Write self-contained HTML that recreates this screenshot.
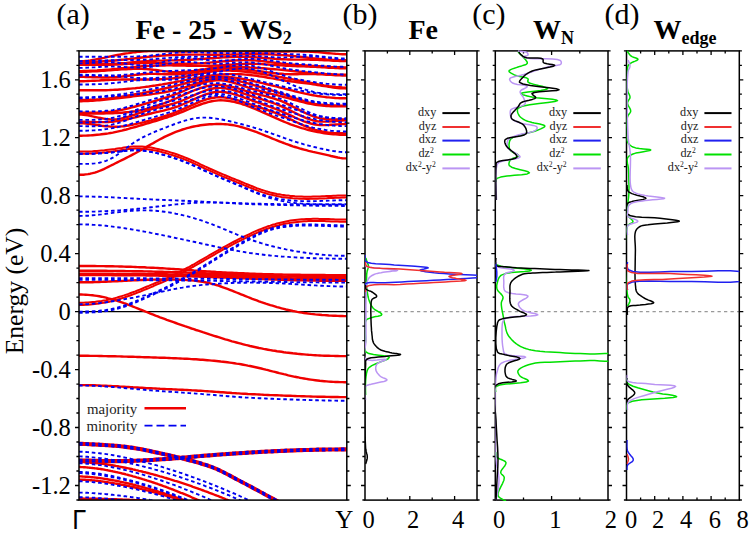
<!DOCTYPE html>
<html><head><meta charset="utf-8"><style>
html,body{margin:0;padding:0;background:#fff;width:753px;height:533px;overflow:hidden}
svg{display:block}
text{font-family:"Liberation Serif",serif;fill:#000}
.r{fill:none;stroke:#f00000;stroke-width:2.4;stroke-linejoin:round}
.thin{stroke-width:2.0}
.b{fill:none;stroke:#0000f0;stroke-width:1.9;stroke-dasharray:3.6 2.8}
.ax{fill:none;stroke:#000;stroke-width:1.5}
.tk{fill:none;stroke:#000;stroke-width:1.3}
.d{fill:none;stroke-width:1.5;stroke-linejoin:round}
.k{stroke:#000}.rd{stroke:#f03030}.bl{stroke:#2020f0}.gr{stroke:#00e000}.pu{stroke:#bb95f3}
.zl{stroke:#999;stroke-width:1.3;stroke-dasharray:3.3 3.2;fill:none}
</style></head><body>
<svg width="753" height="533" viewBox="0 0 753 533">
<defs><clipPath id="ca"><rect x="79" y="50.9" width="267.8" height="449.2"/></clipPath>
<clipPath id="cb"><rect x="365" y="50" width="112" height="451"/></clipPath>
<clipPath id="cc"><rect x="495.3" y="50" width="113" height="451"/></clipPath>
<clipPath id="cd"><rect x="626.5" y="50" width="112.8" height="451"/></clipPath>
</defs>
<g clip-path="url(#ca)">
<path d="M79 311.6H346.8" stroke="#000" stroke-width="1.2" fill="none"/>
<polyline class="r " points="79,355.8 81.3,355.8 83.5,355.8 85.8,355.8 88,355.8 90.3,355.9 92.5,355.9 94.8,355.9 97,355.9 99.3,356 101.5,356 103.8,356.1 106,356.1 108.3,356.2 110.5,356.2 112.8,356.3 115,356.3 117.3,356.4 119.5,356.4 121.8,356.5 124,356.6 126.3,356.6 128.5,356.7 130.8,356.8 133,356.8 135.3,356.9 137.5,357 139.8,357 142,357.1 144.3,357.2 146.5,357.3 148.8,357.3 151,357.4 153.3,357.5 155.5,357.5 157.8,357.6 160,357.7 162.3,357.8 164.5,357.8 166.8,357.9 169,358 171.3,358.1 173.5,358.2 175.8,358.3 178,358.4 180.3,358.5 182.5,358.6 184.8,358.7 187,358.8 189.3,358.9 191.5,359.1 193.8,359.2 196,359.3 198.3,359.5 200.5,359.7 202.8,359.8 205,360 207.3,360.2 209.5,360.4 211.8,360.6 214,360.8 216.3,361 218.5,361.2 220.8,361.5 223,361.7 225.3,362 227.5,362.3 229.8,362.6 232,362.9 234.3,363.2 236.5,363.6 238.8,363.9 241,364.3 243.3,364.7 245.5,365.1 247.8,365.6 250,366 252.3,366.5 254.5,367 256.8,367.5 259,368 261.3,368.5 263.5,369.1 265.8,369.7 268,370.2 270.3,370.8 272.5,371.4 274.8,371.9 277,372.5 279.3,373.1 281.5,373.6 283.8,374.2 286,374.7 288.3,375.3 290.5,375.8 292.8,376.3 295,376.8 297.3,377.2 299.5,377.7 301.8,378.1 304,378.5 306.3,378.9 308.5,379.3 310.8,379.6 313,379.9 315.3,380.2 317.5,380.5 319.8,380.8 322,381 324.3,381.2 326.5,381.4 328.8,381.6 331,381.7 333.3,381.9 335.5,382 337.8,382 340,382.1 342.3,382.1 344.5,382.2 346.8,382.2"/>
<polyline class="r " points="79,294.5 81.3,294.5 83.5,294.6 85.8,294.7 88,294.9 90.3,295.1 92.5,295.3 94.8,295.6 97,295.9 99.3,296.3 101.5,296.7 103.8,297.2 106,297.7 108.3,298.3 110.5,298.8 112.8,299.5 115,300.1 117.3,300.8 119.5,301.6 121.8,302.3 124,303.2 126.3,304 128.5,304.8 130.8,305.7 133,306.6 135.3,307.5 137.5,308.4 139.8,309.3 142,310.2 144.3,311.1 146.5,312 148.8,312.9 151,313.8 153.3,314.7 155.5,315.6 157.8,316.4 160,317.3 162.3,318.1 164.5,318.9 166.8,319.8 169,320.6 171.3,321.4 173.5,322.2 175.8,323 178,323.8 180.3,324.6 182.5,325.4 184.8,326.2 187,326.9 189.3,327.7 191.5,328.5 193.8,329.2 196,330 198.3,330.7 200.5,331.4 202.8,332.2 205,332.9 207.3,333.6 209.5,334.4 211.8,335.1 214,335.8 216.3,336.5 218.5,337.2 220.8,337.9 223,338.6 225.3,339.3 227.5,339.9 229.8,340.6 232,341.3 234.3,341.9 236.5,342.5 238.8,343.1 241,343.7 243.3,344.3 245.5,344.9 247.8,345.4 250,346 252.3,346.5 254.5,347 256.8,347.5 259,348 261.3,348.4 263.5,348.9 265.8,349.3 268,349.7 270.3,350.1 272.5,350.5 274.8,350.8 277,351.2 279.3,351.5 281.5,351.8 283.8,352.2 286,352.5 288.3,352.7 290.5,353 292.8,353.3 295,353.5 297.3,353.8 299.5,354 301.8,354.2 304,354.4 306.3,354.6 308.5,354.8 310.8,354.9 313,355.1 315.3,355.2 317.5,355.4 319.8,355.5 322,355.6 324.3,355.7 326.5,355.8 328.8,355.8 331,355.9 333.3,355.9 335.5,356 337.8,356 340,356.1 342.3,356.1 344.5,356.1 346.8,356.1"/>
<polyline class="r " points="79,282.3 81.3,282.3 83.5,282.3 85.8,282.3 88,282.2 90.3,282.2 92.5,282.2 94.8,282.1 97,282 99.3,282 101.5,281.9 103.8,281.8 106,281.7 108.3,281.6 110.5,281.5 112.8,281.4 115,281.3 117.3,281.2 119.5,281.1 121.8,281 124,280.9 126.3,280.8 128.5,280.6 130.8,280.5 133,280.4 135.3,280.3 137.5,280.2 139.8,280.1 142,280 144.3,279.9 146.5,279.8 148.8,279.8 151,279.7 153.3,279.6 155.5,279.6 157.8,279.5 160,279.5 162.3,279.5 164.5,279.4 166.8,279.4 169,279.4 171.3,279.5 173.5,279.5 175.8,279.6 178,279.6 180.3,279.7 182.5,279.8 184.8,279.9 187,280.1 189.3,280.2 191.5,280.4 193.8,280.6 196,280.9 198.3,281.2 200.5,281.5 202.8,281.9 205,282.3 207.3,282.7 209.5,283.2 211.8,283.8 214,284.4 216.3,285 218.5,285.7 220.8,286.5 223,287.3 225.3,288.1 227.5,288.9 229.8,289.8 232,290.7 234.3,291.6 236.5,292.5 238.8,293.4 241,294.3 243.3,295.2 245.5,296.1 247.8,297 250,297.9 252.3,298.8 254.5,299.6 256.8,300.4 259,301.3 261.3,302.1 263.5,302.8 265.8,303.6 268,304.3 270.3,305.1 272.5,305.7 274.8,306.4 277,307.1 279.3,307.7 281.5,308.3 283.8,308.9 286,309.5 288.3,310 290.5,310.5 292.8,311 295,311.4 297.3,311.9 299.5,312.3 301.8,312.6 304,313 306.3,313.3 308.5,313.6 310.8,313.9 313,314.1 315.3,314.4 317.5,314.6 319.8,314.8 322,315 324.3,315.1 326.5,315.3 328.8,315.5 331,315.6 333.3,315.7 335.5,315.8 337.8,315.9 340,316 342.3,316 344.5,316.1 346.8,316.1"/>
<polyline class="r thin" points="79,304.9 81.3,304.9 83.5,304.9 85.8,304.8 88,304.7 90.3,304.5 92.5,304.3 94.8,304.1 97,303.8 99.3,303.5 101.5,303.1 103.8,302.8 106,302.3 108.3,301.9 110.5,301.4 112.8,300.8 115,300.3 117.3,299.6 119.5,299 121.8,298.3 124,297.6 126.3,296.8 128.5,296 130.8,295.2 133,294.4 135.3,293.5 137.5,292.6 139.8,291.8 142,290.8 144.3,289.9 146.5,289 148.8,288.1 151,287.1 153.3,286.2 155.5,285.2 157.8,284.2 160,283.3 162.3,282.3 164.5,281.3 166.8,280.3 169,279.2 171.3,278.2 173.5,277.1 175.8,276 178,274.9 180.3,273.8 182.5,272.6 184.8,271.4 187,270.2 189.3,269 191.5,267.7 193.8,266.5 196,265.2 198.3,263.9 200.5,262.6 202.8,261.3 205,260 207.3,258.7 209.5,257.4 211.8,256.1 214,254.8 216.3,253.5 218.5,252.2 220.8,251 223,249.7 225.3,248.5 227.5,247.3 229.8,246 232,244.9 234.3,243.7 236.5,242.5 238.8,241.4 241,240.3 243.3,239.1 245.5,238.1 247.8,237 250,235.9 252.3,234.9 254.5,233.9 256.8,232.9 259,232 261.3,231 263.5,230.2 265.8,229.3 268,228.5 270.3,227.7 272.5,227 274.8,226.3 277,225.7 279.3,225.1 281.5,224.6 283.8,224.1 286,223.6 288.3,223.2 290.5,222.8 292.8,222.5 295,222.2 297.3,221.9 299.5,221.7 301.8,221.5 304,221.3 306.3,221.2 308.5,221.1 310.8,221.1 313,221 315.3,221 317.5,221 319.8,221 322,221.1 324.3,221.1 326.5,221.2 328.8,221.3 331,221.4 333.3,221.5 335.5,221.5 337.8,221.6 340,221.7 342.3,221.7 344.5,221.8 346.8,221.8"/>
<polyline class="r thin" points="79,302.8 81.3,302.7 83.5,302.7 85.8,302.6 88,302.5 90.3,302.3 92.5,302.1 94.8,301.9 97,301.6 99.3,301.3 101.5,301 103.8,300.6 106,300.2 108.3,299.7 110.5,299.2 112.8,298.7 115,298.1 117.3,297.5 119.5,296.8 121.8,296.1 124,295.4 126.3,294.6 128.5,293.9 130.8,293 133,292.2 135.3,291.4 137.5,290.5 139.8,289.6 142,288.7 144.3,287.7 146.5,286.8 148.8,285.9 151,284.9 153.3,284 155.5,283 157.8,282.1 160,281.1 162.3,280.1 164.5,279.1 166.8,278.1 169,277.1 171.3,276 173.5,274.9 175.8,273.9 178,272.7 180.3,271.6 182.5,270.4 184.8,269.2 187,268 189.3,266.8 191.5,265.5 193.8,264.3 196,263 198.3,261.7 200.5,260.4 202.8,259.1 205,257.8 207.3,256.5 209.5,255.2 211.8,253.9 214,252.6 216.3,251.3 218.5,250 220.8,248.8 223,247.5 225.3,246.3 227.5,245.1 229.8,243.9 232,242.7 234.3,241.5 236.5,240.4 238.8,239.2 241,238.1 243.3,237 245.5,235.9 247.8,234.8 250,233.8 252.3,232.7 254.5,231.7 256.8,230.7 259,229.8 261.3,228.9 263.5,228 265.8,227.1 268,226.3 270.3,225.6 272.5,224.8 274.8,224.2 277,223.5 279.3,222.9 281.5,222.4 283.8,221.9 286,221.4 288.3,221 290.5,220.6 292.8,220.3 295,220 297.3,219.7 299.5,219.5 301.8,219.3 304,219.2 306.3,219 308.5,219 310.8,218.9 313,218.8 315.3,218.8 317.5,218.8 319.8,218.9 322,218.9 324.3,219 326.5,219 328.8,219.1 331,219.2 333.3,219.3 335.5,219.4 337.8,219.4 340,219.5 342.3,219.5 344.5,219.6 346.8,219.6"/>
<polyline class="r " points="79,266 81.3,266 83.5,266 85.8,266 88,266 90.3,266 92.5,266 94.8,266 97,266.1 99.3,266.1 101.5,266.1 103.8,266.1 106,266.2 108.3,266.2 110.5,266.3 112.8,266.3 115,266.4 117.3,266.4 119.5,266.5 121.8,266.5 124,266.6 126.3,266.7 128.5,266.7 130.8,266.8 133,266.9 135.3,267 137.5,267.1 139.8,267.2 142,267.2 144.3,267.3 146.5,267.5 148.8,267.6 151,267.7 153.3,267.8 155.5,267.9 157.8,268 160,268.2 162.3,268.3 164.5,268.4 166.8,268.6 169,268.7 171.3,268.9 173.5,269 175.8,269.2 178,269.3 180.3,269.5 182.5,269.7 184.8,269.8 187,270 189.3,270.1 191.5,270.3 193.8,270.5 196,270.6 198.3,270.8 200.5,270.9 202.8,271.1 205,271.2 207.3,271.4 209.5,271.5 211.8,271.7 214,271.8 216.3,272 218.5,272.1 220.8,272.2 223,272.4 225.3,272.5 227.5,272.6 229.8,272.7 232,272.8 234.3,272.9 236.5,273 238.8,273.1 241,273.2 243.3,273.3 245.5,273.4 247.8,273.5 250,273.6 252.3,273.7 254.5,273.8 256.8,273.9 259,273.9 261.3,274 263.5,274.1 265.8,274.1 268,274.2 270.3,274.3 272.5,274.3 274.8,274.4 277,274.4 279.3,274.5 281.5,274.5 283.8,274.6 286,274.6 288.3,274.7 290.5,274.7 292.8,274.7 295,274.8 297.3,274.8 299.5,274.8 301.8,274.9 304,274.9 306.3,274.9 308.5,274.9 310.8,275 313,275 315.3,275 317.5,275 319.8,275 322,275 324.3,275 326.5,275.1 328.8,275.1 331,275.1 333.3,275.1 335.5,275.1 337.8,275.1 340,275.1 342.3,275.1 344.5,275.1 346.8,275.1"/>
<polyline class="r " points="79,270.7 81.3,270.7 83.5,270.7 85.8,270.7 88,270.7 90.3,270.8 92.5,270.8 94.8,270.8 97,270.8 99.3,270.8 101.5,270.8 103.8,270.8 106,270.8 108.3,270.9 110.5,270.9 112.8,270.9 115,270.9 117.3,271 119.5,271 121.8,271 124,271 126.3,271.1 128.5,271.1 130.8,271.1 133,271.2 135.3,271.2 137.5,271.3 139.8,271.3 142,271.3 144.3,271.4 146.5,271.4 148.8,271.5 151,271.5 153.3,271.6 155.5,271.7 157.8,271.7 160,271.8 162.3,271.8 164.5,271.9 166.8,272 169,272 171.3,272.1 173.5,272.2 175.8,272.2 178,272.3 180.3,272.4 182.5,272.5 184.8,272.5 187,272.6 189.3,272.7 191.5,272.8 193.8,272.9 196,273 198.3,273 200.5,273.1 202.8,273.2 205,273.3 207.3,273.4 209.5,273.5 211.8,273.6 214,273.7 216.3,273.8 218.5,273.9 220.8,274 223,274.1 225.3,274.2 227.5,274.3 229.8,274.4 232,274.4 234.3,274.5 236.5,274.6 238.8,274.7 241,274.8 243.3,274.9 245.5,275 247.8,275.1 250,275.2 252.3,275.3 254.5,275.4 256.8,275.5 259,275.5 261.3,275.6 263.5,275.7 265.8,275.8 268,275.9 270.3,275.9 272.5,276 274.8,276.1 277,276.2 279.3,276.2 281.5,276.3 283.8,276.4 286,276.4 288.3,276.5 290.5,276.5 292.8,276.6 295,276.6 297.3,276.7 299.5,276.7 301.8,276.7 304,276.8 306.3,276.8 308.5,276.9 310.8,276.9 313,276.9 315.3,276.9 317.5,277 319.8,277 322,277 324.3,277 326.5,277 328.8,277.1 331,277.1 333.3,277.1 335.5,277.1 337.8,277.1 340,277.1 342.3,277.1 344.5,277.1 346.8,277.1"/>
<polyline class="r " points="79,273.8 81.3,273.8 83.5,273.8 85.8,273.8 88,273.8 90.3,273.8 92.5,273.8 94.8,273.8 97,273.8 99.3,273.8 101.5,273.8 103.8,273.8 106,273.8 108.3,273.8 110.5,273.8 112.8,273.8 115,273.9 117.3,273.9 119.5,273.9 121.8,273.9 124,273.9 126.3,273.9 128.5,273.9 130.8,273.9 133,274 135.3,274 137.5,274 139.8,274 142,274 144.3,274 146.5,274.1 148.8,274.1 151,274.1 153.3,274.1 155.5,274.2 157.8,274.2 160,274.2 162.3,274.3 164.5,274.3 166.8,274.3 169,274.4 171.3,274.4 173.5,274.4 175.8,274.5 178,274.5 180.3,274.5 182.5,274.6 184.8,274.6 187,274.7 189.3,274.7 191.5,274.8 193.8,274.8 196,274.9 198.3,274.9 200.5,275 202.8,275.1 205,275.1 207.3,275.2 209.5,275.3 211.8,275.3 214,275.4 216.3,275.5 218.5,275.6 220.8,275.7 223,275.7 225.3,275.8 227.5,275.9 229.8,276 232,276.1 234.3,276.2 236.5,276.3 238.8,276.4 241,276.5 243.3,276.6 245.5,276.7 247.8,276.7 250,276.8 252.3,276.9 254.5,277 256.8,277.1 259,277.2 261.3,277.3 263.5,277.4 265.8,277.5 268,277.6 270.3,277.7 272.5,277.7 274.8,277.8 277,277.9 279.3,278 281.5,278 283.8,278.1 286,278.2 288.3,278.2 290.5,278.3 292.8,278.4 295,278.4 297.3,278.5 299.5,278.5 301.8,278.6 304,278.6 306.3,278.6 308.5,278.7 310.8,278.7 313,278.8 315.3,278.8 317.5,278.8 319.8,278.8 322,278.9 324.3,278.9 326.5,278.9 328.8,278.9 331,278.9 333.3,279 335.5,279 337.8,279 340,279 342.3,279 344.5,279 346.8,279"/>
<polyline class="r " points="79,275.1 81.3,275.1 83.5,275.1 85.8,275.1 88,275.1 90.3,275.1 92.5,275.1 94.8,275.1 97,275.1 99.3,275.1 101.5,275.1 103.8,275.1 106,275.1 108.3,275.1 110.5,275.1 112.8,275.2 115,275.2 117.3,275.2 119.5,275.2 121.8,275.2 124,275.2 126.3,275.2 128.5,275.3 130.8,275.3 133,275.3 135.3,275.3 137.5,275.4 139.8,275.4 142,275.4 144.3,275.4 146.5,275.5 148.8,275.5 151,275.5 153.3,275.6 155.5,275.6 157.8,275.6 160,275.7 162.3,275.7 164.5,275.8 166.8,275.8 169,275.9 171.3,275.9 173.5,276 175.8,276 178,276.1 180.3,276.1 182.5,276.2 184.8,276.2 187,276.3 189.3,276.4 191.5,276.4 193.8,276.5 196,276.6 198.3,276.6 200.5,276.7 202.8,276.8 205,276.8 207.3,276.9 209.5,277 211.8,277.1 214,277.2 216.3,277.2 218.5,277.3 220.8,277.4 223,277.5 225.3,277.6 227.5,277.7 229.8,277.8 232,277.9 234.3,277.9 236.5,278 238.8,278.1 241,278.2 243.3,278.3 245.5,278.4 247.8,278.5 250,278.6 252.3,278.7 254.5,278.8 256.8,278.9 259,279 261.3,279 263.5,279.1 265.8,279.2 268,279.3 270.3,279.4 272.5,279.5 274.8,279.5 277,279.6 279.3,279.7 281.5,279.8 283.8,279.8 286,279.9 288.3,280 290.5,280.1 292.8,280.1 295,280.2 297.3,280.2 299.5,280.3 301.8,280.3 304,280.4 306.3,280.4 308.5,280.5 310.8,280.5 313,280.6 315.3,280.6 317.5,280.6 319.8,280.7 322,280.7 324.3,280.7 326.5,280.8 328.8,280.8 331,280.8 333.3,280.8 335.5,280.8 337.8,280.9 340,280.9 342.3,280.9 344.5,280.9 346.8,280.9"/>
<polyline class="r " points="79,385.1 81.3,385.1 83.5,385.1 85.8,385.1 88,385.2 90.3,385.2 92.5,385.3 94.8,385.3 97,385.4 99.3,385.5 101.5,385.6 103.8,385.7 106,385.8 108.3,385.9 110.5,386 112.8,386.1 115,386.2 117.3,386.3 119.5,386.5 121.8,386.6 124,386.7 126.3,386.9 128.5,387 130.8,387.1 133,387.3 135.3,387.4 137.5,387.5 139.8,387.7 142,387.8 144.3,387.9 146.5,388.1 148.8,388.2 151,388.3 153.3,388.4 155.5,388.5 157.8,388.6 160,388.8 162.3,388.9 164.5,389 166.8,389.1 169,389.2 171.3,389.3 173.5,389.4 175.8,389.5 178,389.6 180.3,389.7 182.5,389.8 184.8,389.9 187,390 189.3,390.1 191.5,390.3 193.8,390.4 196,390.5 198.3,390.7 200.5,390.8 202.8,390.9 205,391.1 207.3,391.2 209.5,391.4 211.8,391.5 214,391.7 216.3,391.9 218.5,392 220.8,392.2 223,392.3 225.3,392.5 227.5,392.7 229.8,392.8 232,393 234.3,393.1 236.5,393.3 238.8,393.4 241,393.6 243.3,393.7 245.5,393.8 247.8,394 250,394.1 252.3,394.2 254.5,394.3 256.8,394.4 259,394.5 261.3,394.6 263.5,394.8 265.8,394.9 268,395 270.3,395.1 272.5,395.1 274.8,395.2 277,395.3 279.3,395.4 281.5,395.5 283.8,395.6 286,395.7 288.3,395.8 290.5,395.8 292.8,395.9 295,396 297.3,396.1 299.5,396.1 301.8,396.2 304,396.3 306.3,396.4 308.5,396.4 310.8,396.5 313,396.6 315.3,396.6 317.5,396.7 319.8,396.7 322,396.8 324.3,396.8 326.5,396.9 328.8,396.9 331,397 333.3,397 335.5,397 337.8,397 340,397.1 342.3,397.1 344.5,397.1 346.8,397.1"/>
<polyline class="r " points="79,174.8 81.3,174.8 83.5,174.7 85.8,174.4 88,174.1 90.3,173.7 92.5,173.2 94.8,172.6 97,171.9 99.3,171 101.5,170.1 103.8,169.1 106,168 108.3,166.9 110.5,165.8 112.8,164.7 115,163.5 117.3,162.4 119.5,161.3 121.8,160.2 124,159.1 126.3,157.9 128.5,156.8 130.8,155.6 133,154.4 135.3,153.2 137.5,152 139.8,150.8 142,149.5 144.3,148.2 146.5,146.9 148.8,145.6 151,144.3 153.3,143.1 155.5,141.8 157.8,140.5 160,139.3 162.3,138.1 164.5,136.9 166.8,135.8 169,134.8 171.3,133.8 173.5,132.8 175.8,131.9 178,131.1 180.3,130.3 182.5,129.5 184.8,128.8 187,128.2 189.3,127.6 191.5,127 193.8,126.5 196,126.1 198.3,125.7 200.5,125.3 202.8,125 205,124.7 207.3,124.5 209.5,124.3 211.8,124.2 214,124.1 216.3,124 218.5,124 220.8,124 223,124.1 225.3,124.2 227.5,124.4 229.8,124.7 232,125 234.3,125.4 236.5,125.9 238.8,126.4 241,127 243.3,127.6 245.5,128.3 247.8,129 250,129.8 252.3,130.6 254.5,131.4 256.8,132.2 259,133.1 261.3,134 263.5,134.9 265.8,135.8 268,136.7 270.3,137.6 272.5,138.6 274.8,139.5 277,140.4 279.3,141.3 281.5,142.2 283.8,143 286,143.9 288.3,144.7 290.5,145.5 292.8,146.3 295,147 297.3,147.7 299.5,148.4 301.8,149 304,149.6 306.3,150.2 308.5,150.8 310.8,151.3 313,151.9 315.3,152.4 317.5,152.9 319.8,153.4 322,153.9 324.3,154.4 326.5,154.9 328.8,155.4 331,156 333.3,156.5 335.5,157 337.8,157.5 340,157.9 342.3,158.2 344.5,158.4 346.8,158.4"/>
<polyline class="r thin" points="79,153.8 81.3,153.8 83.5,153.8 85.8,153.7 88,153.6 90.3,153.5 92.5,153.4 94.8,153.3 97,153.1 99.3,153 101.5,152.8 103.8,152.5 106,152.3 108.3,152 110.5,151.7 112.8,151.4 115,151.1 117.3,150.7 119.5,150.4 121.8,150 124,149.7 126.3,149.4 128.5,149.1 130.8,148.9 133,148.7 135.3,148.6 137.5,148.6 139.8,148.6 142,148.7 144.3,148.9 146.5,149.1 148.8,149.4 151,149.8 153.3,150.2 155.5,150.6 157.8,151.1 160,151.6 162.3,152.2 164.5,152.8 166.8,153.4 169,154.1 171.3,154.7 173.5,155.5 175.8,156.2 178,157 180.3,157.8 182.5,158.6 184.8,159.5 187,160.4 189.3,161.4 191.5,162.3 193.8,163.3 196,164.4 198.3,165.4 200.5,166.5 202.8,167.5 205,168.6 207.3,169.6 209.5,170.7 211.8,171.7 214,172.7 216.3,173.7 218.5,174.7 220.8,175.6 223,176.6 225.3,177.5 227.5,178.4 229.8,179.3 232,180.2 234.3,181.2 236.5,182.1 238.8,183 241,183.9 243.3,184.8 245.5,185.8 247.8,186.7 250,187.6 252.3,188.5 254.5,189.4 256.8,190.2 259,191.1 261.3,191.9 263.5,192.6 265.8,193.3 268,194 270.3,194.6 272.5,195.1 274.8,195.6 277,196.1 279.3,196.5 281.5,196.9 283.8,197.2 286,197.5 288.3,197.8 290.5,198 292.8,198.3 295,198.4 297.3,198.6 299.5,198.7 301.8,198.8 304,198.8 306.3,198.9 308.5,198.9 310.8,198.8 313,198.8 315.3,198.7 317.5,198.7 319.8,198.6 322,198.5 324.3,198.4 326.5,198.3 328.8,198.1 331,198 333.3,197.9 335.5,197.8 337.8,197.7 340,197.7 342.3,197.6 344.5,197.6 346.8,197.6"/>
<polyline class="r thin" points="79,151.6 81.3,151.6 83.5,151.6 85.8,151.5 88,151.5 90.3,151.4 92.5,151.3 94.8,151.1 97,151 99.3,150.8 101.5,150.6 103.8,150.4 106,150.1 108.3,149.8 110.5,149.5 112.8,149.2 115,148.9 117.3,148.5 119.5,148.2 121.8,147.9 124,147.5 126.3,147.2 128.5,147 130.8,146.7 133,146.6 135.3,146.5 137.5,146.4 139.8,146.4 142,146.5 144.3,146.7 146.5,147 148.8,147.3 151,147.6 153.3,148 155.5,148.5 157.8,148.9 160,149.5 162.3,150 164.5,150.6 166.8,151.2 169,151.9 171.3,152.6 173.5,153.3 175.8,154 178,154.8 180.3,155.6 182.5,156.5 184.8,157.4 187,158.3 189.3,159.2 191.5,160.2 193.8,161.2 196,162.2 198.3,163.2 200.5,164.3 202.8,165.3 205,166.4 207.3,167.4 209.5,168.5 211.8,169.5 214,170.5 216.3,171.5 218.5,172.5 220.8,173.5 223,174.4 225.3,175.3 227.5,176.2 229.8,177.2 232,178.1 234.3,179 236.5,179.9 238.8,180.8 241,181.7 243.3,182.7 245.5,183.6 247.8,184.5 250,185.4 252.3,186.3 254.5,187.2 256.8,188.1 259,188.9 261.3,189.7 263.5,190.4 265.8,191.1 268,191.8 270.3,192.4 272.5,192.9 274.8,193.4 277,193.9 279.3,194.3 281.5,194.7 283.8,195 286,195.4 288.3,195.6 290.5,195.9 292.8,196.1 295,196.3 297.3,196.4 299.5,196.5 301.8,196.6 304,196.7 306.3,196.7 308.5,196.7 310.8,196.7 313,196.6 315.3,196.6 317.5,196.5 319.8,196.4 322,196.3 324.3,196.2 326.5,196.1 328.8,196 331,195.9 333.3,195.7 335.5,195.7 337.8,195.6 340,195.5 342.3,195.4 344.5,195.4 346.8,195.4"/>
<polyline class="r " points="79,442.9 80.8,442.9 82.6,443 84.4,443.1 86.2,443.2 88,443.3 89.8,443.4 91.6,443.4 93.4,443.5 95.2,443.6 97,443.7 98.8,443.8 100.6,443.9 102.4,444 104.2,444.1 106,444.3 107.8,444.4 109.6,444.5 111.4,444.6 113.2,444.7 115,444.9 116.8,445 118.6,445.2 120.4,445.4 122.2,445.6 124,445.8 125.8,446 127.6,446.2 129.4,446.5 131.2,446.7 133,447 134.8,447.3 136.6,447.6 138.4,447.9 140.2,448.2 142,448.5 143.8,448.9 145.6,449.3 147.4,449.6 149.2,450 151,450.4 152.8,450.8 154.6,451.2 156.4,451.6 158.2,452 160,452.4 161.8,452.8 163.6,453.2 165.4,453.6 167.2,454 169,454.4 170.8,454.8 172.6,455.2 174.4,455.6 176.2,456.1 178,456.5 179.8,457 181.6,457.4 183.4,457.9 185.2,458.3 187,458.8 188.8,459.2 190.6,459.7 192.4,460.2 194.2,460.7 196,461.2 197.8,461.7 199.6,462.2 201.4,462.7 203.2,463.3 205,463.8 206.8,464.4 208.6,465 210.4,465.7 212.2,466.3 214,467 215.8,467.8 217.6,468.6 219.4,469.4 221.2,470.3 223,471.2 224.8,472.1 226.6,473 228.4,474 230.2,474.9 232,475.9 233.8,476.9 235.6,477.8 237.4,478.8 239.2,479.7 241,480.7 242.8,481.6 244.6,482.6 246.4,483.5 248.2,484.5 250,485.4 251.8,486.4 253.6,487.4 255.4,488.3 257.2,489.3 259,490.3 260.8,491.3 262.6,492.2 264.4,493.2 266.2,494.2 268,495.2 269.8,496.2 271.6,497.1 273.4,498.1 275.2,499.1 277,500 278.8,501 280.6,502 282.4,502.9 284.2,503.9 286,504.8 287.8,505.8 289.6,506.8 291.4,507.7 293.2,508.7"/>
<polyline class="r " points="79,459.7 81.3,459.7 83.5,459.7 85.8,459.7 88,459.8 90.3,459.8 92.5,459.9 94.8,459.9 97,460 99.3,460 101.5,460.1 103.8,460.1 106,460.2 108.3,460.2 110.5,460.2 112.8,460.2 115,460.3 117.3,460.3 119.5,460.3 121.8,460.2 124,460.2 126.3,460.2 128.5,460.1 130.8,460 133,460 135.3,459.9 137.5,459.8 139.8,459.7 142,459.6 144.3,459.5 146.5,459.4 148.8,459.2 151,459.1 153.3,459 155.5,458.8 157.8,458.7 160,458.5 162.3,458.4 164.5,458.2 166.8,458.1 169,457.9 171.3,457.8 173.5,457.6 175.8,457.4 178,457.2 180.3,457 182.5,456.8 184.8,456.6 187,456.4 189.3,456.2 191.5,456 193.8,455.8 196,455.6 198.3,455.4 200.5,455.2 202.8,455 205,454.8 207.3,454.6 209.5,454.4 211.8,454.3 214,454.1 216.3,453.9 218.5,453.7 220.8,453.6 223,453.4 225.3,453.3 227.5,453.1 229.8,452.9 232,452.8 234.3,452.6 236.5,452.5 238.8,452.4 241,452.2 243.3,452.1 245.5,451.9 247.8,451.8 250,451.7 252.3,451.5 254.5,451.4 256.8,451.3 259,451.1 261.3,451 263.5,450.9 265.8,450.8 268,450.7 270.3,450.6 272.5,450.4 274.8,450.3 277,450.2 279.3,450.1 281.5,450 283.8,449.9 286,449.8 288.3,449.7 290.5,449.6 292.8,449.6 295,449.5 297.3,449.4 299.5,449.3 301.8,449.3 304,449.2 306.3,449.1 308.5,449.1 310.8,449 313,448.9 315.3,448.9 317.5,448.8 319.8,448.8 322,448.8 324.3,448.7 326.5,448.7 328.8,448.6 331,448.6 333.3,448.6 335.5,448.6 337.8,448.6 340,448.5 342.3,448.5 344.5,448.5 346.8,448.5"/>
<polyline class="r " points="79,444.6 80.8,444.7 82.6,444.8 84.4,444.8 86.2,444.9 88,445 89.8,445.1 91.6,445.2 93.4,445.3 95.2,445.4 97,445.5 98.8,445.6 100.6,445.7 102.4,445.8 104.2,445.9 106,446 107.8,446.1 109.6,446.2 111.4,446.4 113.2,446.5 115,446.6 116.8,446.8 118.6,446.9 120.4,447.1 122.2,447.3 124,447.5 125.8,447.7 127.6,448 129.4,448.2 131.2,448.5 133,448.8 134.8,449 136.6,449.3 138.4,449.6 140.2,449.9 142,450.3 143.8,450.6 145.6,451 147.4,451.4 149.2,451.8 151,452.2 152.8,452.6 154.6,453 156.4,453.3 158.2,453.7 160,454.1 161.8,454.5 163.6,454.9 165.4,455.3 167.2,455.7 169,456.1 170.8,456.5 172.6,457 174.4,457.4 176.2,457.8 178,458.3 179.8,458.7 181.6,459.2 183.4,459.6 185.2,460.1 187,460.5 188.8,461 190.6,461.5 192.4,461.9 194.2,462.4 196,462.9 197.8,463.4 199.6,463.9 201.4,464.5 203.2,465 205,465.6 206.8,466.2 208.6,466.8 210.4,467.4 212.2,468 214,468.8 215.8,469.5 217.6,470.3 219.4,471.1 221.2,472 223,472.9 224.8,473.8 226.6,474.8 228.4,475.7 230.2,476.7 232,477.6 233.8,478.6 235.6,479.6 237.4,480.5 239.2,481.5 241,482.4 242.8,483.4 244.6,484.3 246.4,485.2 248.2,486.2 250,487.2 251.8,488.1 253.6,489.1 255.4,490.1 257.2,491 259,492 260.8,493 262.6,494 264.4,495 266.2,495.9 268,496.9 269.8,497.9 271.6,498.9 273.4,499.8 275.2,500.8 277,501.8 278.8,502.7 280.6,503.7 282.4,504.7 284.2,505.6 286,506.6 287.8,507.5 289.6,508.5 291.4,509.4 293.2,510.4"/>
<polyline class="r " points="79,461.4 81.3,461.4 83.5,461.4 85.8,461.5 88,461.5 90.3,461.5 92.5,461.6 94.8,461.6 97,461.7 99.3,461.7 101.5,461.8 103.8,461.8 106,461.9 108.3,461.9 110.5,462 112.8,462 115,462 117.3,462 119.5,462 121.8,462 124,462 126.3,461.9 128.5,461.9 130.8,461.8 133,461.7 135.3,461.6 137.5,461.5 139.8,461.4 142,461.3 144.3,461.2 146.5,461.1 148.8,461 151,460.8 153.3,460.7 155.5,460.6 157.8,460.4 160,460.3 162.3,460.1 164.5,460 166.8,459.8 169,459.7 171.3,459.5 173.5,459.3 175.8,459.1 178,459 180.3,458.8 182.5,458.6 184.8,458.4 187,458.2 189.3,458 191.5,457.8 193.8,457.6 196,457.3 198.3,457.1 200.5,456.9 202.8,456.7 205,456.5 207.3,456.4 209.5,456.2 211.8,456 214,455.8 216.3,455.6 218.5,455.5 220.8,455.3 223,455.1 225.3,455 227.5,454.8 229.8,454.7 232,454.5 234.3,454.4 236.5,454.2 238.8,454.1 241,454 243.3,453.8 245.5,453.7 247.8,453.5 250,453.4 252.3,453.3 254.5,453.1 256.8,453 259,452.9 261.3,452.8 263.5,452.6 265.8,452.5 268,452.4 270.3,452.3 272.5,452.2 274.8,452.1 277,452 279.3,451.9 281.5,451.8 283.8,451.7 286,451.6 288.3,451.5 290.5,451.4 292.8,451.3 295,451.2 297.3,451.1 299.5,451.1 301.8,451 304,450.9 306.3,450.9 308.5,450.8 310.8,450.7 313,450.7 315.3,450.6 317.5,450.6 319.8,450.5 322,450.5 324.3,450.5 326.5,450.4 328.8,450.4 331,450.4 333.3,450.3 335.5,450.3 337.8,450.3 340,450.3 342.3,450.3 344.5,450.3 346.8,450.3"/>
<polyline class="r " points="79,461.9 80.5,461.9 82,462 83.5,462.1 85,462.2 86.5,462.3 88,462.4 89.5,462.5 91,462.7 92.5,462.8 94,462.9 95.5,463.1 97,463.2 98.5,463.4 100,463.5 101.5,463.7 103,463.9 104.5,464.1 106,464.3 107.5,464.5 109,464.7 110.5,465 112,465.2 113.5,465.5 115,465.8 116.5,466.1 118,466.3 119.5,466.6 121,466.9 122.5,467.2 124,467.5 125.5,467.8 127,468.1 128.5,468.4 130,468.7 131.5,469 133,469.4 134.5,469.7 136,470.1 137.5,470.4 139,470.8 140.4,471.1 141.9,471.5 143.4,471.9 144.9,472.2 146.4,472.6 147.9,473 149.4,473.4 150.9,473.8 152.4,474.2 153.9,474.6 155.4,475 156.9,475.4 158.4,475.8 159.9,476.3 161.4,476.7 162.9,477.1 164.4,477.6 165.9,478 167.4,478.5 168.9,478.9 170.4,479.4 171.9,479.8 173.4,480.3 174.9,480.8 176.4,481.2 177.9,481.7 179.4,482.2 180.9,482.7 182.4,483.2 183.9,483.7 185.4,484.2 186.9,484.7 188.4,485.2 189.9,485.7 191.4,486.2 192.9,486.8 194.4,487.3 195.9,487.8 197.4,488.3 198.9,488.9 200.4,489.4 201.9,490 203.4,490.5 204.9,491.1 206.4,491.6 207.9,492.2 209.4,492.8 210.9,493.3 212.4,493.9 213.9,494.5 215.4,495.1 216.9,495.7 218.4,496.2 219.9,496.8 221.4,497.4 222.9,498 224.4,498.6 225.9,499.3 227.4,499.9 228.9,500.5 230.4,501.1 231.9,501.7 233.4,502.4 234.9,503 236.4,503.6 237.9,504.3 239.4,504.9 240.9,505.5 242.4,506.2 243.9,506.8 245.4,507.5 246.9,508.2 248.4,508.8 249.9,509.5 251.4,510.2 252.9,510.8 254.4,511.5 255.9,512.2 257.4,512.9"/>
<polyline class="r " points="79,466.9 80.2,467 81.4,467.1 82.6,467.1 83.8,467.2 85,467.3 86.2,467.4 87.4,467.5 88.6,467.6 89.8,467.7 91,467.9 92.2,468 93.4,468.1 94.6,468.3 95.8,468.4 97,468.5 98.2,468.7 99.4,468.9 100.6,469 101.8,469.2 103,469.4 104.2,469.6 105.4,469.9 106.6,470.1 107.8,470.3 109,470.6 110.2,470.8 111.4,471.1 112.6,471.3 113.8,471.6 115,471.8 116.2,472.1 117.4,472.3 118.6,472.6 119.8,472.9 121,473.2 122.2,473.5 123.4,473.7 124.6,474 125.8,474.4 127,474.7 128.2,475 129.4,475.3 130.6,475.6 131.8,475.9 133,476.3 134.2,476.6 135.4,476.9 136.6,477.3 137.8,477.6 139,478 140.2,478.3 141.3,478.7 142.5,479.1 143.7,479.4 144.9,479.8 146.1,480.2 147.3,480.6 148.5,480.9 149.7,481.3 150.9,481.7 152.1,482.1 153.3,482.5 154.5,482.9 155.7,483.3 156.9,483.7 158.1,484.2 159.3,484.6 160.5,485 161.7,485.4 162.9,485.9 164.1,486.3 165.3,486.7 166.5,487.2 167.7,487.6 168.9,488.1 170.1,488.5 171.3,489 172.5,489.4 173.7,489.9 174.9,490.4 176.1,490.8 177.3,491.3 178.5,491.8 179.7,492.3 180.9,492.8 182.1,493.2 183.3,493.7 184.5,494.2 185.7,494.7 186.9,495.2 188.1,495.7 189.3,496.2 190.5,496.7 191.7,497.3 192.9,497.8 194.1,498.3 195.3,498.8 196.5,499.4 197.7,499.9 198.9,500.4 200.1,501 201.3,501.5 202.5,502 203.7,502.6 204.9,503.1 206.1,503.7 207.3,504.2 208.5,504.8 209.7,505.4 210.9,505.9 212.1,506.5 213.3,507.1 214.5,507.6 215.7,508.2 216.9,508.8 218.1,509.4 219.3,510 220.5,510.6 221.7,511.2"/>
<polyline class="r " points="79,476.4 80.1,476.4 81.1,476.4 82.2,476.5 83.2,476.6 84.3,476.6 85.3,476.7 86.4,476.8 87.4,476.8 88.5,476.9 89.5,477 90.6,477.1 91.6,477.2 92.7,477.3 93.7,477.4 94.8,477.5 95.9,477.6 96.9,477.7 98,477.9 99,478 100.1,478.1 101.1,478.3 102.2,478.4 103.2,478.6 104.3,478.8 105.3,478.9 106.4,479.1 107.4,479.3 108.5,479.5 109.5,479.7 110.6,479.8 111.6,480 112.7,480.2 113.8,480.4 114.8,480.6 115.9,480.8 116.9,481 118,481.2 119,481.4 120.1,481.7 121.1,481.9 122.2,482.1 123.2,482.3 124.3,482.6 125.3,482.8 126.4,483 127.4,483.3 128.5,483.5 129.6,483.7 130.6,484 131.7,484.2 132.7,484.5 133.8,484.8 134.8,485 135.9,485.3 136.9,485.6 138,485.8 139,486.1 140.1,486.4 141.1,486.6 142.2,486.9 143.2,487.2 144.3,487.5 145.4,487.8 146.4,488.1 147.5,488.4 148.5,488.7 149.6,489 150.6,489.3 151.7,489.6 152.7,489.9 153.8,490.2 154.8,490.5 155.9,490.8 156.9,491.1 158,491.5 159,491.8 160.1,492.1 161.1,492.4 162.2,492.8 163.3,493.1 164.3,493.4 165.4,493.8 166.4,494.1 167.5,494.5 168.5,494.8 169.6,495.2 170.6,495.5 171.7,495.9 172.7,496.2 173.8,496.6 174.8,496.9 175.9,497.3 176.9,497.7 178,498 179.1,498.4 180.1,498.8 181.2,499.1 182.2,499.5 183.3,499.9 184.3,500.3 185.4,500.7 186.4,501.1 187.5,501.4 188.5,501.8 189.6,502.2 190.6,502.6 191.7,503 192.7,503.4 193.8,503.8 194.9,504.2 195.9,504.6 197,505 198,505.5 199.1,505.9 200.1,506.3 201.2,506.7 202.2,507.1 203.3,507.5 204.3,508"/>
<polyline class="r " points="79,479.5 80,479.6 81,479.6 82.1,479.7 83.1,479.7 84.1,479.8 85.1,479.8 86.1,479.9 87.1,480 88.2,480 89.2,480.1 90.2,480.2 91.2,480.3 92.2,480.4 93.3,480.4 94.3,480.5 95.3,480.6 96.3,480.7 97.3,480.8 98.3,481 99.4,481.1 100.4,481.2 101.4,481.4 102.4,481.5 103.4,481.6 104.5,481.8 105.5,481.9 106.5,482.1 107.5,482.2 108.5,482.4 109.5,482.6 110.6,482.7 111.6,482.9 112.6,483 113.6,483.2 114.6,483.4 115.7,483.6 116.7,483.8 117.7,483.9 118.7,484.1 119.7,484.3 120.7,484.5 121.8,484.7 122.8,484.9 123.8,485.1 124.8,485.3 125.8,485.5 126.9,485.7 127.9,485.9 128.9,486.1 129.9,486.4 130.9,486.6 131.9,486.8 133,487 134,487.3 135,487.5 136,487.7 137,488 138,488.2 139.1,488.4 140.1,488.7 141.1,488.9 142.1,489.2 143.1,489.4 144.2,489.7 145.2,489.9 146.2,490.2 147.2,490.4 148.2,490.7 149.2,491 150.3,491.2 151.3,491.5 152.3,491.8 153.3,492.1 154.3,492.3 155.4,492.6 156.4,492.9 157.4,493.2 158.4,493.5 159.4,493.7 160.4,494 161.5,494.3 162.5,494.6 163.5,494.9 164.5,495.2 165.5,495.5 166.6,495.8 167.6,496.1 168.6,496.4 169.6,496.7 170.6,497 171.6,497.3 172.7,497.7 173.7,498 174.7,498.3 175.7,498.6 176.7,498.9 177.8,499.3 178.8,499.6 179.8,499.9 180.8,500.2 181.8,500.6 182.8,500.9 183.9,501.2 184.9,501.6 185.9,501.9 186.9,502.3 187.9,502.6 189,503 190,503.3 191,503.7 192,504 193,504.4 194,504.7 195.1,505.1 196.1,505.4 197.1,505.8 198.1,506.2 199.1,506.5 200.2,506.9"/>
<polyline class="r " points="79,499.7 79.3,499.7 79.6,499.7 80,499.7 80.3,499.7 80.6,499.7 80.9,499.7 81.3,499.7 81.6,499.7 81.9,499.7 82.2,499.7 82.6,499.7 82.9,499.7 83.2,499.7 83.5,499.7 83.9,499.7 84.2,499.7 84.5,499.7 84.8,499.7 85.2,499.7 85.5,499.7 85.8,499.7 86.1,499.7 86.5,499.7 86.8,499.7 87.1,499.7 87.4,499.7 87.7,499.7 88.1,499.7 88.4,499.7 88.7,499.7 89,499.7 89.4,499.7 89.7,499.7 90,499.7 90.3,499.7 90.7,499.7 91,499.7 91.3,499.7 91.6,499.7 92,499.7 92.3,499.8 92.6,499.8 92.9,499.8 93.3,499.8 93.6,499.8 93.9,499.8 94.2,499.8 94.6,499.8 94.9,499.8 95.2,499.8 95.5,499.8 95.9,499.8 96.2,499.8 96.5,499.8 96.8,499.8 97.1,499.8 97.5,499.8 97.8,499.8 98.1,499.8 98.4,499.8 98.8,499.8 99.1,499.8 99.4,499.8 99.7,499.8 100.1,499.8 100.4,499.8 100.7,499.8 101,499.8 101.4,499.8 101.7,499.8 102,499.9 102.3,499.9 102.7,499.9 103,499.9 103.3,499.9 103.6,499.9 104,499.9 104.3,499.9 104.6,499.9 104.9,499.9 105.2,499.9 105.6,499.9 105.9,499.9 106.2,499.9 106.5,499.9 106.9,499.9 107.2,499.9 107.5,499.9 107.8,499.9 108.2,499.9 108.5,499.9 108.8,499.9 109.1,499.9 109.5,499.9 109.8,500 110.1,500 110.4,500 110.8,500 111.1,500 111.4,500 111.7,500 112.1,500 112.4,500 112.7,500 113,500 113.4,500 113.7,500 114,500 114.3,500 114.6,500 115,500 115.3,500 115.6,500 115.9,500 116.3,500 116.6,500.1 116.9,500.1 117.2,500.1 117.6,500.1"/>
<polyline class="r " points="79,498.5 79.5,498.5 80.1,498.5 80.6,498.5 81.2,498.5 81.7,498.5 82.2,498.5 82.8,498.5 83.3,498.6 83.9,498.6 84.4,498.6 84.9,498.6 85.5,498.6 86,498.6 86.6,498.6 87.1,498.6 87.6,498.6 88.2,498.6 88.7,498.6 89.3,498.6 89.8,498.6 90.3,498.6 90.9,498.6 91.4,498.7 92,498.7 92.5,498.7 93,498.7 93.6,498.7 94.1,498.7 94.7,498.7 95.2,498.7 95.7,498.7 96.3,498.8 96.8,498.8 97.4,498.8 97.9,498.8 98.4,498.8 99,498.8 99.5,498.8 100.1,498.8 100.6,498.9 101.1,498.9 101.7,498.9 102.2,498.9 102.8,498.9 103.3,498.9 103.8,498.9 104.4,499 104.9,499 105.5,499 106,499 106.5,499 107.1,499 107.6,499.1 108.2,499.1 108.7,499.1 109.2,499.1 109.8,499.1 110.3,499.1 110.9,499.2 111.4,499.2 111.9,499.2 112.5,499.2 113,499.2 113.6,499.2 114.1,499.3 114.6,499.3 115.2,499.3 115.7,499.3 116.3,499.3 116.8,499.4 117.3,499.4 117.9,499.4 118.4,499.4 119,499.4 119.5,499.4 120,499.5 120.6,499.5 121.1,499.5 121.7,499.5 122.2,499.5 122.7,499.6 123.3,499.6 123.8,499.6 124.4,499.6 124.9,499.7 125.4,499.7 126,499.7 126.5,499.7 127.1,499.7 127.6,499.8 128.1,499.8 128.7,499.8 129.2,499.8 129.8,499.9 130.3,499.9 130.8,499.9 131.4,499.9 131.9,499.9 132.5,500 133,500 133.6,500 134.1,500 134.6,500.1 135.2,500.1 135.7,500.1 136.3,500.1 136.8,500.2 137.3,500.2 137.9,500.2 138.4,500.2 139,500.3 139.5,500.3 140,500.3 140.6,500.3 141.1,500.4 141.7,500.4 142.2,500.4 142.7,500.4 143.3,500.5"/>
<polyline class="r " points="79,135.7 81.3,135.7 83.5,135.6 85.8,135.6 88,135.5 90.3,135.4 92.5,135.2 94.8,135 97,134.8 99.3,134.6 101.5,134.3 103.8,134 106,133.7 108.3,133.4 110.5,133 112.8,132.6 115,132.1 117.3,131.6 119.5,131.1 121.8,130.6 124,130 126.3,129.5 128.5,128.9 130.8,128.2 133,127.6 135.3,127 137.5,126.3 139.8,125.7 142,125 144.3,124.3 146.5,123.7 148.8,123 151,122.3 153.3,121.7 155.5,121 157.8,120.3 160,119.6 162.3,118.9 164.5,118.2 166.8,117.5 169,116.7 171.3,116 173.5,115.2 175.8,114.4 178,113.5 180.3,112.7 182.5,111.8 184.8,110.8 187,109.9 189.3,109 191.5,108 193.8,107.1 196,106.2 198.3,105.3 200.5,104.5 202.8,103.7 205,103 207.3,102.3 209.5,101.7 211.8,101.3 214,100.9 216.3,100.6 218.5,100.4 220.8,100.3 223,100.4 225.3,100.5 227.5,100.7 229.8,101.1 232,101.5 234.3,101.9 236.5,102.5 238.8,103.1 241,103.7 243.3,104.5 245.5,105.2 247.8,106.1 250,106.9 252.3,107.8 254.5,108.7 256.8,109.7 259,110.7 261.3,111.6 263.5,112.7 265.8,113.7 268,114.7 270.3,115.7 272.5,116.7 274.8,117.7 277,118.7 279.3,119.7 281.5,120.7 283.8,121.6 286,122.5 288.3,123.4 290.5,124.3 292.8,125.1 295,125.9 297.3,126.6 299.5,127.4 301.8,128.1 304,128.7 306.3,129.4 308.5,130 310.8,130.5 313,131.1 315.3,131.6 317.5,132 319.8,132.4 322,132.8 324.3,133.2 326.5,133.5 328.8,133.8 331,134 333.3,134.2 335.5,134.4 337.8,134.6 340,134.7 342.3,134.8 344.5,134.8 346.8,134.8"/>
<polyline class="r " points="79,123.2 81.3,123.3 83.5,123.4 85.8,123.6 88,123.8 90.3,124.1 92.5,124.4 94.8,124.7 97,125 99.3,125.3 101.5,125.7 103.8,126 106,126.2 108.3,126.4 110.5,126.6 112.8,126.7 115,126.7 117.3,126.7 119.5,126.6 121.8,126.4 124,126.2 126.3,125.9 128.5,125.5 130.8,125.1 133,124.7 135.3,124.2 137.5,123.7 139.8,123.2 142,122.6 144.3,122.1 146.5,121.5 148.8,120.9 151,120.3 153.3,119.6 155.5,119 157.8,118.3 160,117.7 162.3,117 164.5,116.2 166.8,115.5 169,114.7 171.3,113.9 173.5,113.1 175.8,112.2 178,111.3 180.3,110.4 182.5,109.4 184.8,108.4 187,107.4 189.3,106.3 191.5,105.3 193.8,104.3 196,103.3 198.3,102.3 200.5,101.4 202.8,100.6 205,99.8 207.3,99.1 209.5,98.5 211.8,98 214,97.7 216.3,97.4 218.5,97.3 220.8,97.3 223,97.4 225.3,97.6 227.5,98 229.8,98.4 232,98.8 234.3,99.4 236.5,100 238.8,100.7 241,101.4 243.3,102.1 245.5,102.8 247.8,103.6 250,104.3 252.3,105 254.5,105.8 256.8,106.5 259,107.2 261.3,108 263.5,108.7 265.8,109.5 268,110.2 270.3,111 272.5,111.8 274.8,112.6 277,113.5 279.3,114.4 281.5,115.3 283.8,116.2 286,117.2 288.3,118.3 290.5,119.3 292.8,120.4 295,121.5 297.3,122.5 299.5,123.6 301.8,124.6 304,125.6 306.3,126.6 308.5,127.5 310.8,128.4 313,129.1 315.3,129.9 317.5,130.5 319.8,131 322,131.5 324.3,131.9 326.5,132.3 328.8,132.6 331,132.8 333.3,133 335.5,133.1 337.8,133.2 340,133.3 342.3,133.3 344.5,133.4 346.8,133.4"/>
<polyline class="r " points="79,121.6 81.3,121.6 83.5,121.7 85.8,121.7 88,121.8 90.3,121.9 92.5,122 94.8,122 97,122.1 99.3,122.1 101.5,122.1 103.8,122.1 106,122.1 108.3,122 110.5,121.9 112.8,121.7 115,121.4 117.3,121.1 119.5,120.8 121.8,120.4 124,119.9 126.3,119.5 128.5,119 130.8,118.4 133,117.9 135.3,117.3 137.5,116.8 139.8,116.2 142,115.6 144.3,115.1 146.5,114.5 148.8,114 151,113.5 153.3,112.9 155.5,112.4 157.8,111.9 160,111.4 162.3,110.9 164.5,110.3 166.8,109.7 169,109.1 171.3,108.5 173.5,107.8 175.8,107 178,106.3 180.3,105.4 182.5,104.5 184.8,103.5 187,102.5 189.3,101.5 191.5,100.5 193.8,99.4 196,98.4 198.3,97.4 200.5,96.4 202.8,95.5 205,94.7 207.3,93.9 209.5,93.3 211.8,92.7 214,92.3 216.3,92 218.5,91.9 220.8,91.9 223,92 225.3,92.3 227.5,92.7 229.8,93.1 232,93.6 234.3,94.3 236.5,94.9 238.8,95.7 241,96.4 243.3,97.2 245.5,98 247.8,98.9 250,99.7 252.3,100.5 254.5,101.3 256.8,102.1 259,102.9 261.3,103.7 263.5,104.5 265.8,105.3 268,106.1 270.3,106.9 272.5,107.8 274.8,108.6 277,109.5 279.3,110.4 281.5,111.4 283.8,112.3 286,113.3 288.3,114.4 290.5,115.4 292.8,116.4 295,117.5 297.3,118.5 299.5,119.5 301.8,120.4 304,121.3 306.3,122.1 308.5,122.8 310.8,123.5 313,124 315.3,124.5 317.5,124.8 319.8,125 322,125.1 324.3,125.1 326.5,125.1 328.8,125 331,124.8 333.3,124.7 335.5,124.5 337.8,124.4 340,124.2 342.3,124.1 344.5,124 346.8,124"/>
<polyline class="r " points="79,114.5 81.3,114.6 83.5,114.8 85.8,115.1 88,115.4 90.3,115.8 92.5,116.3 94.8,116.8 97,117.3 99.3,117.8 101.5,118.2 103.8,118.6 106,119 108.3,119.2 110.5,119.4 112.8,119.5 115,119.4 117.3,119.2 119.5,118.9 121.8,118.4 124,117.9 126.3,117.3 128.5,116.7 130.8,116 133,115.2 135.3,114.5 137.5,113.7 139.8,112.9 142,112.1 144.3,111.4 146.5,110.6 148.8,110 151,109.3 153.3,108.7 155.5,108.2 157.8,107.6 160,107.1 162.3,106.5 164.5,106 166.8,105.4 169,104.9 171.3,104.2 173.5,103.6 175.8,102.9 178,102.2 180.3,101.4 182.5,100.5 184.8,99.5 187,98.5 189.3,97.5 191.5,96.5 193.8,95.4 196,94.4 198.3,93.4 200.5,92.4 202.8,91.5 205,90.6 207.3,89.9 209.5,89.2 211.8,88.7 214,88.3 216.3,88 218.5,87.9 220.8,87.9 223,88 225.3,88.3 227.5,88.7 229.8,89.2 232,89.7 234.3,90.3 236.5,91 238.8,91.7 241,92.5 243.3,93.3 245.5,94.1 247.8,94.8 250,95.6 252.3,96.4 254.5,97.1 256.8,97.8 259,98.5 261.3,99.2 263.5,99.9 265.8,100.6 268,101.3 270.3,102 272.5,102.8 274.8,103.6 277,104.5 279.3,105.3 281.5,106.3 283.8,107.3 286,108.3 288.3,109.4 290.5,110.5 292.8,111.7 295,112.8 297.3,114 299.5,115.1 301.8,116.1 304,117.1 306.3,118.1 308.5,118.9 310.8,119.7 313,120.3 315.3,120.8 317.5,121.2 319.8,121.5 322,121.6 324.3,121.6 326.5,121.6 328.8,121.5 331,121.4 333.3,121.2 335.5,121 337.8,120.8 340,120.6 342.3,120.5 344.5,120.4 346.8,120.3"/>
<polyline class="r " points="79,113.5 81.3,113.5 83.5,113.5 85.8,113.5 88,113.5 90.3,113.6 92.5,113.6 94.8,113.6 97,113.6 99.3,113.5 101.5,113.5 103.8,113.5 106,113.4 108.3,113.4 110.5,113.3 112.8,113.2 115,113.1 117.3,113 119.5,112.9 121.8,112.7 124,112.5 126.3,112.3 128.5,112.1 130.8,111.8 133,111.5 135.3,111.2 137.5,110.8 139.8,110.4 142,109.9 144.3,109.4 146.5,108.9 148.8,108.3 151,107.7 153.3,107 155.5,106.3 157.8,105.5 160,104.7 162.3,103.9 164.5,103.1 166.8,102.2 169,101.3 171.3,100.4 173.5,99.4 175.8,98.5 178,97.5 180.3,96.5 182.5,95.5 184.8,94.5 187,93.4 189.3,92.4 191.5,91.5 193.8,90.5 196,89.6 198.3,88.8 200.5,88 202.8,87.3 205,86.6 207.3,86 209.5,85.6 211.8,85.2 214,84.9 216.3,84.8 218.5,84.8 220.8,84.9 223,85.1 225.3,85.5 227.5,85.9 229.8,86.3 232,86.9 234.3,87.4 236.5,88.1 238.8,88.7 241,89.4 243.3,90.1 245.5,90.8 247.8,91.5 250,92.1 252.3,92.8 254.5,93.3 256.8,93.9 259,94.5 261.3,95.1 263.5,95.6 265.8,96.2 268,96.8 270.3,97.5 272.5,98.1 274.8,98.8 277,99.6 279.3,100.4 281.5,101.2 283.8,102.2 286,103.2 288.3,104.3 290.5,105.4 292.8,106.6 295,107.7 297.3,108.9 299.5,110.1 301.8,111.3 304,112.4 306.3,113.5 308.5,114.5 310.8,115.4 313,116.2 315.3,117 317.5,117.6 319.8,118.1 322,118.5 324.3,118.8 326.5,119.1 328.8,119.3 331,119.4 333.3,119.5 335.5,119.5 337.8,119.5 340,119.5 342.3,119.5 344.5,119.5 346.8,119.5"/>
<polyline class="r " points="79,112.8 81.3,112.8 83.5,112.8 85.8,112.8 88,112.8 90.3,112.8 92.5,112.7 94.8,112.7 97,112.6 99.3,112.5 101.5,112.4 103.8,112.3 106,112.1 108.3,111.9 110.5,111.7 112.8,111.4 115,111.1 117.3,110.7 119.5,110.3 121.8,109.8 124,109.3 126.3,108.8 128.5,108.3 130.8,107.7 133,107.1 135.3,106.5 137.5,105.9 139.8,105.3 142,104.7 144.3,104 146.5,103.4 148.8,102.7 151,102.1 153.3,101.4 155.5,100.8 157.8,100.1 160,99.4 162.3,98.7 164.5,98 166.8,97.3 169,96.6 171.3,95.8 173.5,95 175.8,94.1 178,93.3 180.3,92.4 182.5,91.5 184.8,90.5 187,89.5 189.3,88.5 191.5,87.5 193.8,86.6 196,85.6 198.3,84.7 200.5,83.9 202.8,83.1 205,82.4 207.3,81.7 209.5,81.2 211.8,80.8 214,80.5 216.3,80.3 218.5,80.3 220.8,80.4 223,80.6 225.3,80.9 227.5,81.3 229.8,81.8 232,82.4 234.3,83 236.5,83.7 238.8,84.4 241,85.1 243.3,85.9 245.5,86.6 247.8,87.4 250,88.1 252.3,88.8 254.5,89.4 256.8,90.1 259,90.7 261.3,91.3 263.5,91.9 265.8,92.5 268,93 270.3,93.6 272.5,94.1 274.8,94.7 277,95.2 279.3,95.8 281.5,96.4 283.8,97 286,97.6 288.3,98.2 290.5,98.8 292.8,99.5 295,100.1 297.3,100.7 299.5,101.3 301.8,101.9 304,102.4 306.3,103 308.5,103.5 310.8,103.9 313,104.4 315.3,104.7 317.5,105.1 319.8,105.4 322,105.6 324.3,105.8 326.5,106 328.8,106.1 331,106.2 333.3,106.3 335.5,106.3 337.8,106.4 340,106.4 342.3,106.4 344.5,106.4 346.8,106.4"/>
<polyline class="r " points="79,101.2 81.3,101.2 83.5,101.1 85.8,101.1 88,101 90.3,100.9 92.5,100.7 94.8,100.5 97,100.4 99.3,100.2 101.5,100 103.8,99.7 106,99.5 108.3,99.3 110.5,99 112.8,98.8 115,98.5 117.3,98.3 119.5,98 121.8,97.7 124,97.5 126.3,97.2 128.5,97 130.8,96.7 133,96.4 135.3,96.1 137.5,95.9 139.8,95.6 142,95.3 144.3,95 146.5,94.7 148.8,94.5 151,94.2 153.3,93.9 155.5,93.6 157.8,93.3 160,92.9 162.3,92.6 164.5,92.2 166.8,91.8 169,91.4 171.3,90.9 173.5,90.4 175.8,89.9 178,89.3 180.3,88.7 182.5,88 184.8,87.3 187,86.6 189.3,85.8 191.5,85 193.8,84.3 196,83.5 198.3,82.8 200.5,82.1 202.8,81.4 205,80.8 207.3,80.2 209.5,79.7 211.8,79.3 214,78.9 216.3,78.7 218.5,78.6 220.8,78.5 223,78.6 225.3,78.8 227.5,79 229.8,79.3 232,79.6 234.3,80 236.5,80.5 238.8,81 241,81.6 243.3,82.2 245.5,82.8 247.8,83.4 250,84 252.3,84.6 254.5,85.3 256.8,85.9 259,86.6 261.3,87.3 263.5,87.9 265.8,88.6 268,89.3 270.3,90 272.5,90.7 274.8,91.4 277,92.1 279.3,92.9 281.5,93.6 283.8,94.4 286,95.1 288.3,95.9 290.5,96.7 292.8,97.5 295,98.3 297.3,99 299.5,99.8 301.8,100.5 304,101.2 306.3,101.8 308.5,102.4 310.8,102.9 313,103.4 315.3,103.9 317.5,104.3 319.8,104.6 322,104.8 324.3,105 326.5,105.2 328.8,105.3 331,105.4 333.3,105.5 335.5,105.5 337.8,105.6 340,105.6 342.3,105.6 344.5,105.6 346.8,105.6"/>
<polyline class="r " points="79,100 81.3,100 83.5,100 85.8,100 88,99.9 90.3,99.8 92.5,99.7 94.8,99.6 97,99.4 99.3,99.3 101.5,99.1 103.8,98.9 106,98.7 108.3,98.4 110.5,98.2 112.8,97.9 115,97.6 117.3,97.3 119.5,97 121.8,96.6 124,96.3 126.3,95.9 128.5,95.5 130.8,95.1 133,94.7 135.3,94.3 137.5,93.9 139.8,93.5 142,93.1 144.3,92.6 146.5,92.2 148.8,91.7 151,91.3 153.3,90.8 155.5,90.4 157.8,89.9 160,89.5 162.3,89 164.5,88.5 166.8,88 169,87.5 171.3,87 173.5,86.4 175.8,85.9 178,85.3 180.3,84.7 182.5,84.1 184.8,83.5 187,82.9 189.3,82.3 191.5,81.7 193.8,81.1 196,80.5 198.3,79.9 200.5,79.4 202.8,78.9 205,78.4 207.3,78 209.5,77.6 211.8,77.3 214,77 216.3,76.8 218.5,76.7 220.8,76.7 223,76.7 225.3,76.8 227.5,76.9 229.8,77.1 232,77.3 234.3,77.6 236.5,77.9 238.8,78.2 241,78.6 243.3,79 245.5,79.5 247.8,79.9 250,80.4 252.3,80.9 254.5,81.3 256.8,81.9 259,82.4 261.3,82.9 263.5,83.4 265.8,84 268,84.5 270.3,85 272.5,85.6 274.8,86.2 277,86.7 279.3,87.3 281.5,87.9 283.8,88.4 286,89 288.3,89.6 290.5,90.1 292.8,90.7 295,91.3 297.3,91.8 299.5,92.4 301.8,92.9 304,93.4 306.3,93.9 308.5,94.3 310.8,94.8 313,95.2 315.3,95.6 317.5,96 319.8,96.3 322,96.6 324.3,96.9 326.5,97.2 328.8,97.4 331,97.6 333.3,97.8 335.5,98 337.8,98.1 340,98.2 342.3,98.3 344.5,98.3 346.8,98.3"/>
<polyline class="r " points="79,90.3 81.3,90.3 83.5,90.3 85.8,90.3 88,90.3 90.3,90.3 92.5,90.3 94.8,90.3 97,90.3 99.3,90.3 101.5,90.2 103.8,90.2 106,90.2 108.3,90.1 110.5,90 112.8,89.9 115,89.8 117.3,89.7 119.5,89.5 121.8,89.4 124,89.2 126.3,89 128.5,88.8 130.8,88.6 133,88.4 135.3,88.2 137.5,87.9 139.8,87.7 142,87.4 144.3,87.1 146.5,86.8 148.8,86.5 151,86.1 153.3,85.8 155.5,85.5 157.8,85.1 160,84.7 162.3,84.4 164.5,84 166.8,83.6 169,83.2 171.3,82.8 173.5,82.4 175.8,81.9 178,81.5 180.3,81.1 182.5,80.6 184.8,80.2 187,79.7 189.3,79.3 191.5,78.9 193.8,78.4 196,78 198.3,77.6 200.5,77.2 202.8,76.8 205,76.4 207.3,76.1 209.5,75.8 211.8,75.5 214,75.2 216.3,74.9 218.5,74.7 220.8,74.5 223,74.4 225.3,74.3 227.5,74.2 229.8,74.1 232,74.1 234.3,74.1 236.5,74.1 238.8,74.2 241,74.3 243.3,74.4 245.5,74.6 247.8,74.8 250,75 252.3,75.3 254.5,75.5 256.8,75.8 259,76.2 261.3,76.5 263.5,76.9 265.8,77.3 268,77.7 270.3,78.1 272.5,78.4 274.8,78.8 277,79.2 279.3,79.6 281.5,80 283.8,80.3 286,80.7 288.3,81 290.5,81.3 292.8,81.6 295,81.9 297.3,82.2 299.5,82.5 301.8,82.7 304,83 306.3,83.3 308.5,83.6 310.8,83.9 313,84.3 315.3,84.6 317.5,85 319.8,85.3 322,85.7 324.3,86.1 326.5,86.4 328.8,86.8 331,87.1 333.3,87.5 335.5,87.7 337.8,88 340,88.2 342.3,88.3 344.5,88.4 346.8,88.5"/>
<polyline class="r " points="79,81.2 81.3,81.2 83.5,81.2 85.8,81.1 88,81 90.3,80.9 92.5,80.8 94.8,80.7 97,80.6 99.3,80.5 101.5,80.3 103.8,80.2 106,80.1 108.3,80 110.5,79.9 112.8,79.8 115,79.7 117.3,79.6 119.5,79.6 121.8,79.5 124,79.5 126.3,79.5 128.5,79.5 130.8,79.5 133,79.5 135.3,79.5 137.5,79.5 139.8,79.5 142,79.5 144.3,79.5 146.5,79.5 148.8,79.5 151,79.4 153.3,79.4 155.5,79.3 157.8,79.3 160,79.2 162.3,79.1 164.5,79 166.8,78.8 169,78.7 171.3,78.5 173.5,78.3 175.8,78 178,77.7 180.3,77.4 182.5,77.1 184.8,76.7 187,76.3 189.3,75.8 191.5,75.4 193.8,74.9 196,74.4 198.3,74 200.5,73.5 202.8,73.1 205,72.7 207.3,72.3 209.5,71.9 211.8,71.6 214,71.3 216.3,71 218.5,70.8 220.8,70.7 223,70.6 225.3,70.6 227.5,70.5 229.8,70.6 232,70.7 234.3,70.8 236.5,70.9 238.8,71.1 241,71.3 243.3,71.5 245.5,71.7 247.8,72 250,72.2 252.3,72.5 254.5,72.8 256.8,73.2 259,73.5 261.3,73.8 263.5,74.2 265.8,74.5 268,74.9 270.3,75.3 272.5,75.7 274.8,76.1 277,76.5 279.3,76.9 281.5,77.3 283.8,77.7 286,78.1 288.3,78.6 290.5,79 292.8,79.4 295,79.9 297.3,80.3 299.5,80.7 301.8,81.2 304,81.6 306.3,82 308.5,82.5 310.8,82.9 313,83.3 315.3,83.7 317.5,84.2 319.8,84.6 322,85 324.3,85.4 326.5,85.7 328.8,86.1 331,86.4 333.3,86.7 335.5,87 337.8,87.2 340,87.3 342.3,87.5 344.5,87.6 346.8,87.6"/>
<polyline class="r " points="79,76.9 81.3,76.9 83.5,76.9 85.8,77 88,77 90.3,77.1 92.5,77.2 94.8,77.3 97,77.3 99.3,77.4 101.5,77.5 103.8,77.5 106,77.5 108.3,77.5 110.5,77.4 112.8,77.3 115,77.2 117.3,77 119.5,76.8 121.8,76.6 124,76.3 126.3,76 128.5,75.8 130.8,75.5 133,75.2 135.3,74.9 137.5,74.7 139.8,74.5 142,74.3 144.3,74.1 146.5,74 148.8,73.9 151,73.9 153.3,73.9 155.5,73.9 157.8,74 160,74 162.3,74.1 164.5,74.2 166.8,74.2 169,74.3 171.3,74.3 173.5,74.3 175.8,74.3 178,74.3 180.3,74.2 182.5,74 184.8,73.8 187,73.5 189.3,73.2 191.5,72.9 193.8,72.6 196,72.2 198.3,71.8 200.5,71.4 202.8,71 205,70.7 207.3,70.3 209.5,70 211.8,69.7 214,69.4 216.3,69.1 218.5,69 220.8,68.8 223,68.7 225.3,68.6 227.5,68.6 229.8,68.6 232,68.7 234.3,68.8 236.5,68.9 238.8,69 241,69.2 243.3,69.4 245.5,69.6 247.8,69.8 250,70.1 252.3,70.3 254.5,70.6 256.8,70.9 259,71.2 261.3,71.5 263.5,71.8 265.8,72.1 268,72.4 270.3,72.7 272.5,73 274.8,73.2 277,73.5 279.3,73.7 281.5,73.8 283.8,74 286,74.1 288.3,74.1 290.5,74.2 292.8,74.2 295,74.2 297.3,74.2 299.5,74.1 301.8,74.1 304,74.1 306.3,74.1 308.5,74 310.8,74.1 313,74.1 315.3,74.1 317.5,74.2 319.8,74.3 322,74.4 324.3,74.5 326.5,74.7 328.8,74.8 331,74.9 333.3,75.1 335.5,75.2 337.8,75.3 340,75.4 342.3,75.5 344.5,75.5 346.8,75.6"/>
<polyline class="r " points="79,71.8 81.3,71.8 83.5,71.7 85.8,71.7 88,71.6 90.3,71.5 92.5,71.4 94.8,71.3 97,71.2 99.3,71 101.5,70.9 103.8,70.7 106,70.6 108.3,70.4 110.5,70.2 112.8,70.1 115,69.9 117.3,69.7 119.5,69.6 121.8,69.4 124,69.3 126.3,69.2 128.5,69 130.8,69 133,68.9 135.3,68.9 137.5,68.8 139.8,68.9 142,68.9 144.3,69 146.5,69.1 148.8,69.3 151,69.5 153.3,69.8 155.5,70 157.8,70.3 160,70.6 162.3,70.9 164.5,71.2 166.8,71.4 169,71.7 171.3,71.9 173.5,72.1 175.8,72.2 178,72.2 180.3,72.2 182.5,72.2 184.8,72 187,71.8 189.3,71.6 191.5,71.3 193.8,71 196,70.6 198.3,70.2 200.5,69.8 202.8,69.4 205,69.1 207.3,68.7 209.5,68.3 211.8,68 214,67.7 216.3,67.4 218.5,67.2 220.8,67 223,66.9 225.3,66.8 227.5,66.7 229.8,66.7 232,66.7 234.3,66.7 236.5,66.8 238.8,66.9 241,67 243.3,67.1 245.5,67.2 247.8,67.3 250,67.5 252.3,67.6 254.5,67.7 256.8,67.9 259,68 261.3,68.2 263.5,68.3 265.8,68.5 268,68.7 270.3,68.9 272.5,69 274.8,69.2 277,69.4 279.3,69.6 281.5,69.8 283.8,70 286,70.3 288.3,70.5 290.5,70.7 292.8,71 295,71.2 297.3,71.5 299.5,71.7 301.8,71.9 304,72.2 306.3,72.4 308.5,72.6 310.8,72.9 313,73.1 315.3,73.3 317.5,73.5 319.8,73.6 322,73.8 324.3,73.9 326.5,74.1 328.8,74.2 331,74.3 333.3,74.4 335.5,74.5 337.8,74.6 340,74.6 342.3,74.7 344.5,74.7 346.8,74.7"/>
<polyline class="r " points="79,71.1 81.3,71.1 83.5,71 85.8,71 88,70.9 90.3,70.8 92.5,70.7 94.8,70.6 97,70.5 99.3,70.3 101.5,70.2 103.8,70 106,69.8 108.3,69.6 110.5,69.4 112.8,69.2 115,69 117.3,68.8 119.5,68.5 121.8,68.3 124,68.1 126.3,67.8 128.5,67.6 130.8,67.4 133,67.1 135.3,66.9 137.5,66.7 139.8,66.5 142,66.3 144.3,66.2 146.5,66 148.8,65.9 151,65.8 153.3,65.7 155.5,65.6 157.8,65.6 160,65.5 162.3,65.5 164.5,65.5 166.8,65.4 169,65.4 171.3,65.4 173.5,65.5 175.8,65.5 178,65.5 180.3,65.5 182.5,65.6 184.8,65.6 187,65.7 189.3,65.7 191.5,65.7 193.8,65.8 196,65.8 198.3,65.8 200.5,65.8 202.8,65.8 205,65.8 207.3,65.8 209.5,65.8 211.8,65.7 214,65.6 216.3,65.5 218.5,65.4 220.8,65.3 223,65.2 225.3,65 227.5,64.9 229.8,64.7 232,64.6 234.3,64.4 236.5,64.3 238.8,64.2 241,64.1 243.3,64 245.5,63.9 247.8,63.8 250,63.8 252.3,63.8 254.5,63.9 256.8,63.9 259,64 261.3,64.1 263.5,64.2 265.8,64.4 268,64.5 270.3,64.7 272.5,64.8 274.8,65 277,65.1 279.3,65.3 281.5,65.4 283.8,65.6 286,65.7 288.3,65.8 290.5,65.9 292.8,66 295,66.1 297.3,66.2 299.5,66.2 301.8,66.3 304,66.4 306.3,66.5 308.5,66.6 310.8,66.7 313,66.8 315.3,66.9 317.5,67 319.8,67.1 322,67.3 324.3,67.4 326.5,67.5 328.8,67.7 331,67.8 333.3,67.9 335.5,68 337.8,68.1 340,68.2 342.3,68.3 344.5,68.3 346.8,68.3"/>
<polyline class="r " points="79,64.7 81.3,64.7 83.5,64.7 85.8,64.7 88,64.8 90.3,64.8 92.5,64.8 94.8,64.8 97,64.8 99.3,64.9 101.5,64.9 103.8,64.9 106,64.8 108.3,64.8 110.5,64.8 112.8,64.7 115,64.6 117.3,64.5 119.5,64.4 121.8,64.3 124,64.1 126.3,64 128.5,63.8 130.8,63.7 133,63.5 135.3,63.4 137.5,63.3 139.8,63.2 142,63.1 144.3,63 146.5,63 148.8,62.9 151,62.9 153.3,63 155.5,63 157.8,63.1 160,63.2 162.3,63.2 164.5,63.3 166.8,63.4 169,63.5 171.3,63.6 173.5,63.7 175.8,63.7 178,63.8 180.3,63.8 182.5,63.8 184.8,63.8 187,63.8 189.3,63.7 191.5,63.7 193.8,63.6 196,63.5 198.3,63.4 200.5,63.3 202.8,63.1 205,63 207.3,62.8 209.5,62.6 211.8,62.4 214,62.2 216.3,62 218.5,61.8 220.8,61.6 223,61.4 225.3,61.2 227.5,61 229.8,60.8 232,60.7 234.3,60.5 236.5,60.4 238.8,60.3 241,60.2 243.3,60.1 245.5,60.1 247.8,60.1 250,60.2 252.3,60.3 254.5,60.4 256.8,60.6 259,60.8 261.3,61 263.5,61.3 265.8,61.6 268,61.8 270.3,62.1 272.5,62.4 274.8,62.7 277,63 279.3,63.3 281.5,63.6 283.8,63.8 286,64 288.3,64.3 290.5,64.5 292.8,64.6 295,64.8 297.3,65 299.5,65.1 301.8,65.2 304,65.4 306.3,65.5 308.5,65.6 310.8,65.8 313,65.9 315.3,66 317.5,66.2 319.8,66.3 322,66.4 324.3,66.6 326.5,66.7 328.8,66.8 331,67 333.3,67.1 335.5,67.2 337.8,67.3 340,67.3 342.3,67.4 344.5,67.4 346.8,67.4"/>
<polyline class="r " points="79,63.8 81.3,63.8 83.5,63.8 85.8,63.9 88,63.9 90.3,63.9 92.5,64 94.8,64 97,64 99.3,64 101.5,64.1 103.8,64 106,64 108.3,64 110.5,63.9 112.8,63.8 115,63.7 117.3,63.6 119.5,63.4 121.8,63.2 124,63.1 126.3,62.9 128.5,62.6 130.8,62.4 133,62.2 135.3,62 137.5,61.8 139.8,61.6 142,61.4 144.3,61.2 146.5,61.1 148.8,61 151,60.9 153.3,60.8 155.5,60.7 157.8,60.6 160,60.6 162.3,60.6 164.5,60.5 166.8,60.5 169,60.5 171.3,60.4 173.5,60.4 175.8,60.4 178,60.3 180.3,60.2 182.5,60.1 184.8,60 187,59.9 189.3,59.8 191.5,59.7 193.8,59.5 196,59.4 198.3,59.2 200.5,59 202.8,58.9 205,58.7 207.3,58.5 209.5,58.3 211.8,58.2 214,58 216.3,57.9 218.5,57.7 220.8,57.6 223,57.4 225.3,57.3 227.5,57.2 229.8,57.1 232,57 234.3,56.9 236.5,56.9 238.8,56.9 241,56.9 243.3,56.9 245.5,56.9 247.8,56.9 250,57 252.3,57.1 254.5,57.2 256.8,57.4 259,57.5 261.3,57.7 263.5,57.9 265.8,58.1 268,58.2 270.3,58.4 272.5,58.6 274.8,58.8 277,58.9 279.3,59.1 281.5,59.2 283.8,59.3 286,59.4 288.3,59.5 290.5,59.5 292.8,59.6 295,59.6 297.3,59.6 299.5,59.6 301.8,59.6 304,59.6 306.3,59.6 308.5,59.6 310.8,59.7 313,59.7 315.3,59.8 317.5,59.9 319.8,60 322,60.1 324.3,60.2 326.5,60.3 328.8,60.4 331,60.5 333.3,60.7 335.5,60.8 337.8,60.9 340,61 342.3,61 344.5,61.1 346.8,61.1"/>
<polyline class="r " points="79,62.1 81.3,62.1 83.5,62.1 85.8,62 88,62 90.3,61.9 92.5,61.9 94.8,61.8 97,61.7 99.3,61.6 101.5,61.5 103.8,61.3 106,61.2 108.3,61 110.5,60.8 112.8,60.7 115,60.5 117.3,60.2 119.5,60 121.8,59.8 124,59.6 126.3,59.3 128.5,59.1 130.8,58.8 133,58.6 135.3,58.3 137.5,58 139.8,57.8 142,57.5 144.3,57.3 146.5,57.1 148.8,56.8 151,56.6 153.3,56.4 155.5,56.2 157.8,56 160,55.8 162.3,55.6 164.5,55.5 166.8,55.3 169,55.2 171.3,55.1 173.5,55 175.8,54.9 178,54.8 180.3,54.7 182.5,54.7 184.8,54.6 187,54.6 189.3,54.6 191.5,54.6 193.8,54.6 196,54.6 198.3,54.6 200.5,54.6 202.8,54.6 205,54.6 207.3,54.7 209.5,54.7 211.8,54.7 214,54.7 216.3,54.7 218.5,54.7 220.8,54.7 223,54.6 225.3,54.6 227.5,54.6 229.8,54.6 232,54.5 234.3,54.5 236.5,54.5 238.8,54.4 241,54.4 243.3,54.3 245.5,54.3 247.8,54.3 250,54.3 252.3,54.2 254.5,54.2 256.8,54.2 259,54.2 261.3,54.2 263.5,54.3 265.8,54.3 268,54.3 270.3,54.4 272.5,54.5 274.8,54.6 277,54.7 279.3,54.8 281.5,55 283.8,55.1 286,55.3 288.3,55.5 290.5,55.7 292.8,56 295,56.2 297.3,56.5 299.5,56.7 301.8,57 304,57.2 306.3,57.5 308.5,57.8 310.8,58 313,58.3 315.3,58.5 317.5,58.7 319.8,58.9 322,59.1 324.3,59.3 326.5,59.5 328.8,59.6 331,59.7 333.3,59.9 335.5,60 337.8,60 340,60.1 342.3,60.2 344.5,60.2 346.8,60.2"/>
<polyline class="r " points="79,61.2 81.3,61.2 83.5,61.1 85.8,60.9 88,60.7 90.3,60.4 92.5,60 94.8,59.6 97,59.2 99.3,58.8 101.5,58.3 103.8,57.9 106,57.4 108.3,56.9 110.5,56.4 112.8,55.9 115,55.4 117.3,55 119.5,54.6 121.8,54.2 124,53.8 126.3,53.4 128.5,53.1 130.8,52.7 133,52.4 135.3,52.2 137.5,51.9 139.8,51.7 142,51.5 144.3,51.4 146.5,51.2 148.8,51.1 151,51.1 153.3,51 155.5,51 157.8,51 160,51 162.3,51.1 164.5,51.1 166.8,51.2 169,51.2 171.3,51.3 173.5,51.3 175.8,51.4 178,51.5 180.3,51.5 182.5,51.5 184.8,51.5 187,51.5 189.3,51.5 191.5,51.5 193.8,51.5 196,51.5 198.3,51.4 200.5,51.4 202.8,51.4 205,51.3 207.3,51.3 209.5,51.3 211.8,51.2 214,51.2 216.3,51.2 218.5,51.2 220.8,51.2 223,51.2 225.3,51.2 227.5,51.2 229.8,51.3 232,51.3 234.3,51.3 236.5,51.3 238.8,51.4 241,51.4 243.3,51.4 245.5,51.5 247.8,51.5 250,51.5 252.3,51.5 254.5,51.5 256.8,51.6 259,51.6 261.3,51.6 263.5,51.6 265.8,51.6 268,51.6 270.3,51.6 272.5,51.6 274.8,51.6 277,51.6 279.3,51.5 281.5,51.5 283.8,51.5 286,51.5 288.3,51.5 290.5,51.4 292.8,51.4 295,51.4 297.3,51.4 299.5,51.4 301.8,51.5 304,51.5 306.3,51.5 308.5,51.6 310.8,51.7 313,51.8 315.3,52 317.5,52.1 319.8,52.3 322,52.5 324.3,52.7 326.5,53 328.8,53.2 331,53.4 333.3,53.6 335.5,53.8 337.8,53.9 340,54.1 342.3,54.2 344.5,54.2 346.8,54.3"/>
<polyline class="b " points="79,385.5 81.3,385.5 83.5,385.5 85.8,385.6 88,385.6 90.3,385.7 92.5,385.8 94.8,385.9 97,386 99.3,386.1 101.5,386.2 103.8,386.4 106,386.5 108.3,386.7 110.5,386.9 112.8,387 115,387.2 117.3,387.4 119.5,387.6 121.8,387.8 124,388 126.3,388.2 128.5,388.4 130.8,388.6 133,388.8 135.3,389 137.5,389.2 139.8,389.4 142,389.6 144.3,389.8 146.5,390 148.8,390.2 151,390.4 153.3,390.5 155.5,390.7 157.8,390.9 160,391 162.3,391.2 164.5,391.4 166.8,391.5 169,391.7 171.3,391.8 173.5,392 175.8,392.1 178,392.3 180.3,392.4 182.5,392.6 184.8,392.7 187,392.9 189.3,393.1 191.5,393.2 193.8,393.4 196,393.6 198.3,393.7 200.5,393.9 202.8,394.1 205,394.3 207.3,394.5 209.5,394.6 211.8,394.8 214,395 216.3,395.2 218.5,395.4 220.8,395.6 223,395.8 225.3,396 227.5,396.2 229.8,396.3 232,396.5 234.3,396.7 236.5,396.9 238.8,397 241,397.2 243.3,397.3 245.5,397.5 247.8,397.6 250,397.7 252.3,397.9 254.5,398 256.8,398.1 259,398.2 261.3,398.3 263.5,398.4 265.8,398.5 268,398.6 270.3,398.7 272.5,398.8 274.8,398.9 277,399 279.3,399.1 281.5,399.2 283.8,399.2 286,399.3 288.3,399.4 290.5,399.5 292.8,399.5 295,399.6 297.3,399.7 299.5,399.8 301.8,399.8 304,399.9 306.3,400 308.5,400 310.8,400.1 313,400.2 315.3,400.2 317.5,400.3 319.8,400.4 322,400.4 324.3,400.5 326.5,400.5 328.8,400.5 331,400.6 333.3,400.6 335.5,400.6 337.8,400.7 340,400.7 342.3,400.7 344.5,400.7 346.8,400.7"/>
<polyline class="b " points="79,278.1 81.3,278.1 83.5,278.1 85.8,278.1 88,278.1 90.3,278.1 92.5,278.1 94.8,278.1 97,278.1 99.3,278.1 101.5,278.2 103.8,278.2 106,278.2 108.3,278.2 110.5,278.2 112.8,278.2 115,278.2 117.3,278.2 119.5,278.2 121.8,278.2 124,278.2 126.3,278.2 128.5,278.2 130.8,278.3 133,278.3 135.3,278.3 137.5,278.3 139.8,278.3 142,278.3 144.3,278.3 146.5,278.3 148.8,278.3 151,278.4 153.3,278.4 155.5,278.4 157.8,278.4 160,278.4 162.3,278.4 164.5,278.5 166.8,278.5 169,278.5 171.3,278.5 173.5,278.5 175.8,278.5 178,278.6 180.3,278.6 182.5,278.6 184.8,278.6 187,278.6 189.3,278.7 191.5,278.7 193.8,278.7 196,278.7 198.3,278.7 200.5,278.7 202.8,278.8 205,278.8 207.3,278.8 209.5,278.8 211.8,278.8 214,278.9 216.3,278.9 218.5,278.9 220.8,278.9 223,278.9 225.3,279 227.5,279 229.8,279 232,279 234.3,279 236.5,279.1 238.8,279.1 241,279.1 243.3,279.1 245.5,279.1 247.8,279.1 250,279.2 252.3,279.2 254.5,279.2 256.8,279.2 259,279.2 261.3,279.3 263.5,279.3 265.8,279.3 268,279.3 270.3,279.3 272.5,279.4 274.8,279.4 277,279.4 279.3,279.4 281.5,279.4 283.8,279.5 286,279.5 288.3,279.5 290.5,279.5 292.8,279.6 295,279.6 297.3,279.6 299.5,279.6 301.8,279.6 304,279.7 306.3,279.7 308.5,279.7 310.8,279.7 313,279.7 315.3,279.7 317.5,279.8 319.8,279.8 322,279.8 324.3,279.8 326.5,279.8 328.8,279.8 331,279.8 333.3,279.8 335.5,279.8 337.8,279.9 340,279.9 342.3,279.9 344.5,279.9 346.8,279.9"/>
<polyline class="b " points="79,279.9 81.3,279.9 83.5,279.9 85.8,279.9 88,279.9 90.3,279.9 92.5,279.9 94.8,279.9 97,279.9 99.3,279.9 101.5,279.9 103.8,279.9 106,279.9 108.3,279.9 110.5,279.9 112.8,280 115,280 117.3,280 119.5,280 121.8,280 124,280 126.3,280 128.5,280.1 130.8,280.1 133,280.1 135.3,280.1 137.5,280.1 139.8,280.1 142,280.2 144.3,280.2 146.5,280.2 148.8,280.2 151,280.2 153.3,280.2 155.5,280.3 157.8,280.3 160,280.3 162.3,280.3 164.5,280.3 166.8,280.4 169,280.4 171.3,280.4 173.5,280.4 175.8,280.5 178,280.5 180.3,280.5 182.5,280.5 184.8,280.6 187,280.6 189.3,280.6 191.5,280.6 193.8,280.6 196,280.7 198.3,280.7 200.5,280.7 202.8,280.8 205,280.8 207.3,280.8 209.5,280.8 211.8,280.9 214,280.9 216.3,280.9 218.5,281 220.8,281 223,281 225.3,281 227.5,281.1 229.8,281.1 232,281.1 234.3,281.2 236.5,281.2 238.8,281.2 241,281.3 243.3,281.3 245.5,281.3 247.8,281.4 250,281.4 252.3,281.5 254.5,281.5 256.8,281.5 259,281.6 261.3,281.6 263.5,281.6 265.8,281.7 268,281.7 270.3,281.7 272.5,281.8 274.8,281.8 277,281.8 279.3,281.9 281.5,281.9 283.8,282 286,282 288.3,282 290.5,282.1 292.8,282.1 295,282.1 297.3,282.2 299.5,282.2 301.8,282.2 304,282.3 306.3,282.3 308.5,282.3 310.8,282.4 313,282.4 315.3,282.4 317.5,282.4 319.8,282.5 322,282.5 324.3,282.5 326.5,282.5 328.8,282.5 331,282.6 333.3,282.6 335.5,282.6 337.8,282.6 340,282.6 342.3,282.6 344.5,282.6 346.8,282.6"/>
<polyline class="b " points="79,311.6 81.3,311.6 83.5,311.6 85.8,311.5 88,311.5 90.3,311.4 92.5,311.3 94.8,311.1 97,311 99.3,310.8 101.5,310.5 103.8,310.3 106,310 108.3,309.6 110.5,309.2 112.8,308.7 115,308.2 117.3,307.6 119.5,307 121.8,306.3 124,305.6 126.3,304.9 128.5,304.1 130.8,303.2 133,302.3 135.3,301.4 137.5,300.5 139.8,299.5 142,298.5 144.3,297.5 146.5,296.5 148.8,295.5 151,294.5 153.3,293.4 155.5,292.4 157.8,291.3 160,290.2 162.3,289.1 164.5,288 166.8,286.9 169,285.8 171.3,284.6 173.5,283.5 175.8,282.3 178,281.1 180.3,279.8 182.5,278.6 184.8,277.3 187,276 189.3,274.7 191.5,273.3 193.8,272 196,270.6 198.3,269.2 200.5,267.8 202.8,266.4 205,265 207.3,263.6 209.5,262.2 211.8,260.8 214,259.3 216.3,257.9 218.5,256.5 220.8,255.1 223,253.7 225.3,252.3 227.5,250.9 229.8,249.5 232,248.2 234.3,246.8 236.5,245.5 238.8,244.2 241,242.9 243.3,241.6 245.5,240.3 247.8,239.1 250,237.9 252.3,236.7 254.5,235.6 256.8,234.4 259,233.4 261.3,232.4 263.5,231.4 265.8,230.5 268,229.7 270.3,228.9 272.5,228.2 274.8,227.6 277,227.1 279.3,226.6 281.5,226.2 283.8,225.8 286,225.5 288.3,225.2 290.5,225 292.8,224.8 295,224.7 297.3,224.6 299.5,224.5 301.8,224.4 304,224.4 306.3,224.4 308.5,224.4 310.8,224.4 313,224.5 315.3,224.5 317.5,224.6 319.8,224.7 322,224.7 324.3,224.8 326.5,224.9 328.8,225 331,225.1 333.3,225.1 335.5,225.2 337.8,225.3 340,225.3 342.3,225.4 344.5,225.4 346.8,225.4"/>
<polyline class="b " points="79,312.8 81.3,312.8 83.5,312.7 85.8,312.7 88,312.6 90.3,312.6 92.5,312.4 94.8,312.3 97,312.1 99.3,311.9 101.5,311.7 103.8,311.4 106,311.1 108.3,310.7 110.5,310.3 112.8,309.9 115,309.4 117.3,308.8 119.5,308.2 121.8,307.5 124,306.8 126.3,306 128.5,305.2 130.8,304.4 133,303.5 135.3,302.6 137.5,301.6 139.8,300.7 142,299.7 144.3,298.7 146.5,297.7 148.8,296.6 151,295.6 153.3,294.6 155.5,293.5 157.8,292.5 160,291.4 162.3,290.3 164.5,289.2 166.8,288.1 169,287 171.3,285.8 173.5,284.6 175.8,283.4 178,282.2 180.3,281 182.5,279.7 184.8,278.5 187,277.2 189.3,275.8 191.5,274.5 193.8,273.1 196,271.8 198.3,270.4 200.5,269 202.8,267.6 205,266.2 207.3,264.8 209.5,263.3 211.8,261.9 214,260.5 216.3,259.1 218.5,257.7 220.8,256.3 223,254.9 225.3,253.5 227.5,252.1 229.8,250.7 232,249.3 234.3,248 236.5,246.7 238.8,245.3 241,244 243.3,242.8 245.5,241.5 247.8,240.3 250,239.1 252.3,237.9 254.5,236.7 256.8,235.6 259,234.5 261.3,233.5 263.5,232.6 265.8,231.6 268,230.8 270.3,230.1 272.5,229.4 274.8,228.8 277,228.2 279.3,227.7 281.5,227.3 283.8,227 286,226.7 288.3,226.4 290.5,226.2 292.8,226 295,225.8 297.3,225.7 299.5,225.6 301.8,225.6 304,225.6 306.3,225.5 308.5,225.6 310.8,225.6 313,225.6 315.3,225.7 317.5,225.7 319.8,225.8 322,225.9 324.3,226 326.5,226.1 328.8,226.1 331,226.2 333.3,226.3 335.5,226.4 337.8,226.4 340,226.5 342.3,226.5 344.5,226.5 346.8,226.5"/>
<polyline class="b " points="79,304.4 81.3,304.3 83.5,304.3 85.8,304.2 88,304.1 90.3,303.9 92.5,303.8 94.8,303.6 97,303.4 99.3,303.1 101.5,302.8 103.8,302.6 106,302.3 108.3,301.9 110.5,301.6 112.8,301.2 115,300.9 117.3,300.5 119.5,300.1 121.8,299.7 124,299.3 126.3,298.9 128.5,298.5 130.8,298.1 133,297.7 135.3,297.2 137.5,296.8 139.8,296.3 142,295.9 144.3,295.4 146.5,294.9 148.8,294.5 151,294 153.3,293.5 155.5,293 157.8,292.5 160,292 162.3,291.5 164.5,291.1 166.8,290.6 169,290.1 171.3,289.7 173.5,289.2 175.8,288.8 178,288.3 180.3,287.9 182.5,287.6 184.8,287.2 187,286.8 189.3,286.5 191.5,286.2 193.8,285.9 196,285.6 198.3,285.4 200.5,285.1 202.8,284.9 205,284.7 207.3,284.5 209.5,284.3 211.8,284.2 214,284 216.3,283.8 218.5,283.7 220.8,283.5 223,283.4 225.3,283.3 227.5,283.2 229.8,283.1 232,283 234.3,282.9 236.5,282.8 238.8,282.8 241,282.7 243.3,282.7 245.5,282.7 247.8,282.6 250,282.6 252.3,282.6 254.5,282.6 256.8,282.7 259,282.7 261.3,282.7 263.5,282.8 265.8,282.8 268,282.9 270.3,283 272.5,283 274.8,283.1 277,283.2 279.3,283.3 281.5,283.4 283.8,283.5 286,283.7 288.3,283.8 290.5,283.9 292.8,284 295,284.2 297.3,284.3 299.5,284.5 301.8,284.6 304,284.7 306.3,284.9 308.5,285 310.8,285.2 313,285.3 315.3,285.4 317.5,285.6 319.8,285.7 322,285.8 324.3,285.9 326.5,286 328.8,286.1 331,286.2 333.3,286.3 335.5,286.4 337.8,286.4 340,286.5 342.3,286.5 344.5,286.5 346.8,286.5"/>
<polyline class="b " points="79,196.4 81.3,196.4 83.5,196.4 85.8,196.5 88,196.5 90.3,196.5 92.5,196.6 94.8,196.7 97,196.7 99.3,196.8 101.5,196.9 103.8,197 106,197.1 108.3,197.2 110.5,197.3 112.8,197.4 115,197.5 117.3,197.6 119.5,197.8 121.8,197.9 124,198 126.3,198.1 128.5,198.3 130.8,198.4 133,198.5 135.3,198.6 137.5,198.7 139.8,198.9 142,199 144.3,199.1 146.5,199.2 148.8,199.3 151,199.4 153.3,199.5 155.5,199.6 157.8,199.7 160,199.8 162.3,199.9 164.5,200 166.8,200 169,200.1 171.3,200.2 173.5,200.3 175.8,200.4 178,200.5 180.3,200.6 182.5,200.7 184.8,200.8 187,200.9 189.3,201 191.5,201.1 193.8,201.2 196,201.3 198.3,201.4 200.5,201.5 202.8,201.6 205,201.8 207.3,201.9 209.5,202 211.8,202.1 214,202.3 216.3,202.4 218.5,202.5 220.8,202.6 223,202.8 225.3,202.9 227.5,203 229.8,203.1 232,203.3 234.3,203.4 236.5,203.5 238.8,203.6 241,203.7 243.3,203.8 245.5,203.9 247.8,204 250,204.1 252.3,204.2 254.5,204.3 256.8,204.3 259,204.4 261.3,204.5 263.5,204.6 265.8,204.6 268,204.7 270.3,204.7 272.5,204.8 274.8,204.9 277,204.9 279.3,205 281.5,205 283.8,205.1 286,205.1 288.3,205.2 290.5,205.2 292.8,205.2 295,205.3 297.3,205.3 299.5,205.4 301.8,205.4 304,205.5 306.3,205.5 308.5,205.5 310.8,205.6 313,205.6 315.3,205.7 317.5,205.7 319.8,205.7 322,205.8 324.3,205.8 326.5,205.8 328.8,205.9 331,205.9 333.3,205.9 335.5,205.9 337.8,205.9 340,206 342.3,206 344.5,206 346.8,206"/>
<polyline class="b " points="79,211.8 81.3,211.8 83.5,211.7 85.8,211.7 88,211.7 90.3,211.7 92.5,211.6 94.8,211.6 97,211.5 99.3,211.4 101.5,211.3 103.8,211.2 106,211.1 108.3,211 110.5,210.9 112.8,210.8 115,210.7 117.3,210.5 119.5,210.4 121.8,210.2 124,210 126.3,209.9 128.5,209.7 130.8,209.5 133,209.3 135.3,209.1 137.5,208.8 139.8,208.6 142,208.4 144.3,208.1 146.5,207.9 148.8,207.6 151,207.3 153.3,207.1 155.5,206.8 157.8,206.5 160,206.2 162.3,206 164.5,205.7 166.8,205.4 169,205.2 171.3,204.9 173.5,204.7 175.8,204.4 178,204.2 180.3,204 182.5,203.8 184.8,203.6 187,203.4 189.3,203.2 191.5,203 193.8,202.9 196,202.8 198.3,202.7 200.5,202.6 202.8,202.5 205,202.5 207.3,202.5 209.5,202.5 211.8,202.5 214,202.5 216.3,202.5 218.5,202.6 220.8,202.6 223,202.7 225.3,202.7 227.5,202.8 229.8,202.9 232,203 234.3,203 236.5,203.1 238.8,203.2 241,203.3 243.3,203.3 245.5,203.4 247.8,203.5 250,203.5 252.3,203.6 254.5,203.6 256.8,203.7 259,203.7 261.3,203.8 263.5,203.8 265.8,203.9 268,203.9 270.3,204 272.5,204 274.8,204.1 277,204.1 279.3,204.1 281.5,204.2 283.8,204.2 286,204.2 288.3,204.2 290.5,204.3 292.8,204.3 295,204.3 297.3,204.3 299.5,204.4 301.8,204.4 304,204.4 306.3,204.4 308.5,204.5 310.8,204.5 313,204.5 315.3,204.5 317.5,204.5 319.8,204.6 322,204.6 324.3,204.6 326.5,204.6 328.8,204.6 331,204.6 333.3,204.6 335.5,204.6 337.8,204.7 340,204.7 342.3,204.7 344.5,204.7 346.8,204.7"/>
<polyline class="b " points="79,216 81.3,215.9 83.5,215.9 85.8,215.8 88,215.7 90.3,215.5 92.5,215.3 94.8,215.1 97,214.9 99.3,214.6 101.5,214.4 103.8,214.1 106,213.8 108.3,213.5 110.5,213.2 112.8,212.9 115,212.6 117.3,212.4 119.5,212.1 121.8,211.8 124,211.5 126.3,211.3 128.5,211.1 130.8,210.9 133,210.7 135.3,210.6 137.5,210.5 139.8,210.4 142,210.4 144.3,210.4 146.5,210.4 148.8,210.4 151,210.5 153.3,210.7 155.5,210.8 157.8,211 160,211.2 162.3,211.5 164.5,211.8 166.8,212.1 169,212.4 171.3,212.8 173.5,213.2 175.8,213.7 178,214.1 180.3,214.6 182.5,215.1 184.8,215.7 187,216.2 189.3,216.8 191.5,217.5 193.8,218.1 196,218.8 198.3,219.5 200.5,220.2 202.8,221 205,221.8 207.3,222.6 209.5,223.4 211.8,224.2 214,225.1 216.3,226 218.5,226.9 220.8,227.8 223,228.7 225.3,229.7 227.5,230.6 229.8,231.6 232,232.5 234.3,233.4 236.5,234.4 238.8,235.3 241,236.2 243.3,237 245.5,237.9 247.8,238.7 250,239.5 252.3,240.3 254.5,241 256.8,241.8 259,242.5 261.3,243.2 263.5,243.8 265.8,244.5 268,245.1 270.3,245.7 272.5,246.3 274.8,246.8 277,247.4 279.3,247.9 281.5,248.4 283.8,248.9 286,249.4 288.3,249.8 290.5,250.2 292.8,250.7 295,251.1 297.3,251.5 299.5,251.8 301.8,252.2 304,252.5 306.3,252.9 308.5,253.2 310.8,253.5 313,253.7 315.3,254 317.5,254.2 319.8,254.5 322,254.7 324.3,254.9 326.5,255.1 328.8,255.2 331,255.4 333.3,255.5 335.5,255.6 337.8,255.7 340,255.7 342.3,255.8 344.5,255.8 346.8,255.8"/>
<polyline class="b " points="79,224.4 81.3,224.4 83.5,224.4 85.8,224.5 88,224.5 90.3,224.6 92.5,224.8 94.8,224.9 97,225 99.3,225.2 101.5,225.4 103.8,225.6 106,225.8 108.3,226.1 110.5,226.3 112.8,226.6 115,226.9 117.3,227.2 119.5,227.5 121.8,227.8 124,228.1 126.3,228.5 128.5,228.8 130.8,229.2 133,229.6 135.3,230 137.5,230.4 139.8,230.8 142,231.2 144.3,231.6 146.5,232 148.8,232.4 151,232.9 153.3,233.3 155.5,233.8 157.8,234.2 160,234.7 162.3,235.1 164.5,235.6 166.8,236.1 169,236.5 171.3,237 173.5,237.5 175.8,238 178,238.4 180.3,238.9 182.5,239.4 184.8,239.9 187,240.4 189.3,240.9 191.5,241.4 193.8,241.8 196,242.3 198.3,242.8 200.5,243.3 202.8,243.8 205,244.3 207.3,244.8 209.5,245.3 211.8,245.7 214,246.2 216.3,246.7 218.5,247.2 220.8,247.6 223,248.1 225.3,248.5 227.5,249 229.8,249.4 232,249.9 234.3,250.3 236.5,250.7 238.8,251.1 241,251.5 243.3,251.9 245.5,252.3 247.8,252.6 250,253 252.3,253.3 254.5,253.6 256.8,253.9 259,254.2 261.3,254.5 263.5,254.7 265.8,255 268,255.2 270.3,255.5 272.5,255.7 274.8,255.9 277,256.1 279.3,256.3 281.5,256.5 283.8,256.6 286,256.8 288.3,256.9 290.5,257.1 292.8,257.2 295,257.4 297.3,257.5 299.5,257.6 301.8,257.7 304,257.8 306.3,257.9 308.5,258 310.8,258.1 313,258.2 315.3,258.3 317.5,258.3 319.8,258.4 322,258.4 324.3,258.5 326.5,258.5 328.8,258.6 331,258.6 333.3,258.6 335.5,258.7 337.8,258.7 340,258.7 342.3,258.7 344.5,258.7 346.8,258.7"/>
<polyline class="b " points="79,163.9 81.3,163.9 83.5,163.9 85.8,163.9 88,163.9 90.3,163.8 92.5,163.6 94.8,163.4 97,163.1 99.3,162.7 101.5,162.2 103.8,161.6 106,160.8 108.3,159.9 110.5,158.9 112.8,157.7 115,156.4 117.3,154.8 119.5,153.2 121.8,151.5 124,149.8 126.3,148.1 128.5,146.4 130.8,144.7 133,143.2 135.3,141.7 137.5,140.3 139.8,139 142,137.8 144.3,136.6 146.5,135.5 148.8,134.5 151,133.5 153.3,132.5 155.5,131.5 157.8,130.6 160,129.7 162.3,128.8 164.5,127.9 166.8,127.1 169,126.2 171.3,125.4 173.5,124.5 175.8,123.7 178,122.9 180.3,122.1 182.5,121.4 184.8,120.7 187,120.1 189.3,119.5 191.5,119 193.8,118.5 196,118.2 198.3,117.9 200.5,117.7 202.8,117.6 205,117.6 207.3,117.6 209.5,117.8 211.8,118 214,118.3 216.3,118.6 218.5,119 220.8,119.4 223,119.8 225.3,120.3 227.5,120.8 229.8,121.3 232,121.8 234.3,122.3 236.5,122.9 238.8,123.4 241,124 243.3,124.6 245.5,125.2 247.8,125.8 250,126.4 252.3,127.1 254.5,127.8 256.8,128.5 259,129.2 261.3,129.9 263.5,130.7 265.8,131.5 268,132.2 270.3,133 272.5,133.8 274.8,134.6 277,135.4 279.3,136.2 281.5,137.1 283.8,137.8 286,138.6 288.3,139.4 290.5,140.2 292.8,140.9 295,141.7 297.3,142.4 299.5,143.1 301.8,143.7 304,144.4 306.3,145 308.5,145.6 310.8,146.2 313,146.8 315.3,147.3 317.5,147.8 319.8,148.4 322,148.8 324.3,149.3 326.5,149.7 328.8,150.2 331,150.6 333.3,151 335.5,151.3 337.8,151.6 340,151.9 342.3,152 344.5,152.2 346.8,152.2"/>
<polyline class="b " points="79,153.8 81.3,153.8 83.5,153.8 85.8,153.8 88,153.8 90.3,153.7 92.5,153.7 94.8,153.6 97,153.5 99.3,153.4 101.5,153.3 103.8,153.2 106,153 108.3,152.8 110.5,152.6 112.8,152.4 115,152.1 117.3,151.8 119.5,151.6 121.8,151.3 124,151 126.3,150.8 128.5,150.6 130.8,150.4 133,150.3 135.3,150.3 137.5,150.3 139.8,150.4 142,150.6 144.3,150.8 146.5,151.1 148.8,151.5 151,151.9 153.3,152.4 155.5,152.9 157.8,153.4 160,154 162.3,154.6 164.5,155.2 166.8,155.8 169,156.5 171.3,157.2 173.5,157.9 175.8,158.6 178,159.4 180.3,160.2 182.5,161 184.8,161.9 187,162.8 189.3,163.7 191.5,164.7 193.8,165.6 196,166.7 198.3,167.7 200.5,168.8 202.8,169.8 205,170.9 207.3,171.9 209.5,173 211.8,174 214,175 216.3,176 218.5,177 220.8,177.9 223,178.9 225.3,179.8 227.5,180.7 229.8,181.7 232,182.6 234.3,183.5 236.5,184.4 238.8,185.3 241,186.2 243.3,187.2 245.5,188.1 247.8,189 250,189.9 252.3,190.8 254.5,191.7 256.8,192.6 259,193.4 261.3,194.2 263.5,194.9 265.8,195.6 268,196.3 270.3,196.9 272.5,197.4 274.8,197.9 277,198.4 279.3,198.8 281.5,199.2 283.8,199.5 286,199.8 288.3,200.1 290.5,200.4 292.8,200.6 295,200.7 297.3,200.9 299.5,201 301.8,201.1 304,201.1 306.3,201.2 308.5,201.2 310.8,201.2 313,201.2 315.3,201.1 317.5,201.1 319.8,201 322,200.9 324.3,200.8 326.5,200.7 328.8,200.6 331,200.6 333.3,200.5 335.5,200.4 337.8,200.3 340,200.3 342.3,200.2 344.5,200.2 346.8,200.2"/>
<polyline class="b " points="79,153.8 81.3,153.8 83.5,153.8 85.8,153.8 88,153.8 90.3,153.7 92.5,153.7 94.8,153.6 97,153.5 99.3,153.4 101.5,153.3 103.8,153.2 106,153 108.3,152.8 110.5,152.6 112.8,152.4 115,152.1 117.3,151.8 119.5,151.6 121.8,151.3 124,151 126.3,150.8 128.5,150.6 130.8,150.4 133,150.3 135.3,150.3 137.5,150.3 139.8,150.4 142,150.6 144.3,150.8 146.5,151.1 148.8,151.5 151,151.9 153.3,152.4 155.5,152.9 157.8,153.4 160,154 162.3,154.6 164.5,155.2 166.8,155.8 169,156.5 171.3,157.1 173.5,157.9 175.8,158.6 178,159.4 180.3,160.2 182.5,161 184.8,161.9 187,162.8 189.3,163.7 191.5,164.7 193.8,165.7 196,166.7 198.3,167.7 200.5,168.8 202.8,169.8 205,170.9 207.3,172 209.5,173 211.8,174 214,175 216.3,176 218.5,177 220.8,177.9 223,178.8 225.3,179.7 227.5,180.7 229.8,181.6 232,182.5 234.3,183.4 236.5,184.3 238.8,185.3 241,186.3 243.3,187.3 245.5,188.3 247.8,189.3 250,190.3 252.3,191.3 254.5,192.2 256.8,193.2 259,194.1 261.3,195 263.5,195.9 265.8,196.7 268,197.4 270.3,198.1 272.5,198.8 274.8,199.4 277,199.9 279.3,200.4 281.5,200.9 283.8,201.3 286,201.7 288.3,202.1 290.5,202.4 292.8,202.7 295,203 297.3,203.2 299.5,203.4 301.8,203.6 304,203.7 306.3,203.9 308.5,204 310.8,204.1 313,204.2 315.3,204.2 317.5,204.3 319.8,204.3 322,204.3 324.3,204.3 326.5,204.3 328.8,204.3 331,204.3 333.3,204.3 335.5,204.3 337.8,204.3 340,204.3 342.3,204.2 344.5,204.2 346.8,204.2"/>
<polyline class="b " points="79,442.9 80.8,442.9 82.6,443 84.4,443.1 86.2,443.2 88,443.3 89.8,443.4 91.6,443.4 93.4,443.5 95.2,443.6 97,443.7 98.8,443.8 100.6,443.9 102.4,444 104.2,444.1 106,444.3 107.8,444.4 109.6,444.5 111.4,444.6 113.2,444.7 115,444.9 116.8,445 118.6,445.2 120.4,445.4 122.2,445.6 124,445.8 125.8,446 127.6,446.2 129.4,446.5 131.2,446.7 133,447 134.8,447.3 136.6,447.6 138.4,447.9 140.2,448.2 142,448.5 143.8,448.9 145.6,449.3 147.4,449.6 149.2,450 151,450.4 152.8,450.8 154.6,451.2 156.4,451.6 158.2,452 160,452.4 161.8,452.8 163.6,453.2 165.4,453.6 167.2,454 169,454.4 170.8,454.8 172.6,455.2 174.4,455.6 176.2,456.1 178,456.5 179.8,457 181.6,457.4 183.4,457.9 185.2,458.3 187,458.8 188.8,459.2 190.6,459.7 192.4,460.2 194.2,460.7 196,461.2 197.8,461.7 199.6,462.2 201.4,462.7 203.2,463.3 205,463.8 206.8,464.4 208.6,465 210.4,465.7 212.2,466.3 214,467 215.8,467.8 217.6,468.6 219.4,469.4 221.2,470.3 223,471.2 224.8,472.1 226.6,473 228.4,474 230.2,474.9 232,475.9 233.8,476.9 235.6,477.8 237.4,478.8 239.2,479.7 241,480.7 242.8,481.6 244.6,482.6 246.4,483.5 248.2,484.5 250,485.4 251.8,486.4 253.6,487.4 255.4,488.3 257.2,489.3 259,490.3 260.8,491.3 262.6,492.2 264.4,493.2 266.2,494.2 268,495.2 269.8,496.2 271.6,497.1 273.4,498.1 275.2,499.1 277,500 278.8,501 280.6,502 282.4,502.9 284.2,503.9 286,504.8 287.8,505.8 289.6,506.8 291.4,507.7 293.2,508.7"/>
<polyline class="b " points="79,459.7 81.3,459.7 83.5,459.7 85.8,459.7 88,459.8 90.3,459.8 92.5,459.9 94.8,459.9 97,460 99.3,460 101.5,460.1 103.8,460.1 106,460.2 108.3,460.2 110.5,460.2 112.8,460.2 115,460.3 117.3,460.3 119.5,460.3 121.8,460.2 124,460.2 126.3,460.2 128.5,460.1 130.8,460 133,460 135.3,459.9 137.5,459.8 139.8,459.7 142,459.6 144.3,459.5 146.5,459.4 148.8,459.2 151,459.1 153.3,459 155.5,458.8 157.8,458.7 160,458.5 162.3,458.4 164.5,458.2 166.8,458.1 169,457.9 171.3,457.8 173.5,457.6 175.8,457.4 178,457.2 180.3,457 182.5,456.8 184.8,456.6 187,456.4 189.3,456.2 191.5,456 193.8,455.8 196,455.6 198.3,455.4 200.5,455.2 202.8,455 205,454.8 207.3,454.6 209.5,454.4 211.8,454.3 214,454.1 216.3,453.9 218.5,453.7 220.8,453.6 223,453.4 225.3,453.3 227.5,453.1 229.8,452.9 232,452.8 234.3,452.6 236.5,452.5 238.8,452.4 241,452.2 243.3,452.1 245.5,451.9 247.8,451.8 250,451.7 252.3,451.5 254.5,451.4 256.8,451.3 259,451.1 261.3,451 263.5,450.9 265.8,450.8 268,450.7 270.3,450.6 272.5,450.4 274.8,450.3 277,450.2 279.3,450.1 281.5,450 283.8,449.9 286,449.8 288.3,449.7 290.5,449.6 292.8,449.6 295,449.5 297.3,449.4 299.5,449.3 301.8,449.3 304,449.2 306.3,449.1 308.5,449.1 310.8,449 313,448.9 315.3,448.9 317.5,448.8 319.8,448.8 322,448.8 324.3,448.7 326.5,448.7 328.8,448.6 331,448.6 333.3,448.6 335.5,448.6 337.8,448.6 340,448.5 342.3,448.5 344.5,448.5 346.8,448.5"/>
<polyline class="b " points="79,444.6 80.8,444.7 82.6,444.8 84.4,444.8 86.2,444.9 88,445 89.8,445.1 91.6,445.2 93.4,445.3 95.2,445.4 97,445.5 98.8,445.6 100.6,445.7 102.4,445.8 104.2,445.9 106,446 107.8,446.1 109.6,446.2 111.4,446.4 113.2,446.5 115,446.6 116.8,446.8 118.6,446.9 120.4,447.1 122.2,447.3 124,447.5 125.8,447.7 127.6,448 129.4,448.2 131.2,448.5 133,448.8 134.8,449 136.6,449.3 138.4,449.6 140.2,449.9 142,450.3 143.8,450.6 145.6,451 147.4,451.4 149.2,451.8 151,452.2 152.8,452.6 154.6,453 156.4,453.3 158.2,453.7 160,454.1 161.8,454.5 163.6,454.9 165.4,455.3 167.2,455.7 169,456.1 170.8,456.5 172.6,457 174.4,457.4 176.2,457.8 178,458.3 179.8,458.7 181.6,459.2 183.4,459.6 185.2,460.1 187,460.5 188.8,461 190.6,461.5 192.4,461.9 194.2,462.4 196,462.9 197.8,463.4 199.6,463.9 201.4,464.5 203.2,465 205,465.6 206.8,466.2 208.6,466.8 210.4,467.4 212.2,468 214,468.8 215.8,469.5 217.6,470.3 219.4,471.1 221.2,472 223,472.9 224.8,473.8 226.6,474.8 228.4,475.7 230.2,476.7 232,477.6 233.8,478.6 235.6,479.6 237.4,480.5 239.2,481.5 241,482.4 242.8,483.4 244.6,484.3 246.4,485.2 248.2,486.2 250,487.2 251.8,488.1 253.6,489.1 255.4,490.1 257.2,491 259,492 260.8,493 262.6,494 264.4,495 266.2,495.9 268,496.9 269.8,497.9 271.6,498.9 273.4,499.8 275.2,500.8 277,501.8 278.8,502.7 280.6,503.7 282.4,504.7 284.2,505.6 286,506.6 287.8,507.5 289.6,508.5 291.4,509.4 293.2,510.4"/>
<polyline class="b " points="79,461.4 81.3,461.4 83.5,461.4 85.8,461.5 88,461.5 90.3,461.5 92.5,461.6 94.8,461.6 97,461.7 99.3,461.7 101.5,461.8 103.8,461.8 106,461.9 108.3,461.9 110.5,462 112.8,462 115,462 117.3,462 119.5,462 121.8,462 124,462 126.3,461.9 128.5,461.9 130.8,461.8 133,461.7 135.3,461.6 137.5,461.5 139.8,461.4 142,461.3 144.3,461.2 146.5,461.1 148.8,461 151,460.8 153.3,460.7 155.5,460.6 157.8,460.4 160,460.3 162.3,460.1 164.5,460 166.8,459.8 169,459.7 171.3,459.5 173.5,459.3 175.8,459.1 178,459 180.3,458.8 182.5,458.6 184.8,458.4 187,458.2 189.3,458 191.5,457.8 193.8,457.6 196,457.3 198.3,457.1 200.5,456.9 202.8,456.7 205,456.5 207.3,456.4 209.5,456.2 211.8,456 214,455.8 216.3,455.6 218.5,455.5 220.8,455.3 223,455.1 225.3,455 227.5,454.8 229.8,454.7 232,454.5 234.3,454.4 236.5,454.2 238.8,454.1 241,454 243.3,453.8 245.5,453.7 247.8,453.5 250,453.4 252.3,453.3 254.5,453.1 256.8,453 259,452.9 261.3,452.8 263.5,452.6 265.8,452.5 268,452.4 270.3,452.3 272.5,452.2 274.8,452.1 277,452 279.3,451.9 281.5,451.8 283.8,451.7 286,451.6 288.3,451.5 290.5,451.4 292.8,451.3 295,451.2 297.3,451.1 299.5,451.1 301.8,451 304,450.9 306.3,450.9 308.5,450.8 310.8,450.7 313,450.7 315.3,450.6 317.5,450.6 319.8,450.5 322,450.5 324.3,450.5 326.5,450.4 328.8,450.4 331,450.4 333.3,450.3 335.5,450.3 337.8,450.3 340,450.3 342.3,450.3 344.5,450.3 346.8,450.3"/>
<polyline class="b " points="79,451.6 80.7,451.7 82.4,451.8 84.1,451.9 85.8,452 87.5,452.1 89.3,452.3 91,452.4 92.7,452.6 94.4,452.8 96.1,452.9 97.8,453.1 99.5,453.3 101.2,453.5 102.9,453.7 104.6,453.9 106.4,454.1 108.1,454.4 109.8,454.7 111.5,454.9 113.2,455.2 114.9,455.5 116.6,455.9 118.3,456.2 120,456.5 121.7,456.9 123.4,457.3 125.2,457.6 126.9,458 128.6,458.3 130.3,458.7 132,459.1 133.7,459.5 135.4,459.9 137.1,460.3 138.8,460.7 140.5,461.1 142.2,461.6 144,462 145.7,462.4 147.4,462.9 149.1,463.4 150.8,463.8 152.5,464.3 154.2,464.8 155.9,465.2 157.6,465.7 159.3,466.2 161.1,466.7 162.8,467.2 164.5,467.7 166.2,468.3 167.9,468.8 169.6,469.3 171.3,469.9 173,470.4 174.7,471 176.4,471.5 178.1,472.1 179.9,472.7 181.6,473.2 183.3,473.8 185,474.4 186.7,475 188.4,475.6 190.1,476.2 191.8,476.8 193.5,477.4 195.2,478 196.9,478.7 198.7,479.3 200.4,479.9 202.1,480.6 203.8,481.2 205.5,481.9 207.2,482.5 208.9,483.2 210.6,483.9 212.3,484.5 214,485.2 215.8,485.9 217.5,486.6 219.2,487.3 220.9,488 222.6,488.7 224.3,489.4 226,490.1 227.7,490.8 229.4,491.6 231.1,492.3 232.8,493 234.6,493.7 236.3,494.5 238,495.2 239.7,496 241.4,496.8 243.1,497.5 244.8,498.3 246.5,499.1 248.2,499.8 249.9,500.6 251.7,501.4 253.4,502.2 255.1,503 256.8,503.8 258.5,504.6 260.2,505.4 261.9,506.2 263.6,507 265.3,507.9 267,508.7 268.7,509.5 270.5,510.4 272.2,511.2 273.9,512.1 275.6,512.9 277.3,513.8 279,514.6 280.7,515.5 282.4,516.4"/>
<polyline class="b " points="79,456.4 80.6,456.4 82.2,456.5 83.9,456.6 85.5,456.7 87.1,456.8 88.7,457 90.3,457.1 92,457.3 93.6,457.4 95.2,457.6 96.8,457.7 98.4,457.9 100.1,458.1 101.7,458.3 103.3,458.5 104.9,458.7 106.5,458.9 108.2,459.1 109.8,459.4 111.4,459.7 113,459.9 114.6,460.2 116.3,460.5 117.9,460.8 119.5,461.2 121.1,461.5 122.7,461.8 124.4,462.1 126,462.5 127.6,462.8 129.2,463.1 130.8,463.5 132.5,463.8 134.1,464.2 135.7,464.6 137.3,465 139,465.4 140.6,465.7 142.2,466.2 143.8,466.6 145.4,467 147.1,467.4 148.7,467.8 150.3,468.2 151.9,468.7 153.5,469.1 155.2,469.6 156.8,470 158.4,470.5 160,470.9 161.6,471.4 163.3,471.9 164.9,472.4 166.5,472.8 168.1,473.3 169.7,473.8 171.4,474.3 173,474.8 174.6,475.4 176.2,475.9 177.8,476.4 179.5,476.9 181.1,477.5 182.7,478 184.3,478.5 185.9,479.1 187.6,479.6 189.2,480.2 190.8,480.8 192.4,481.3 194,481.9 195.7,482.5 197.3,483.1 198.9,483.7 200.5,484.2 202.1,484.8 203.8,485.4 205.4,486.1 207,486.7 208.6,487.3 210.2,487.9 211.9,488.5 213.5,489.2 215.1,489.8 216.7,490.4 218.3,491.1 220,491.7 221.6,492.4 223.2,493 224.8,493.7 226.4,494.4 228.1,495 229.7,495.7 231.3,496.4 232.9,497.1 234.5,497.8 236.2,498.5 237.8,499.2 239.4,499.9 241,500.6 242.7,501.3 244.3,502 245.9,502.7 247.5,503.4 249.1,504.1 250.8,504.9 252.4,505.6 254,506.3 255.6,507.1 257.2,507.8 258.9,508.6 260.5,509.3 262.1,510.1 263.7,510.9 265.3,511.6 267,512.4 268.6,513.2 270.2,514 271.8,514.7"/>
<polyline class="b " points="79,463.2 80.3,463.2 81.7,463.3 83,463.4 84.3,463.5 85.6,463.6 87,463.7 88.3,463.8 89.6,463.9 91,464.1 92.3,464.2 93.6,464.3 94.9,464.5 96.3,464.6 97.6,464.8 98.9,465 100.3,465.1 101.6,465.3 102.9,465.5 104.2,465.7 105.6,465.9 106.9,466.2 108.2,466.4 109.6,466.7 110.9,466.9 112.2,467.2 113.5,467.5 114.9,467.8 116.2,468 117.5,468.3 118.9,468.6 120.2,468.9 121.5,469.2 122.8,469.5 124.2,469.8 125.5,470.1 126.8,470.4 128.2,470.8 129.5,471.1 130.8,471.4 132.1,471.8 133.5,472.1 134.8,472.5 136.1,472.8 137.5,473.2 138.8,473.6 140.1,473.9 141.4,474.3 142.8,474.7 144.1,475.1 145.4,475.5 146.8,475.9 148.1,476.3 149.4,476.7 150.7,477.1 152.1,477.5 153.4,477.9 154.7,478.3 156.1,478.8 157.4,479.2 158.7,479.6 160,480.1 161.4,480.5 162.7,481 164,481.4 165.4,481.9 166.7,482.3 168,482.8 169.3,483.3 170.7,483.8 172,484.2 173.3,484.7 174.7,485.2 176,485.7 177.3,486.2 178.6,486.7 180,487.2 181.3,487.7 182.6,488.2 184,488.7 185.3,489.3 186.6,489.8 187.9,490.3 189.3,490.9 190.6,491.4 191.9,491.9 193.3,492.5 194.6,493 195.9,493.6 197.2,494.1 198.6,494.7 199.9,495.2 201.2,495.8 202.6,496.4 203.9,496.9 205.2,497.5 206.6,498.1 207.9,498.7 209.2,499.3 210.5,499.9 211.9,500.5 213.2,501.1 214.5,501.7 215.9,502.3 217.2,502.9 218.5,503.5 219.8,504.1 221.2,504.7 222.5,505.3 223.8,506 225.2,506.6 226.5,507.2 227.8,507.9 229.1,508.5 230.5,509.2 231.8,509.8 233.1,510.5 234.5,511.1 235.8,511.8 237.1,512.4"/>
<polyline class="b " points="79,471.9 80.1,471.9 81.2,472 82.3,472 83.4,472.1 84.5,472.2 85.6,472.3 86.7,472.3 87.8,472.4 88.9,472.5 90,472.6 91.1,472.8 92.2,472.9 93.3,473 94.3,473.1 95.4,473.2 96.5,473.4 97.6,473.5 98.7,473.6 99.8,473.8 100.9,474 102,474.2 103.1,474.4 104.2,474.5 105.3,474.7 106.4,475 107.5,475.2 108.6,475.4 109.7,475.6 110.8,475.8 111.9,476 113,476.2 114.1,476.5 115.2,476.7 116.3,476.9 117.4,477.2 118.5,477.4 119.6,477.7 120.7,477.9 121.8,478.2 122.9,478.4 124,478.7 125,479 126.1,479.2 127.2,479.5 128.3,479.8 129.4,480.1 130.5,480.4 131.6,480.7 132.7,481 133.8,481.3 134.9,481.6 136,481.9 137.1,482.2 138.2,482.5 139.3,482.8 140.4,483.1 141.5,483.5 142.6,483.8 143.7,484.1 144.8,484.4 145.9,484.8 147,485.1 148.1,485.5 149.2,485.8 150.3,486.2 151.4,486.5 152.5,486.9 153.6,487.2 154.7,487.6 155.7,488 156.8,488.3 157.9,488.7 159,489.1 160.1,489.5 161.2,489.8 162.3,490.2 163.4,490.6 164.5,491 165.6,491.4 166.7,491.8 167.8,492.2 168.9,492.6 170,493 171.1,493.4 172.2,493.8 173.3,494.2 174.4,494.7 175.5,495.1 176.6,495.5 177.7,495.9 178.8,496.4 179.9,496.8 181,497.2 182.1,497.7 183.2,498.1 184.3,498.5 185.4,499 186.4,499.4 187.5,499.9 188.6,500.4 189.7,500.8 190.8,501.3 191.9,501.7 193,502.2 194.1,502.7 195.2,503.1 196.3,503.6 197.4,504.1 198.5,504.6 199.6,505 200.7,505.5 201.8,506 202.9,506.5 204,507 205.1,507.5 206.2,508 207.3,508.5 208.4,509 209.5,509.5"/>
<polyline class="b " points="79,473 80.1,473.1 81.2,473.1 82.2,473.2 83.3,473.2 84.4,473.3 85.5,473.4 86.6,473.5 87.6,473.6 88.7,473.7 89.8,473.8 90.9,473.9 92,474 93,474.1 94.1,474.2 95.2,474.3 96.3,474.5 97.4,474.6 98.4,474.7 99.5,474.9 100.6,475.1 101.7,475.2 102.8,475.4 103.8,475.6 104.9,475.8 106,476 107.1,476.2 108.2,476.4 109.2,476.6 110.3,476.8 111.4,477 112.5,477.2 113.6,477.4 114.6,477.6 115.7,477.9 116.8,478.1 117.9,478.3 119,478.6 120,478.8 121.1,479.1 122.2,479.3 123.3,479.6 124.4,479.8 125.4,480.1 126.5,480.4 127.6,480.6 128.7,480.9 129.8,481.2 130.8,481.5 131.9,481.7 133,482 134.1,482.3 135.2,482.6 136.3,482.9 137.3,483.2 138.4,483.5 139.5,483.8 140.6,484.1 141.7,484.4 142.7,484.8 143.8,485.1 144.9,485.4 146,485.7 147.1,486.1 148.1,486.4 149.2,486.7 150.3,487.1 151.4,487.4 152.5,487.8 153.5,488.1 154.6,488.5 155.7,488.8 156.8,489.2 157.9,489.5 158.9,489.9 160,490.3 161.1,490.6 162.2,491 163.3,491.4 164.3,491.7 165.4,492.1 166.5,492.5 167.6,492.9 168.7,493.3 169.7,493.7 170.8,494.1 171.9,494.5 173,494.9 174.1,495.3 175.1,495.7 176.2,496.1 177.3,496.5 178.4,496.9 179.5,497.3 180.5,497.8 181.6,498.2 182.7,498.6 183.8,499 184.9,499.5 185.9,499.9 187,500.3 188.1,500.8 189.2,501.2 190.3,501.7 191.3,502.1 192.4,502.6 193.5,503 194.6,503.5 195.7,503.9 196.7,504.4 197.8,504.8 198.9,505.3 200,505.8 201.1,506.2 202.1,506.7 203.2,507.2 204.3,507.7 205.4,508.1 206.5,508.6 207.5,509.1"/>
<polyline class="b " points="79,481.3 80,481.3 80.9,481.3 81.9,481.4 82.9,481.4 83.9,481.5 84.8,481.5 85.8,481.6 86.8,481.7 87.7,481.7 88.7,481.8 89.7,481.9 90.7,482 91.6,482 92.6,482.1 93.6,482.2 94.6,482.3 95.5,482.4 96.5,482.5 97.5,482.6 98.4,482.7 99.4,482.8 100.4,482.9 101.4,483.1 102.3,483.2 103.3,483.3 104.3,483.5 105.2,483.6 106.2,483.8 107.2,483.9 108.2,484 109.1,484.2 110.1,484.3 111.1,484.5 112.1,484.6 113,484.8 114,485 115,485.1 115.9,485.3 116.9,485.5 117.9,485.7 118.9,485.8 119.8,486 120.8,486.2 121.8,486.4 122.7,486.6 123.7,486.7 124.7,486.9 125.7,487.1 126.6,487.3 127.6,487.5 128.6,487.7 129.6,487.9 130.5,488.1 131.5,488.3 132.5,488.6 133.4,488.8 134.4,489 135.4,489.2 136.4,489.4 137.3,489.6 138.3,489.9 139.3,490.1 140.2,490.3 141.2,490.6 142.2,490.8 143.2,491 144.1,491.3 145.1,491.5 146.1,491.7 147.1,492 148,492.2 149,492.5 150,492.7 150.9,493 151.9,493.2 152.9,493.5 153.9,493.7 154.8,494 155.8,494.3 156.8,494.5 157.7,494.8 158.7,495.1 159.7,495.3 160.7,495.6 161.6,495.9 162.6,496.2 163.6,496.4 164.6,496.7 165.5,497 166.5,497.3 167.5,497.6 168.4,497.9 169.4,498.1 170.4,498.4 171.4,498.7 172.3,499 173.3,499.3 174.3,499.6 175.2,499.9 176.2,500.2 177.2,500.5 178.2,500.8 179.1,501.1 180.1,501.4 181.1,501.8 182.1,502.1 183,502.4 184,502.7 185,503 185.9,503.3 186.9,503.7 187.9,504 188.9,504.3 189.8,504.6 190.8,505 191.8,505.3 192.7,505.6 193.7,506 194.7,506.3"/>
<polyline class="b " points="79,492.6 79.7,492.6 80.4,492.6 81.1,492.6 81.9,492.6 82.6,492.7 83.3,492.7 84,492.7 84.7,492.7 85.4,492.8 86.2,492.8 86.9,492.8 87.6,492.8 88.3,492.9 89,492.9 89.7,492.9 90.5,493 91.2,493 91.9,493.1 92.6,493.1 93.3,493.1 94,493.2 94.7,493.2 95.5,493.3 96.2,493.3 96.9,493.4 97.6,493.4 98.3,493.5 99,493.6 99.8,493.6 100.5,493.7 101.2,493.7 101.9,493.8 102.6,493.8 103.3,493.9 104,494 104.8,494 105.5,494.1 106.2,494.2 106.9,494.2 107.6,494.3 108.3,494.4 109.1,494.5 109.8,494.5 110.5,494.6 111.2,494.7 111.9,494.7 112.6,494.8 113.4,494.9 114.1,495 114.8,495 115.5,495.1 116.2,495.2 116.9,495.3 117.6,495.4 118.4,495.5 119.1,495.5 119.8,495.6 120.5,495.7 121.2,495.8 121.9,495.9 122.7,496 123.4,496.1 124.1,496.2 124.8,496.2 125.5,496.3 126.2,496.4 126.9,496.5 127.7,496.6 128.4,496.7 129.1,496.8 129.8,496.9 130.5,497 131.2,497.1 132,497.2 132.7,497.3 133.4,497.4 134.1,497.5 134.8,497.6 135.5,497.7 136.3,497.8 137,497.9 137.7,498 138.4,498.1 139.1,498.2 139.8,498.4 140.5,498.5 141.3,498.6 142,498.7 142.7,498.8 143.4,498.9 144.1,499 144.8,499.1 145.6,499.2 146.3,499.4 147,499.5 147.7,499.6 148.4,499.7 149.1,499.8 149.8,500 150.6,500.1 151.3,500.2 152,500.3 152.7,500.4 153.4,500.6 154.1,500.7 154.9,500.8 155.6,500.9 156.3,501.1 157,501.2 157.7,501.3 158.4,501.4 159.2,501.6 159.9,501.7 160.6,501.8 161.3,501.9 162,502.1 162.7,502.2 163.4,502.3 164.2,502.5"/>
<polyline class="b " points="79,497.2 79.4,497.2 79.8,497.2 80.2,497.2 80.6,497.2 81,497.2 81.4,497.3 81.8,497.3 82.2,497.3 82.6,497.3 83.1,497.3 83.5,497.3 83.9,497.3 84.3,497.3 84.7,497.3 85.1,497.4 85.5,497.4 85.9,497.4 86.3,497.4 86.7,497.4 87.1,497.4 87.5,497.4 87.9,497.5 88.3,497.5 88.7,497.5 89.1,497.5 89.5,497.5 89.9,497.6 90.3,497.6 90.7,497.6 91.2,497.6 91.6,497.6 92,497.7 92.4,497.7 92.8,497.7 93.2,497.7 93.6,497.8 94,497.8 94.4,497.8 94.8,497.8 95.2,497.9 95.6,497.9 96,497.9 96.4,497.9 96.8,498 97.2,498 97.6,498 98,498 98.4,498.1 98.8,498.1 99.3,498.1 99.7,498.2 100.1,498.2 100.5,498.2 100.9,498.3 101.3,498.3 101.7,498.3 102.1,498.4 102.5,498.4 102.9,498.4 103.3,498.4 103.7,498.5 104.1,498.5 104.5,498.5 104.9,498.6 105.3,498.6 105.7,498.7 106.1,498.7 106.5,498.7 107,498.8 107.4,498.8 107.8,498.8 108.2,498.9 108.6,498.9 109,498.9 109.4,499 109.8,499 110.2,499.1 110.6,499.1 111,499.1 111.4,499.2 111.8,499.2 112.2,499.2 112.6,499.3 113,499.3 113.4,499.4 113.8,499.4 114.2,499.4 114.6,499.5 115.1,499.5 115.5,499.6 115.9,499.6 116.3,499.7 116.7,499.7 117.1,499.7 117.5,499.8 117.9,499.8 118.3,499.9 118.7,499.9 119.1,500 119.5,500 119.9,500.1 120.3,500.1 120.7,500.1 121.1,500.2 121.5,500.2 121.9,500.3 122.3,500.3 122.7,500.4 123.2,500.4 123.6,500.5 124,500.5 124.4,500.6 124.8,500.6 125.2,500.7 125.6,500.7 126,500.8 126.4,500.8 126.8,500.9 127.2,500.9"/>
<polyline class="b " points="79,130.8 81.3,130.8 83.5,130.7 85.8,130.7 88,130.6 90.3,130.5 92.5,130.4 94.8,130.3 97,130.1 99.3,129.9 101.5,129.7 103.8,129.4 106,129.1 108.3,128.8 110.5,128.5 112.8,128.1 115,127.6 117.3,127.2 119.5,126.7 121.8,126.1 124,125.6 126.3,125 128.5,124.4 130.8,123.8 133,123.1 135.3,122.5 137.5,121.8 139.8,121.2 142,120.5 144.3,119.8 146.5,119.2 148.8,118.5 151,117.9 153.3,117.2 155.5,116.6 157.8,115.9 160,115.2 162.3,114.6 164.5,113.9 166.8,113.1 169,112.4 171.3,111.6 173.5,110.8 175.8,110 178,109.1 180.3,108.2 182.5,107.2 184.8,106.2 187,105.2 189.3,104.2 191.5,103.1 193.8,102.1 196,101.1 198.3,100.2 200.5,99.3 202.8,98.5 205,97.7 207.3,97.1 209.5,96.5 211.8,96.1 214,95.8 216.3,95.7 218.5,95.7 220.8,95.9 223,96.2 225.3,96.6 227.5,97.1 229.8,97.7 232,98.4 234.3,99.2 236.5,100 238.8,100.9 241,101.8 243.3,102.8 245.5,103.7 247.8,104.7 250,105.6 252.3,106.6 254.5,107.5 256.8,108.3 259,109.2 261.3,110.1 263.5,110.9 265.8,111.7 268,112.5 270.3,113.4 272.5,114.2 274.8,115 277,115.8 279.3,116.5 281.5,117.3 283.8,118.1 286,118.9 288.3,119.7 290.5,120.5 292.8,121.3 295,122.1 297.3,122.9 299.5,123.6 301.8,124.3 304,125 306.3,125.7 308.5,126.4 310.8,127 313,127.6 315.3,128.1 317.5,128.6 319.8,129 322,129.5 324.3,129.8 326.5,130.1 328.8,130.4 331,130.7 333.3,130.9 335.5,131.1 337.8,131.2 340,131.3 342.3,131.4 344.5,131.5 346.8,131.5"/>
<polyline class="b " points="79,126.1 81.3,126.1 83.5,126.2 85.8,126.2 88,126.2 90.3,126.2 92.5,126.2 94.8,126.2 97,126.2 99.3,126.1 101.5,126 103.8,125.8 106,125.6 108.3,125.3 110.5,124.9 112.8,124.4 115,123.9 117.3,123.3 119.5,122.6 121.8,121.9 124,121.1 126.3,120.3 128.5,119.4 130.8,118.6 133,117.7 135.3,116.8 137.5,115.9 139.8,115 142,114.1 144.3,113.3 146.5,112.5 148.8,111.8 151,111.1 153.3,110.5 155.5,109.8 157.8,109.2 160,108.7 162.3,108.1 164.5,107.6 166.8,107 169,106.5 171.3,105.9 173.5,105.4 175.8,104.8 178,104.1 180.3,103.5 182.5,102.8 184.8,102 187,101.3 189.3,100.5 191.5,99.7 193.8,98.9 196,98.2 198.3,97.4 200.5,96.7 202.8,96.1 205,95.5 207.3,95 209.5,94.6 211.8,94.3 214,94.1 216.3,93.9 218.5,94 220.8,94.1 223,94.3 225.3,94.7 227.5,95.1 229.8,95.6 232,96.2 234.3,96.8 236.5,97.5 238.8,98.3 241,99.1 243.3,99.9 245.5,100.7 247.8,101.6 250,102.4 252.3,103.3 254.5,104.1 256.8,105 259,105.8 261.3,106.6 263.5,107.5 265.8,108.3 268,109.1 270.3,109.9 272.5,110.7 274.8,111.5 277,112.2 279.3,113 281.5,113.8 283.8,114.5 286,115.2 288.3,116 290.5,116.7 292.8,117.4 295,118.1 297.3,118.7 299.5,119.4 301.8,120 304,120.6 306.3,121.2 308.5,121.7 310.8,122.2 313,122.7 315.3,123.2 317.5,123.6 319.8,124 322,124.3 324.3,124.6 326.5,124.9 328.8,125.2 331,125.4 333.3,125.6 335.5,125.8 337.8,125.9 340,126 342.3,126.1 344.5,126.1 346.8,126.1"/>
<polyline class="b " points="79,122.5 81.3,122.5 83.5,122.5 85.8,122.5 88,122.5 90.3,122.5 92.5,122.5 94.8,122.5 97,122.4 99.3,122.3 101.5,122.1 103.8,121.9 106,121.6 108.3,121.3 110.5,120.9 112.8,120.4 115,119.8 117.3,119.2 119.5,118.5 121.8,117.7 124,116.9 126.3,116 128.5,115.2 130.8,114.3 133,113.3 135.3,112.4 137.5,111.5 139.8,110.6 142,109.7 144.3,108.9 146.5,108 148.8,107.3 151,106.6 153.3,105.9 155.5,105.3 157.8,104.7 160,104.1 162.3,103.5 164.5,103 166.8,102.4 169,101.9 171.3,101.3 173.5,100.8 175.8,100.2 178,99.6 180.3,99 182.5,98.3 184.8,97.6 187,96.9 189.3,96.2 191.5,95.5 193.8,94.7 196,94 198.3,93.4 200.5,92.7 202.8,92.2 205,91.6 207.3,91.2 209.5,90.8 211.8,90.5 214,90.3 216.3,90.2 218.5,90.2 220.8,90.3 223,90.5 225.3,90.8 227.5,91.2 229.8,91.6 232,92.2 234.3,92.8 236.5,93.4 238.8,94.1 241,94.8 243.3,95.6 245.5,96.3 247.8,97.1 250,97.9 252.3,98.7 254.5,99.6 256.8,100.4 259,101.2 261.3,102 263.5,102.8 265.8,103.6 268,104.5 270.3,105.3 272.5,106.1 274.8,106.9 277,107.7 279.3,108.5 281.5,109.2 283.8,110 286,110.8 288.3,111.5 290.5,112.3 292.8,113 295,113.7 297.3,114.4 299.5,115.1 301.8,115.8 304,116.4 306.3,117 308.5,117.6 310.8,118.1 313,118.6 315.3,119.1 317.5,119.5 319.8,120 322,120.3 324.3,120.7 326.5,121 328.8,121.2 331,121.5 333.3,121.7 335.5,121.8 337.8,122 340,122.1 342.3,122.2 344.5,122.2 346.8,122.2"/>
<polyline class="b " points="79,119.9 81.3,119.9 83.5,119.9 85.8,119.9 88,119.9 90.3,119.9 92.5,119.9 94.8,119.8 97,119.7 99.3,119.6 101.5,119.4 103.8,119.2 106,118.9 108.3,118.6 110.5,118.2 112.8,117.8 115,117.2 117.3,116.6 119.5,116 121.8,115.3 124,114.5 126.3,113.7 128.5,112.8 130.8,112 133,111.1 135.3,110.2 137.5,109.3 139.8,108.4 142,107.5 144.3,106.6 146.5,105.7 148.8,104.9 151,104.1 153.3,103.3 155.5,102.6 157.8,101.9 160,101.2 162.3,100.5 164.5,99.8 166.8,99.1 169,98.4 171.3,97.7 173.5,97 175.8,96.3 178,95.6 180.3,94.9 182.5,94.2 184.8,93.5 187,92.7 189.3,92 191.5,91.2 193.8,90.5 196,89.8 198.3,89.2 200.5,88.6 202.8,88 205,87.6 207.3,87.1 209.5,86.8 211.8,86.5 214,86.3 216.3,86.3 218.5,86.3 220.8,86.4 223,86.7 225.3,87 227.5,87.4 229.8,87.8 232,88.3 234.3,88.9 236.5,89.5 238.8,90.2 241,90.9 243.3,91.6 245.5,92.3 247.8,93.1 250,93.9 252.3,94.6 254.5,95.4 256.8,96.2 259,96.9 261.3,97.7 263.5,98.5 265.8,99.3 268,100 270.3,100.8 272.5,101.6 274.8,102.4 277,103.2 279.3,103.9 281.5,104.7 283.8,105.5 286,106.3 288.3,107.1 290.5,107.9 292.8,108.7 295,109.5 297.3,110.2 299.5,111 301.8,111.7 304,112.4 306.3,113.1 308.5,113.7 310.8,114.4 313,114.9 315.3,115.5 317.5,116 319.8,116.5 322,116.9 324.3,117.3 326.5,117.6 328.8,117.9 331,118.2 333.3,118.4 335.5,118.6 337.8,118.8 340,118.9 342.3,119 344.5,119 346.8,119"/>
<polyline class="b " points="79,111.3 81.3,111.4 83.5,111.4 85.8,111.4 88,111.4 90.3,111.4 92.5,111.4 94.8,111.4 97,111.3 99.3,111.2 101.5,111.1 103.8,111 106,110.8 108.3,110.6 110.5,110.4 112.8,110.1 115,109.7 117.3,109.3 119.5,108.9 121.8,108.4 124,107.8 126.3,107.2 128.5,106.6 130.8,106 133,105.4 135.3,104.7 137.5,104 139.8,103.3 142,102.6 144.3,101.9 146.5,101.2 148.8,100.5 151,99.8 153.3,99.2 155.5,98.5 157.8,97.8 160,97.1 162.3,96.5 164.5,95.8 166.8,95.1 169,94.5 171.3,93.8 173.5,93.1 175.8,92.4 178,91.7 180.3,91 182.5,90.3 184.8,89.6 187,88.9 189.3,88.2 191.5,87.5 193.8,86.8 196,86.2 198.3,85.6 200.5,85 202.8,84.5 205,84.1 207.3,83.7 209.5,83.4 211.8,83.2 214,83.1 216.3,83.1 218.5,83.2 220.8,83.4 223,83.6 225.3,84 227.5,84.4 229.8,84.8 232,85.3 234.3,85.9 236.5,86.5 238.8,87.1 241,87.7 243.3,88.4 245.5,89 247.8,89.6 250,90.2 252.3,90.8 254.5,91.4 256.8,91.9 259,92.5 261.3,93 263.5,93.6 265.8,94.2 268,94.8 270.3,95.4 272.5,96 274.8,96.7 277,97.5 279.3,98.3 281.5,99.1 283.8,100 286,101 288.3,102 290.5,103.1 292.8,104.3 295,105.4 297.3,106.6 299.5,107.7 301.8,108.9 304,110 306.3,111 308.5,112.1 310.8,113 313,113.9 315.3,114.7 317.5,115.3 319.8,115.9 322,116.4 324.3,116.8 326.5,117.2 328.8,117.5 331,117.7 333.3,117.9 335.5,118 337.8,118.1 340,118.1 342.3,118.1 344.5,118.2 346.8,118.2"/>
<polyline class="b " points="79,98.3 81.3,98.3 83.5,98.2 85.8,98.2 88,98.1 90.3,97.9 92.5,97.8 94.8,97.7 97,97.5 99.3,97.3 101.5,97.1 103.8,96.9 106,96.7 108.3,96.5 110.5,96.3 112.8,96.2 115,96 117.3,95.8 119.5,95.7 121.8,95.5 124,95.3 126.3,95.2 128.5,95 130.8,94.9 133,94.7 135.3,94.5 137.5,94.3 139.8,94.1 142,93.9 144.3,93.7 146.5,93.4 148.8,93.2 151,92.9 153.3,92.6 155.5,92.2 157.8,91.9 160,91.5 162.3,91.1 164.5,90.7 166.8,90.2 169,89.7 171.3,89.2 173.5,88.7 175.8,88.1 178,87.5 180.3,86.9 182.5,86.3 184.8,85.6 187,85 189.3,84.3 191.5,83.6 193.8,83 196,82.3 198.3,81.7 200.5,81.1 202.8,80.6 205,80.2 207.3,79.8 209.5,79.5 211.8,79.2 214,79.1 216.3,79 218.5,79.1 220.8,79.3 223,79.5 225.3,79.8 227.5,80.3 229.8,80.7 232,81.2 234.3,81.8 236.5,82.4 238.8,83.1 241,83.7 243.3,84.4 245.5,85 247.8,85.7 250,86.3 252.3,86.9 254.5,87.5 256.8,88.1 259,88.7 261.3,89.2 263.5,89.8 265.8,90.3 268,90.9 270.3,91.4 272.5,91.9 274.8,92.4 277,93 279.3,93.5 281.5,94.1 283.8,94.7 286,95.3 288.3,95.9 290.5,96.5 292.8,97.1 295,97.7 297.3,98.3 299.5,98.9 301.8,99.5 304,100 306.3,100.6 308.5,101.1 310.8,101.6 313,102 315.3,102.4 317.5,102.8 319.8,103.1 322,103.4 324.3,103.6 326.5,103.8 328.8,104 331,104.2 333.3,104.3 335.5,104.4 337.8,104.4 340,104.5 342.3,104.5 344.5,104.5 346.8,104.5"/>
<polyline class="b " points="79,97.4 81.3,97.4 83.5,97.4 85.8,97.3 88,97.3 90.3,97.2 92.5,97.1 94.8,96.9 97,96.8 99.3,96.6 101.5,96.4 103.8,96.2 106,96 108.3,95.8 110.5,95.6 112.8,95.3 115,95 117.3,94.7 119.5,94.4 121.8,94.1 124,93.8 126.3,93.5 128.5,93.1 130.8,92.8 133,92.4 135.3,92 137.5,91.6 139.8,91.2 142,90.8 144.3,90.4 146.5,90 148.8,89.6 151,89.1 153.3,88.7 155.5,88.2 157.8,87.8 160,87.3 162.3,86.9 164.5,86.4 166.8,85.9 169,85.4 171.3,84.9 173.5,84.4 175.8,83.9 178,83.4 180.3,82.8 182.5,82.3 184.8,81.8 187,81.2 189.3,80.7 191.5,80.2 193.8,79.7 196,79.2 198.3,78.8 200.5,78.4 202.8,78 205,77.7 207.3,77.4 209.5,77.2 211.8,77 214,76.9 216.3,76.9 218.5,76.9 220.8,77 223,77.2 225.3,77.4 227.5,77.7 229.8,78 232,78.4 234.3,78.8 236.5,79.3 238.8,79.8 241,80.3 243.3,80.9 245.5,81.5 247.8,82.1 250,82.7 252.3,83.3 254.5,84 256.8,84.6 259,85.3 261.3,85.9 263.5,86.6 265.8,87.3 268,88 270.3,88.7 272.5,89.4 274.8,90.1 277,90.8 279.3,91.5 281.5,92.2 283.8,92.9 286,93.6 288.3,94.4 290.5,95.1 292.8,95.8 295,96.5 297.3,97.2 299.5,97.8 301.8,98.4 304,99.1 306.3,99.6 308.5,100.2 310.8,100.7 313,101.1 315.3,101.6 317.5,101.9 319.8,102.3 322,102.5 324.3,102.8 326.5,103 328.8,103.2 331,103.3 333.3,103.4 335.5,103.5 337.8,103.6 340,103.6 342.3,103.6 344.5,103.7 346.8,103.7"/>
<polyline class="b " points="79,84.5 81.3,84.5 83.5,84.5 85.8,84.5 88,84.5 90.3,84.4 92.5,84.3 94.8,84.3 97,84.2 99.3,84.1 101.5,84 103.8,83.8 106,83.7 108.3,83.5 110.5,83.3 112.8,83.1 115,82.9 117.3,82.7 119.5,82.4 121.8,82.1 124,81.9 126.3,81.6 128.5,81.4 130.8,81.1 133,80.8 135.3,80.6 137.5,80.4 139.8,80.2 142,80 144.3,79.9 146.5,79.8 148.8,79.7 151,79.7 153.3,79.6 155.5,79.6 157.8,79.7 160,79.7 162.3,79.7 164.5,79.7 166.8,79.7 169,79.7 171.3,79.7 173.5,79.6 175.8,79.5 178,79.3 180.3,79.1 182.5,78.9 184.8,78.5 187,78.2 189.3,77.8 191.5,77.4 193.8,76.9 196,76.5 198.3,76.1 200.5,75.6 202.8,75.2 205,74.8 207.3,74.5 209.5,74.2 211.8,73.9 214,73.8 216.3,73.7 218.5,73.6 220.8,73.7 223,73.8 225.3,74 227.5,74.2 229.8,74.5 232,74.8 234.3,75.2 236.5,75.6 238.8,76.1 241,76.6 243.3,77.1 245.5,77.6 247.8,78.1 250,78.6 252.3,79.2 254.5,79.7 256.8,80.2 259,80.8 261.3,81.3 263.5,81.9 265.8,82.4 268,82.9 270.3,83.5 272.5,84 274.8,84.6 277,85.1 279.3,85.6 281.5,86.2 283.8,86.7 286,87.2 288.3,87.8 290.5,88.3 292.8,88.8 295,89.3 297.3,89.8 299.5,90.3 301.8,90.8 304,91.2 306.3,91.7 308.5,92.1 310.8,92.5 313,92.8 315.3,93.1 317.5,93.4 319.8,93.7 322,94 324.3,94.2 326.5,94.4 328.8,94.5 331,94.7 333.3,94.8 335.5,94.9 337.8,95 340,95 342.3,95.1 344.5,95.1 346.8,95.1"/>
<polyline class="b " points="79,75.6 81.3,75.6 83.5,75.6 85.8,75.6 88,75.6 90.3,75.6 92.5,75.6 94.8,75.6 97,75.6 99.3,75.7 101.5,75.7 103.8,75.8 106,75.8 108.3,75.9 110.5,76 112.8,76.1 115,76.3 117.3,76.4 119.5,76.6 121.8,76.7 124,76.9 126.3,77.1 128.5,77.3 130.8,77.4 133,77.6 135.3,77.8 137.5,77.9 139.8,78 142,78.1 144.3,78.1 146.5,78.2 148.8,78.2 151,78.1 153.3,78 155.5,78 157.8,77.8 160,77.7 162.3,77.5 164.5,77.3 166.8,77.2 169,77 171.3,76.8 173.5,76.5 175.8,76.3 178,76.1 180.3,75.9 182.5,75.7 184.8,75.5 187,75.3 189.3,75.2 191.5,75 193.8,74.8 196,74.6 198.3,74.4 200.5,74.2 202.8,73.9 205,73.7 207.3,73.4 209.5,73.2 211.8,72.8 214,72.5 216.3,72.2 218.5,71.8 220.8,71.4 223,70.9 225.3,70.5 227.5,70.1 229.8,69.7 232,69.4 234.3,69.1 236.5,68.8 238.8,68.6 241,68.4 243.3,68.4 245.5,68.4 247.8,68.5 250,68.8 252.3,69.1 254.5,69.6 256.8,70.1 259,70.8 261.3,71.5 263.5,72.3 265.8,73.2 268,74.1 270.3,75 272.5,76 274.8,77 277,78.1 279.3,79.1 281.5,80.1 283.8,81.2 286,82.2 288.3,83.2 290.5,84.1 292.8,85.1 295,86 297.3,86.8 299.5,87.7 301.8,88.5 304,89.2 306.3,89.9 308.5,90.5 310.8,91.1 313,91.7 315.3,92.1 317.5,92.6 319.8,92.9 322,93.2 324.3,93.5 326.5,93.7 328.8,93.8 331,94 333.3,94.1 335.5,94.1 337.8,94.2 340,94.2 342.3,94.2 344.5,94.2 346.8,94.2"/>
<polyline class="b " points="79,74.7 81.3,74.7 83.5,74.7 85.8,74.8 88,74.9 90.3,74.9 92.5,75 94.8,75.1 97,75.2 99.3,75.3 101.5,75.3 103.8,75.4 106,75.4 108.3,75.5 110.5,75.5 112.8,75.4 115,75.4 117.3,75.3 119.5,75.1 121.8,75 124,74.8 126.3,74.6 128.5,74.4 130.8,74.2 133,73.9 135.3,73.7 137.5,73.5 139.8,73.2 142,73 144.3,72.8 146.5,72.6 148.8,72.4 151,72.2 153.3,72 155.5,71.8 157.8,71.7 160,71.5 162.3,71.4 164.5,71.2 166.8,71.1 169,71 171.3,70.9 173.5,70.8 175.8,70.7 178,70.6 180.3,70.5 182.5,70.4 184.8,70.3 187,70.2 189.3,70.2 191.5,70.1 193.8,70 196,69.8 198.3,69.7 200.5,69.6 202.8,69.4 205,69.3 207.3,69.1 209.5,68.9 211.8,68.6 214,68.4 216.3,68.1 218.5,67.8 220.8,67.5 223,67.2 225.3,66.8 227.5,66.5 229.8,66.2 232,65.9 234.3,65.7 236.5,65.5 238.8,65.3 241,65.2 243.3,65.2 245.5,65.2 247.8,65.4 250,65.6 252.3,65.9 254.5,66.3 256.8,66.8 259,67.4 261.3,68 263.5,68.6 265.8,69.4 268,70.1 270.3,70.9 272.5,71.7 274.8,72.5 277,73.3 279.3,74.1 281.5,74.8 283.8,75.5 286,76.2 288.3,76.9 290.5,77.5 292.8,78 295,78.6 297.3,79.1 299.5,79.6 301.8,80 304,80.5 306.3,80.9 308.5,81.2 310.8,81.6 313,81.9 315.3,82.3 317.5,82.6 319.8,82.9 322,83.2 324.3,83.4 326.5,83.7 328.8,83.9 331,84.1 333.3,84.3 335.5,84.5 337.8,84.6 340,84.7 342.3,84.8 344.5,84.8 346.8,84.8"/>
<polyline class="b " points="79,67.9 81.3,67.9 83.5,67.8 85.8,67.7 88,67.6 90.3,67.5 92.5,67.4 94.8,67.3 97,67.1 99.3,67 101.5,66.9 103.8,66.8 106,66.7 108.3,66.6 110.5,66.6 112.8,66.6 115,66.6 117.3,66.7 119.5,66.8 121.8,66.9 124,67 126.3,67.1 128.5,67.3 130.8,67.4 133,67.5 135.3,67.6 137.5,67.6 139.8,67.6 142,67.6 144.3,67.5 146.5,67.3 148.8,67.1 151,66.9 153.3,66.5 155.5,66.2 157.8,65.8 160,65.3 162.3,64.9 164.5,64.5 166.8,64 169,63.6 171.3,63.2 173.5,62.9 175.8,62.6 178,62.3 180.3,62.1 182.5,62 184.8,62 187,62 189.3,62 191.5,62.1 193.8,62.3 196,62.5 198.3,62.7 200.5,62.9 202.8,63.1 205,63.3 207.3,63.4 209.5,63.6 211.8,63.7 214,63.8 216.3,63.8 218.5,63.8 220.8,63.7 223,63.6 225.3,63.5 227.5,63.3 229.8,63.1 232,63 234.3,62.8 236.5,62.6 238.8,62.5 241,62.4 243.3,62.3 245.5,62.3 247.8,62.3 250,62.4 252.3,62.5 254.5,62.8 256.8,63 259,63.4 261.3,63.7 263.5,64.1 265.8,64.6 268,65 270.3,65.5 272.5,66 274.8,66.5 277,66.9 279.3,67.4 281.5,67.9 283.8,68.3 286,68.7 288.3,69.1 290.5,69.4 292.8,69.7 295,70 297.3,70.3 299.5,70.6 301.8,70.9 304,71.1 306.3,71.3 308.5,71.6 310.8,71.8 313,72 315.3,72.3 317.5,72.5 319.8,72.7 322,73 324.3,73.2 326.5,73.4 328.8,73.6 331,73.8 333.3,74 335.5,74.1 337.8,74.3 340,74.4 342.3,74.5 344.5,74.5 346.8,74.5"/>
<polyline class="b " points="79,63.4 81.3,63.4 83.5,63.3 85.8,63.2 88,63.1 90.3,63 92.5,62.8 94.8,62.7 97,62.6 99.3,62.5 101.5,62.3 103.8,62.3 106,62.2 108.3,62.2 110.5,62.3 112.8,62.4 115,62.5 117.3,62.7 119.5,63 121.8,63.2 124,63.5 126.3,63.8 128.5,64.1 130.8,64.4 133,64.7 135.3,64.9 137.5,65.1 139.8,65.2 142,65.3 144.3,65.3 146.5,65.2 148.8,65 151,64.7 153.3,64.3 155.5,63.9 157.8,63.4 160,62.8 162.3,62.3 164.5,61.7 166.8,61.1 169,60.6 171.3,60.1 173.5,59.6 175.8,59.2 178,58.8 180.3,58.5 182.5,58.3 184.8,58.3 187,58.2 189.3,58.3 191.5,58.4 193.8,58.6 196,58.8 198.3,59 200.5,59.3 202.8,59.5 205,59.8 207.3,60 209.5,60.2 211.8,60.4 214,60.6 216.3,60.6 218.5,60.7 220.8,60.6 223,60.5 225.3,60.4 227.5,60.3 229.8,60.1 232,59.9 234.3,59.7 236.5,59.5 238.8,59.3 241,59.1 243.3,59 245.5,58.8 247.8,58.8 250,58.7 252.3,58.8 254.5,58.9 256.8,59 259,59.2 261.3,59.4 263.5,59.6 265.8,59.9 268,60.2 270.3,60.5 272.5,60.8 274.8,61.1 277,61.4 279.3,61.8 281.5,62.1 283.8,62.4 286,62.6 288.3,62.9 290.5,63.1 292.8,63.4 295,63.6 297.3,63.8 299.5,64 301.8,64.1 304,64.3 306.3,64.5 308.5,64.6 310.8,64.8 313,65 315.3,65.2 317.5,65.3 319.8,65.5 322,65.7 324.3,65.8 326.5,66 328.8,66.2 331,66.3 333.3,66.4 335.5,66.6 337.8,66.7 340,66.7 342.3,66.8 344.5,66.9 346.8,66.9"/>
<polyline class="b " points="79,61.1 81.3,61.1 83.5,61 85.8,61 88,60.9 90.3,60.9 92.5,60.8 94.8,60.8 97,60.7 99.3,60.6 101.5,60.5 103.8,60.4 106,60.4 108.3,60.3 110.5,60.3 112.8,60.2 115,60.2 117.3,60.1 119.5,60.1 121.8,60.1 124,60.1 126.3,60.1 128.5,60.1 130.8,60.1 133,60 135.3,60 137.5,60 139.8,59.9 142,59.8 144.3,59.8 146.5,59.6 148.8,59.5 151,59.4 153.3,59.2 155.5,59 157.8,58.8 160,58.6 162.3,58.4 164.5,58.2 166.8,58 169,57.9 171.3,57.7 173.5,57.5 175.8,57.3 178,57.2 180.3,57 182.5,56.9 184.8,56.9 187,56.8 189.3,56.8 191.5,56.7 193.8,56.7 196,56.7 198.3,56.7 200.5,56.7 202.8,56.7 205,56.7 207.3,56.7 209.5,56.7 211.8,56.6 214,56.6 216.3,56.6 218.5,56.5 220.8,56.4 223,56.3 225.3,56.2 227.5,56.2 229.8,56.1 232,56 234.3,55.9 236.5,55.8 238.8,55.7 241,55.7 243.3,55.7 245.5,55.6 247.8,55.7 250,55.7 252.3,55.8 254.5,55.9 256.8,56 259,56.1 261.3,56.3 263.5,56.5 265.8,56.6 268,56.8 270.3,56.9 272.5,57.1 274.8,57.2 277,57.3 279.3,57.4 281.5,57.4 283.8,57.4 286,57.4 288.3,57.4 290.5,57.3 292.8,57.2 295,57.1 297.3,56.9 299.5,56.8 301.8,56.7 304,56.6 306.3,56.5 308.5,56.5 310.8,56.5 313,56.5 315.3,56.6 317.5,56.7 319.8,56.9 322,57.1 324.3,57.4 326.5,57.6 328.8,57.9 331,58.1 333.3,58.4 335.5,58.7 337.8,58.9 340,59.1 342.3,59.2 344.5,59.3 346.8,59.3"/>
<polyline class="b " points="79,56.7 81.3,56.7 83.5,56.7 85.8,56.7 88,56.7 90.3,56.7 92.5,56.7 94.8,56.7 97,56.7 99.3,56.7 101.5,56.7 103.8,56.7 106,56.7 108.3,56.7 110.5,56.7 112.8,56.7 115,56.7 117.3,56.7 119.5,56.7 121.8,56.7 124,56.7 126.3,56.7 128.5,56.7 130.8,56.6 133,56.6 135.3,56.5 137.5,56.4 139.8,56.3 142,56.2 144.3,56.1 146.5,55.9 148.8,55.7 151,55.5 153.3,55.2 155.5,55 157.8,54.7 160,54.5 162.3,54.2 164.5,53.9 166.8,53.6 169,53.4 171.3,53.1 173.5,52.9 175.8,52.7 178,52.6 180.3,52.4 182.5,52.3 184.8,52.2 187,52.2 189.3,52.2 191.5,52.2 193.8,52.2 196,52.3 198.3,52.3 200.5,52.4 202.8,52.5 205,52.6 207.3,52.7 209.5,52.8 211.8,52.8 214,52.9 216.3,53 218.5,53 220.8,53 223,53.1 225.3,53.1 227.5,53.1 229.8,53.1 232,53 234.3,53 236.5,53 238.8,53 241,53 243.3,53 245.5,53 247.8,52.9 250,53 252.3,53 254.5,53 256.8,53 259,53.1 261.3,53.1 263.5,53.2 265.8,53.2 268,53.3 270.3,53.3 272.5,53.4 274.8,53.5 277,53.6 279.3,53.6 281.5,53.7 283.8,53.8 286,53.9 288.3,54 290.5,54.1 292.8,54.2 295,54.3 297.3,54.4 299.5,54.5 301.8,54.7 304,54.8 306.3,55 308.5,55.1 310.8,55.3 313,55.5 315.3,55.7 317.5,56 319.8,56.2 322,56.5 324.3,56.7 326.5,57 328.8,57.3 331,57.5 333.3,57.7 335.5,57.9 337.8,58.1 340,58.3 342.3,58.4 344.5,58.4 346.8,58.5"/>
</g>
<rect x="84" y="398" width="108" height="38" fill="#fff"/>
<text x="87" y="413.8" style="font-size:14.8px;fill:#222">majority</text>
<text x="86.5" y="430.9" style="font-size:14.8px;fill:#222">minority</text>
<path d="M144.5 408.3H186" class="r"/>
<path d="M144.5 425.6H186" class="b" style="stroke-dasharray:8 4"/>
<rect class="ax" x="79" y="50.9" width="267.8" height="449.2"/>
<path class="tk" d="M76.4 500H79M346.8 500H349.4M75 485.5H79M346.8 485.5H350.8M76.4 471H79M346.8 471H349.4M76.4 456.5H79M346.8 456.5H349.4M76.4 442H79M346.8 442H349.4M75 427.5H79M346.8 427.5H350.8M76.4 413H79M346.8 413H349.4M76.4 398.5H79M346.8 398.5H349.4M76.4 384.1H79M346.8 384.1H349.4M75 369.6H79M346.8 369.6H350.8M76.4 355.1H79M346.8 355.1H349.4M76.4 340.6H79M346.8 340.6H349.4M76.4 326.1H79M346.8 326.1H349.4M75 311.6H79M346.8 311.6H350.8M76.4 297.1H79M346.8 297.1H349.4M76.4 282.6H79M346.8 282.6H349.4M76.4 268.1H79M346.8 268.1H349.4M75 253.6H79M346.8 253.6H350.8M76.4 239.2H79M346.8 239.2H349.4M76.4 224.7H79M346.8 224.7H349.4M76.4 210.2H79M346.8 210.2H349.4M75 195.7H79M346.8 195.7H350.8M76.4 181.2H79M346.8 181.2H349.4M76.4 166.7H79M346.8 166.7H349.4M76.4 152.2H79M346.8 152.2H349.4M75 137.7H79M346.8 137.7H350.8M76.4 123.2H79M346.8 123.2H349.4M76.4 108.7H79M346.8 108.7H349.4M76.4 94.2H79M346.8 94.2H349.4M75 79.8H79M346.8 79.8H350.8M76.4 65.3H79M346.8 65.3H349.4M76.4 50.8H79M346.8 50.8H349.4"/>
<path class="zl" d="M365 311.6H477"/>
<rect class="ax" x="365" y="50.9" width="112" height="449.2"/>
<path class="tk" d="M362.4 500H365M477 500H479.6M361 485.5H365M477 485.5H481M362.4 471H365M477 471H479.6M362.4 456.5H365M477 456.5H479.6M362.4 442H365M477 442H479.6M361 427.5H365M477 427.5H481M362.4 413H365M477 413H479.6M362.4 398.5H365M477 398.5H479.6M362.4 384.1H365M477 384.1H479.6M361 369.6H365M477 369.6H481M362.4 355.1H365M477 355.1H479.6M362.4 340.6H365M477 340.6H479.6M362.4 326.1H365M477 326.1H479.6M361 311.6H365M477 311.6H481M362.4 297.1H365M477 297.1H479.6M362.4 282.6H365M477 282.6H479.6M362.4 268.1H365M477 268.1H479.6M361 253.6H365M477 253.6H481M362.4 239.2H365M477 239.2H479.6M362.4 224.7H365M477 224.7H479.6M362.4 210.2H365M477 210.2H479.6M361 195.7H365M477 195.7H481M362.4 181.2H365M477 181.2H479.6M362.4 166.7H365M477 166.7H479.6M362.4 152.2H365M477 152.2H479.6M361 137.7H365M477 137.7H481M362.4 123.2H365M477 123.2H479.6M362.4 108.7H365M477 108.7H479.6M362.4 94.2H365M477 94.2H479.6M361 79.8H365M477 79.8H481M362.4 65.3H365M477 65.3H479.6M362.4 50.8H365M477 50.8H479.6M387.4 50.9V53.4M387.4 500.1V497.6M409.8 50.9V54.9M409.8 500.1V496.1M432.2 50.9V53.4M432.2 500.1V497.6M454.6 50.9V54.9M454.6 500.1V496.1"/>
<path class="zl" d="M495.3 311.6H608"/>
<rect class="ax" x="495.3" y="50.9" width="112.7" height="449.2"/>
<path class="tk" d="M492.7 500H495.3M608 500H610.6M491.3 485.5H495.3M608 485.5H612M492.7 471H495.3M608 471H610.6M492.7 456.5H495.3M608 456.5H610.6M492.7 442H495.3M608 442H610.6M491.3 427.5H495.3M608 427.5H612M492.7 413H495.3M608 413H610.6M492.7 398.5H495.3M608 398.5H610.6M492.7 384.1H495.3M608 384.1H610.6M491.3 369.6H495.3M608 369.6H612M492.7 355.1H495.3M608 355.1H610.6M492.7 340.6H495.3M608 340.6H610.6M492.7 326.1H495.3M608 326.1H610.6M491.3 311.6H495.3M608 311.6H612M492.7 297.1H495.3M608 297.1H610.6M492.7 282.6H495.3M608 282.6H610.6M492.7 268.1H495.3M608 268.1H610.6M491.3 253.6H495.3M608 253.6H612M492.7 239.2H495.3M608 239.2H610.6M492.7 224.7H495.3M608 224.7H610.6M492.7 210.2H495.3M608 210.2H610.6M491.3 195.7H495.3M608 195.7H612M492.7 181.2H495.3M608 181.2H610.6M492.7 166.7H495.3M608 166.7H610.6M492.7 152.2H495.3M608 152.2H610.6M491.3 137.7H495.3M608 137.7H612M492.7 123.2H495.3M608 123.2H610.6M492.7 108.7H495.3M608 108.7H610.6M492.7 94.2H495.3M608 94.2H610.6M491.3 79.8H495.3M608 79.8H612M492.7 65.3H495.3M608 65.3H610.6M492.7 50.8H495.3M608 50.8H610.6M523.5 50.9V53.4M523.5 500.1V497.6M551.6 50.9V54.9M551.6 500.1V496.1M579.8 50.9V53.4M579.8 500.1V497.6"/>
<path class="zl" d="M626.5 311.6H739.3"/>
<rect class="ax" x="626.5" y="50.9" width="112.8" height="449.2"/>
<path class="tk" d="M623.9 500H626.5M739.3 500H741.9M622.5 485.5H626.5M739.3 485.5H743.3M623.9 471H626.5M739.3 471H741.9M623.9 456.5H626.5M739.3 456.5H741.9M623.9 442H626.5M739.3 442H741.9M622.5 427.5H626.5M739.3 427.5H743.3M623.9 413H626.5M739.3 413H741.9M623.9 398.5H626.5M739.3 398.5H741.9M623.9 384.1H626.5M739.3 384.1H741.9M622.5 369.6H626.5M739.3 369.6H743.3M623.9 355.1H626.5M739.3 355.1H741.9M623.9 340.6H626.5M739.3 340.6H741.9M623.9 326.1H626.5M739.3 326.1H741.9M622.5 311.6H626.5M739.3 311.6H743.3M623.9 297.1H626.5M739.3 297.1H741.9M623.9 282.6H626.5M739.3 282.6H741.9M623.9 268.1H626.5M739.3 268.1H741.9M622.5 253.6H626.5M739.3 253.6H743.3M623.9 239.2H626.5M739.3 239.2H741.9M623.9 224.7H626.5M739.3 224.7H741.9M623.9 210.2H626.5M739.3 210.2H741.9M622.5 195.7H626.5M739.3 195.7H743.3M623.9 181.2H626.5M739.3 181.2H741.9M623.9 166.7H626.5M739.3 166.7H741.9M623.9 152.2H626.5M739.3 152.2H741.9M622.5 137.7H626.5M739.3 137.7H743.3M623.9 123.2H626.5M739.3 123.2H741.9M623.9 108.7H626.5M739.3 108.7H741.9M623.9 94.2H626.5M739.3 94.2H741.9M622.5 79.8H626.5M739.3 79.8H743.3M623.9 65.3H626.5M739.3 65.3H741.9M623.9 50.8H626.5M739.3 50.8H741.9M640.6 50.9V53.4M640.6 500.1V497.6M654.7 50.9V54.9M654.7 500.1V496.1M668.8 50.9V53.4M668.8 500.1V497.6M682.9 50.9V54.9M682.9 500.1V496.1M697 50.9V53.4M697 500.1V497.6M711.1 50.9V54.9M711.1 500.1V496.1M725.2 50.9V53.4M725.2 500.1V497.6"/>
<g clip-path="url(#cb)">
<polyline class="d gr" points="366,258 366.1,258.3 366.2,258.9 366.4,259.6 366.6,260.4 366.8,261.3 367,262 367.3,262.7 367.6,263.3 367.9,263.9 368.2,264.6 368.4,265.3 368.5,266 368.4,266.9 368.2,267.9 367.9,268.9 367.6,269.9 367.2,270.9 367,272 366.8,273.3 366.7,274.5 366.6,275.9 366.6,277.2 366.5,278.6 366.5,280 366.5,281.6 366.5,283.3 366.6,284.9 366.7,286.6 366.8,288.3 367,290 367.2,291.7 367.5,293.4 367.8,295.1 368.1,296.8 368.5,298.4 369,300 369.5,301.4 370,302.8 370.6,304.2 371.3,305.5 372.1,306.8 373,308 374.4,309.3 376.3,310.5 378.3,311.6 380.1,312.7 381.4,313.6 381.8,314.5 381.2,315.2 379.8,315.7 377.9,316.2 375.7,316.6 373.7,317 372,317.5 370.9,317.9 369.7,318.2 368.6,318.6 367.6,319 366.7,319.6 366,320.5 365.2,322.8 364.9,325.8 365,329.4 365.2,333.2 365.5,336.8 365.6,340 365.5,342.2 365.2,344.5 364.9,346.6 364.9,348.6 365.2,350.4 366,352 368.9,353.6 373.5,354.6 378.8,355.2 383.9,355.7 387.7,356.4 389.3,357.4 388.2,358.8 385,360.3 380.6,361.9 375.9,363.7 371.8,365.6 369,367.6 368,368.9 367.3,370.3 366.9,371.8 366.5,373.3 366.3,374.9 366,376.6 365.7,379.6 365.5,383.3 365.5,387.3 365.5,390.8 365.6,393.6 365.6,395"/>
<polyline class="d pu" points="365.6,262 365.6,262.3 365.5,262.9 365.5,263.7 365.5,264.6 365.6,265.4 366,266 367.3,266.8 369.3,267.3 371.8,267.6 374.6,267.8 377.4,268 380,268.3 383.2,268.7 387,269 390.8,269.4 394.2,269.7 396.6,270.1 397.5,270.4 396.9,270.7 395.2,270.9 392.8,271.1 390,271.4 387.3,271.7 385,272 383.1,272.3 381.1,272.7 379.1,273 377.3,273.4 375.5,273.9 374,274.5 373,275 372,275.5 371.2,276 370.4,276.6 369.6,277.3 369,278 368.5,278.7 368.1,279.4 367.8,280.2 367.5,281 367.2,282 367,283 366.6,285.1 366.4,287.6 366.2,290.4 366.2,293.4 366.1,296.6 366,300 365.9,305.9 365.9,312.6 365.9,319.9 366,327.1 366,334 366,340 365.7,343.8 365.2,347.5 364.6,351.1 364.3,354.3 364.5,357 365.6,359 368.2,360.1 372.3,360.4 376.9,360 381.3,359.5 384.6,359.2 386,359.5 385.5,360 384.1,360.6 382.2,361.3 380.1,362.1 378.2,363 377,364 376.5,364.9 376.1,365.8 375.8,366.8 375.7,367.8 375.7,368.8 375.8,369.8 376.1,370.9 376.7,372 377.4,373.1 378.2,374.1 379.1,375.1 380,376 381.2,376.8 382.7,377.6 384.3,378.2 385.7,378.8 386.7,379.4 387,380 386.1,380.8 383.9,381.5 380.9,382.1 377.6,382.8 374.5,383.4 372,384 370.7,384.4 369.5,384.6 368.3,384.9 367.2,385.2 366.3,385.7 365.6,386.5 365,388.3 364.8,391 364.9,393.9 365.2,396.7 365.5,398.9 365.6,400"/>
<polyline class="d bl" points="365.3,255 365.2,255.5 365,256.4 364.9,257.7 364.8,259 365,260.2 365.5,261.2 367.7,262.5 371.3,263.3 375.7,263.7 380.6,264 385.5,264.2 390,264.5 394.2,264.9 398.6,265.2 403,265.5 407.2,265.7 411.3,266 415,266.3 417.7,266.5 420.7,266.7 423.5,266.9 425.9,267.2 427.6,267.5 428.2,267.8 427.6,268.1 426.1,268.5 424.1,269 422.1,269.4 420.6,269.8 420,270.2 420.5,270.6 421.7,271 423.4,271.3 425.5,271.7 427.8,272 430,272.3 434.1,272.8 438.8,273.2 444,273.5 449.4,273.9 454.8,274.2 460,274.5 465.7,274.8 472.2,275.1 478.7,275.4 484.4,275.7 488.5,276 490,276.3 488.5,276.7 484.6,277.1 479,277.5 472.5,278 465.9,278.4 460,278.8 453.6,279.2 447,279.6 440.2,280 433.3,280.3 426.6,280.7 420,281 413.9,281.3 407.8,281.6 401.7,281.9 395.8,282.2 390.2,282.5 385,282.8 381.1,282.8 377.2,282.7 373.4,282.5 370,282.5 367.3,282.9 365.5,283.8 365,284.7 364.8,285.9 364.9,287.3 365.1,288.5 365.2,289.5 365.3,290"/>
<polyline class="d rd" points="365.5,262 365.5,262.3 365.5,262.9 365.5,263.7 365.7,264.5 366,265.3 366.5,266 369.4,267.2 374.2,267.9 380.2,268.3 386.9,268.5 393.7,268.7 400,269 406.6,269.5 413.5,270.1 420.5,270.6 427.4,271.1 434,271.6 440,272 444.5,272.3 449.4,272.5 454.1,272.7 458.1,272.9 460.9,273.2 462,273.6 461.1,274 458.7,274.5 455.5,275 452.4,275.5 450,276 449,276.5 449.5,276.9 450.7,277.3 452.4,277.7 454.4,278.1 456.3,278.5 458,278.8 459.5,279.1 461.3,279.4 463,279.6 464.5,279.8 465.6,280.1 466,280.3 464.7,280.7 461.4,281 456.6,281.3 451,281.6 445.3,281.9 440,282.2 433.8,282.6 427.2,283 420.3,283.3 413.4,283.7 406.6,284.1 400,284.5 393.7,284.7 386.9,284.6 380.2,284.6 374.2,284.8 369.4,285.4 366.4,286.7 365.8,287.5 365.5,288.6 365.4,289.7 365.4,290.8 365.5,291.6 365.5,292"/>
<polyline class="d k" points="365.5,285 365.5,285.3 365.5,285.9 365.5,286.7 365.5,287.5 365.7,288.3 366,289 366.7,289.6 367.6,290.1 368.7,290.6 369.9,291 371,291.4 372,292 373,292.6 374,293.3 375,294.1 375.9,294.8 376.5,295.5 376.7,296.2 376.4,296.8 375.7,297.3 374.7,297.8 373.6,298.3 372.7,298.8 372,299.5 371.6,300.3 371.4,301.1 371.2,301.9 371.1,302.9 371.1,303.9 371,305 370.9,307.1 370.8,309.4 370.8,312 370.9,314.7 370.9,317.4 371,320 371.1,322.6 371.2,325.2 371.4,327.8 371.5,330.4 371.8,332.8 372,335 372.2,336.5 372.3,337.9 372.4,339.2 372.7,340.4 373,341.6 373.5,342.8 374.3,344.1 375.2,345.3 376.3,346.5 377.4,347.6 378.7,348.6 380,349.5 381.5,350.3 383.1,350.8 384.8,351.3 386.5,351.7 388.3,352.1 390,352.5 392,352.9 394.3,353.3 396.5,353.6 398.5,353.9 400,354.2 400.5,354.5 399.7,354.9 397.7,355.2 394.8,355.5 391.4,355.8 388,356.1 385,356.5 381.8,356.8 378.1,357.1 374.5,357.4 371.1,357.8 368.3,358.5 366.5,359.5 366,360.2 365.7,360.9 365.6,361.7 365.6,362.6 365.7,363.7 365.6,365 365.2,374.1 364.9,388.5 364.8,405.6 364.8,422.9 365.1,437.9 365.6,448 365.9,450 366.2,451.7 366.6,453.2 367,454.4 367.2,455.7 367.3,457 367.2,458.4 366.9,459.8 366.5,461.3 366.1,462.5 365.8,463.5 365.6,464"/>
</g>
<g clip-path="url(#cc)">
<polyline class="d gr" points="518,52 518.5,52.4 519.4,53.3 520.5,54.4 521.8,55.6 523,56.9 524,58 524.8,58.9 525.6,59.8 526.3,60.8 527,61.7 527.3,62.5 527.3,63.3 526.6,64.1 525.3,64.8 523.6,65.3 521.6,65.9 519.7,66.4 518,67 516.3,67.6 514.3,68.3 512.4,68.9 510.7,69.6 509.5,70.3 509,71 509.2,71.7 510,72.4 511.1,73.1 512.5,73.9 513.9,74.6 515.3,75.2 517.3,75.9 519.8,76.4 522.4,76.9 524.8,77.4 526.8,78 528,78.8 528.2,79.3 528.1,79.8 528,80.4 527.8,80.9 527.8,81.5 528,82 530.1,83.3 534,84.4 538.6,85.6 543.1,86.6 546.4,87.7 547.7,88.6 545.7,89.6 540.7,90.4 534.3,91.2 527.9,91.9 523,92.7 521,93.5 521.5,94.1 522.8,94.7 524.8,95.3 527.1,95.9 529.6,96.5 532,97 536.2,97.7 541.6,98.3 547.2,98.8 552.4,99.3 556.1,99.9 557.5,100.6 554.8,101.5 548,102.4 539,103.5 529.7,104.7 522.1,106.3 518,108.3 517.5,109.3 517.4,110.5 517.5,111.7 517.9,112.9 518.3,114 518.8,115 519.4,115.9 520.1,116.7 520.9,117.5 521.8,118.2 522.8,118.9 523.8,119.5 525,120.1 526.3,120.7 527.6,121.2 529,121.6 530.5,122 532,122.5 534.3,123.1 537,123.6 539.8,124.1 542.3,124.7 544.1,125.3 544.9,126 544.6,126.7 543.7,127.4 542.3,128.1 540.7,128.9 539,129.6 537.3,130.3 534.8,131.2 531.9,131.9 528.8,132.7 525.6,133.4 522.7,134.2 520,135 518.1,135.6 516.2,136.2 514.4,136.9 512.7,137.6 511.3,138.5 510.3,139.6 509.6,141.1 509.2,142.8 509,144.7 509.1,146.7 509.4,148.5 510,150 511.1,151.2 512.9,152.3 514.9,153.2 516.8,154 518.2,154.8 518.7,155.6 518.2,156.3 516.8,157 515,157.7 513.1,158.3 511.4,159.1 510.3,160 509.8,160.9 509.3,161.8 509.1,162.8 508.9,163.8 509,164.8 509.4,165.7 511.6,167.2 515.5,168.5 520.2,169.7 524.7,170.8 528.1,171.8 529.4,172.8 527.2,173.9 521.7,174.7 514.4,175.3 506.9,176.1 500.6,177.1 497,178.4 496.5,179 496.2,179.8 496.1,180.5 496,181.2 496,181.7 496,182"/>
<polyline class="d gr" points="496,262 496,262.2 496.1,262.7 496.1,263.2 496.3,263.9 496.6,264.5 497,265 500.8,266.3 507.4,267.3 515.5,268.1 523.2,268.8 529,269.5 531.3,270.3 529.4,271 524.6,271.5 518.2,272 511.3,272.6 505.3,273.6 501.3,275.1 500.2,276.1 499.3,277.2 498.7,278.3 498.2,279.5 497.8,280.8 497.5,282 497.2,283.1 496.9,284.3 496.7,285.5 496.7,286.7 496.8,287.8 497,289 497.7,290.4 498.8,291.7 500.1,293.1 501.4,294.4 502.4,295.7 503,297 503,298 502.8,298.9 502.4,299.9 501.9,300.8 501.5,301.9 501.3,303 501.3,304.8 501.5,306.7 501.8,308.8 502.2,310.9 502.6,313 503,315 503.3,316.7 503.6,318.4 503.9,320.1 504.2,321.7 504.6,323.4 505,325 505.4,326.7 505.7,328.4 506.1,330.1 506.6,331.8 507.2,333.4 508,335 509.2,336.8 510.7,338.6 512.4,340.4 514.2,342.1 516.1,343.6 518,345 520,346.2 522,347.1 524.1,348 526.3,348.7 528.7,349.4 531.3,350 535.4,350.8 540,351.3 544.9,351.7 550,352 555,352.3 560,352.6 565,352.9 570,353.2 575.1,353.4 580.2,353.6 585.1,353.8 590,354 594.7,354 599.8,353.8 604.8,353.6 609.3,353.6 612.9,354 615,355 615.5,355.7 615.8,356.6 615.9,357.5 615.8,358.4 615.5,359.3 615,360 612.9,360.9 609.3,361.3 604.8,361.2 599.8,360.9 594.7,360.6 590,360.6 585.1,360.8 580.2,360.9 575.1,361.1 570,361.3 565,361.5 560,361.8 555,362 549.9,362.2 544.9,362.3 540,362.6 535.4,363.1 531.3,364 528.5,364.8 525.7,365.8 523,366.9 520.7,368.1 519,369.4 518,370.7 517.8,371.5 517.9,372.4 518.3,373.4 518.8,374.3 519.4,375.2 520,376 521.2,377 523,377.9 525,378.7 526.8,379.5 528.1,380.3 528.5,381 526.2,382.1 520.6,382.8 513.3,383.4 505.8,384.1 499.5,385.1 496,386.6 495.5,387.5 495.4,388.6 495.4,389.7 495.6,390.8 495.7,391.6 495.8,392"/>
<polyline class="d gr" points="495.8,452 495.8,452.4 495.9,453.1 496,454.1 496.2,455.2 496.5,456.3 497,457.2 498.2,458.2 499.9,459 501.8,459.8 503.7,460.6 505.2,461.5 506,462.6 505.8,464 504.9,465.7 503.6,467.4 502.2,469.2 501.1,470.9 500.7,472.4 501,473.3 501.6,474.2 502.4,474.9 503.3,475.7 503.9,476.6 504.3,477.7 503.9,480.2 502.6,483.3 500.9,486.7 499.2,490.1 498,493.2 498,495.6 498.9,497 500.4,498.2 502.2,499.2 503.9,500.1 505.3,500.7 506,501"/>
<polyline class="d pu" points="518,51 518.8,51.1 520.3,51.2 522.2,51.4 524.1,51.7 525.9,52.1 527,52.6 527.4,52.9 527.7,53.4 527.9,53.8 528,54.2 528.1,54.6 528,55 527.5,55.4 526.5,55.8 525.3,56.1 524.2,56.4 523.3,56.7 523,57 523.3,57.3 524.1,57.6 525.3,57.8 526.8,58.1 528.4,58.3 530,58.5 534.3,58.8 540.1,58.8 546.4,58.8 552.5,59 557.4,59.5 560.3,60.5 560.8,61 561.1,61.6 561.3,62.3 561.3,62.9 561.2,63.5 561,64 560,64.7 558.4,65.1 556.3,65.4 553.9,65.7 551.4,66 549,66.5 545.2,67.6 541,68.9 536.5,70.3 532,71.8 527.7,73.3 523.8,74.5 520.9,75.3 517.9,75.9 515,76.5 512.5,77.2 510.6,77.9 509.7,78.8 509.6,79.4 509.9,80.2 510.3,80.9 511,81.7 511.7,82.4 512.5,83 514.6,83.8 517.5,84.4 520.8,84.8 523.9,85.3 526.3,85.8 527.3,86.5 526.9,87.2 525.7,87.9 524,88.7 522.3,89.5 520.9,90.4 520.2,91.4 520.2,92.4 520.7,93.6 521.5,94.8 522.4,96 523.2,97.2 523.8,98.4 524.2,99.4 524.6,100.4 525,101.3 525.2,102.3 525.3,103.2 525,104 523.6,105.1 521.2,106.1 518.2,106.9 515.2,107.7 512.6,108.6 511,109.7 510.5,110.5 510.3,111.4 510.2,112.3 510.2,113.2 510.3,114.2 510.4,115 510.5,115.7 510.7,116.4 510.9,117.1 511.2,117.8 511.5,118.4 512,119 512.9,119.8 514,120.5 515.4,121.2 516.8,121.8 518.4,122.4 520,123 522.8,123.7 526.2,124.3 529.8,124.8 533.1,125.4 535.7,126.1 537,127 537.1,127.5 537.1,128.1 536.9,128.6 536.6,129.2 536.1,129.8 535.6,130.3 533.4,131.4 530.1,132.4 526.1,133.3 521.9,134.1 518.1,135 515,136 513.5,136.6 512.1,137.2 510.8,137.7 509.7,138.4 508.7,139.1 508,140 507.5,141.1 507.2,142.5 507.1,143.9 507.2,145.4 507.5,146.8 508,148 509,149.2 510.5,150.3 512.2,151.3 514,152.2 515.7,153.1 517,154 517.7,154.5 518.4,155.1 519.1,155.6 519.6,156.1 520,156.5 520,157 518.6,157.9 515.4,158.7 511.1,159.5 506.7,160.3 502.7,161.1 500,162 499.3,162.4 498.7,162.8 498.2,163.2 497.8,163.6 497.4,164.2 497,165 496.2,169.2 495.9,175.9 495.9,183.6 496.2,191.1 496.4,197 496.5,200"/>
<polyline class="d pu" points="496.5,262 496.4,262.3 496.3,262.9 496.2,263.8 496.1,264.7 496.2,265.5 496.5,266.2 498.5,267.2 501.9,268 506.1,268.6 510.1,269.1 513.1,269.6 514.3,270.3 513.7,270.9 512.2,271.4 510.1,271.9 507.9,272.5 505.9,273.3 504.6,274.3 504,275.4 503.7,276.7 503.6,278.1 503.7,279.5 503.8,281 503.8,282.4 503.8,283.8 503.7,285.3 503.7,286.8 503.9,288.2 504.1,289.5 504.6,290.5 505.2,291.1 505.8,291.6 506.6,292 507.5,292.3 508.4,292.7 509.5,293 512.3,293.6 516,294 520.1,294.3 523.9,294.7 526.7,295.3 528,296.2 527.5,297.2 525.8,298.3 523.5,299.5 521.2,300.8 519.3,302.2 518.4,303.5 518.4,304.6 518.8,305.7 519.4,306.9 520.3,308 521.3,309.1 522.4,310 524.7,311.1 527.9,312.1 531.4,312.9 534.6,313.6 536.9,314.2 537.8,314.8 535.7,315.5 530.6,315.9 523.8,316.2 516.5,316.5 510.2,317.1 506.2,318 505.4,318.5 504.7,318.9 504.2,319.4 503.7,320 503.4,320.6 503,321.3 502.6,322.4 502.3,323.7 502.2,325.2 502.1,326.7 502,328.3 502,330 502,332.7 502,335.9 502.1,339.2 502.3,342.5 502.6,345.5 503,348 503.2,349.2 503.4,350.3 503.5,351.3 503.8,352.2 504.3,353 505,353.8 507.6,354.9 511.8,355.5 516.5,355.9 520.9,356.2 524.3,356.5 525.6,357.1 524.1,357.9 520.3,358.6 515.2,359.4 509.6,360.3 504.7,361.6 501.3,363.2 500.1,364.4 499.1,365.8 498.4,367.3 497.9,368.8 497.5,370.4 497,372 496.6,373.5 496.3,374.9 496.1,376.3 495.9,377.9 495.8,379.8 495.6,382 495.2,391.3 495,404.4 495,419.6 495.1,435.1 495.4,449.1 496,460 496.5,464.1 497.1,467.7 497.8,470.8 498.4,473.8 498.8,476.8 499,480 498.8,483.7 498.3,487.9 497.6,492 496.9,495.8 496.3,498.6 496,500"/>
<polyline class="d k" points="518.8,52 519.1,52.4 519.7,53.2 520.6,54.2 521.6,55.2 522.8,56.2 524,57 526.7,57.7 530.2,57.9 534,57.9 537.7,58 540.8,58.3 542.7,59 543.1,59.5 543.2,60.1 543.1,60.8 543.1,61.4 543.2,62.1 543.5,62.6 544.9,63.3 547.1,63.8 549.7,64.2 552.2,64.6 554,64.9 554.7,65.4 553.4,66.2 550,67.1 545.4,68 540.4,68.9 535.7,69.9 532.2,71 530.7,71.7 529.3,72.4 528,73.1 526.9,73.8 525.9,74.5 525,75.2 524.6,75.6 524.2,75.9 523.9,76.2 523.6,76.5 523.3,76.9 523,77.3 522.3,78 521.5,78.8 520.6,79.7 519.9,80.6 519.5,81.5 519.5,82.3 523,84 530.4,85.5 539.8,86.7 549.1,87.7 556.2,88.7 559,89.7 557.1,90.4 552.2,90.8 545.8,91.3 539.4,91.8 534.3,92.5 532,93.5 532.2,94.1 532.8,94.8 533.8,95.6 534.8,96.3 535.5,97 535.7,97.7 534.6,98.6 532.3,99.4 529.2,100.2 526,100.9 523.1,101.7 521,102.7 520.3,103.3 519.8,104 519.3,104.7 519,105.5 518.5,106.2 518,107 517,108.1 515.9,109.3 514.7,110.6 513.5,111.8 512.5,112.9 511.8,113.9 511.6,114.3 511.4,114.6 511.2,115 511.1,115.3 511,115.6 511,116 511,116.5 511.1,117 511.2,117.5 511.4,118 511.6,118.5 512,119 513.3,120 515.3,120.9 517.7,121.8 520.1,122.8 522.2,123.9 523.8,125.2 524.7,126.5 525.6,127.9 526.2,129.4 526.6,131 526.7,132.4 526.3,133.6 524.2,135 520.4,136 515.8,136.7 511.2,137.4 507.3,138.3 505.2,139.6 504.8,140.5 504.7,141.4 504.8,142.4 505.1,143.4 505.5,144.4 506,145.5 507.4,147.4 509.8,149.4 512.4,151.5 514.9,153.6 516.6,155.4 517,157 515.4,158.3 511.9,159.3 507.5,159.9 502.9,160.6 499.1,161.3 496.8,162.4 496.4,162.9 496.2,163.4 496.1,163.9 496.1,164.5 496.1,165.2 496,166 495.8,170.3 495.7,176.8 495.8,184.3 495.9,191.5 496,197.2 496,200"/>
<polyline class="d k" points="496,258 495.9,258.6 495.8,259.8 495.7,261.3 495.6,262.9 495.8,264.4 496.3,265.4 497.2,266 498.4,266.4 499.8,266.6 501.4,266.6 503.2,266.7 505,266.8 508.4,267.1 512.3,267.4 516.5,267.7 521,267.9 525.6,268.2 530,268.4 534.8,268.6 539.8,268.8 544.9,269 549.9,269.2 555,269.4 560,269.6 565.5,269.8 571.8,269.9 578.1,270.1 583.6,270.3 587.4,270.4 588.9,270.6 587.4,270.8 583.5,271 577.9,271.2 571.6,271.5 565.4,271.7 560,271.9 555.6,272.1 551.2,272.2 546.9,272.4 542.6,272.6 538.7,272.8 535,273 532.6,273.1 530.4,273.2 528.3,273.2 526.3,273.4 524.4,273.7 522.4,274.3 520.3,275.2 518,276.3 515.9,277.7 513.9,279.2 512.2,280.7 511,282.4 510.4,283.8 510,285.4 509.9,287 509.9,288.7 510,290.4 510,292.1 509.9,294.2 509.8,296.5 509.8,298.9 509.9,301.1 510.3,303.2 511,305 511.9,306.3 513.2,307.4 514.6,308.3 516.1,309.2 517.6,310 519,310.8 520.4,311.6 522.1,312.3 523.8,312.9 525.2,313.6 526.2,314.2 526.5,314.8 524.7,315.7 520.3,316.4 514.4,317.1 508.3,317.8 503,318.6 499.7,319.7 499.1,320.2 498.6,320.6 498.2,321.1 498,321.6 497.7,322.2 497.5,323 496.8,326.5 496.2,331.6 495.8,337.6 495.8,343.5 496.3,348.5 497.5,351.9 498.4,352.9 499.5,353.5 500.8,353.8 502.1,354.1 503.5,354.3 505,354.7 507.5,355.3 510.7,355.9 514,356.5 517,357.1 519.1,357.8 520,358.5 519.2,359.3 517.2,360 514.4,360.8 511.4,361.7 508.7,362.8 506.9,364 506.2,365 505.7,366.1 505.3,367.2 505.1,368.4 505,369.6 505,370.7 505,371.8 505.2,373 505.4,374.1 505.7,375.3 506.2,376.3 506.9,377.2 508.2,378.1 510.2,378.8 512.3,379.4 514.3,379.9 515.8,380.4 516.3,381 515,381.6 511.7,381.9 507.3,382.2 502.6,382.7 498.4,383.8 495.6,385.7 493.9,389.6 493.5,394.7 493.8,400.7 494.7,407.2 495.5,413.8 496,420 496.3,426.6 496.7,433.6 497.1,440.7 497.6,447.6 497.9,454.1 498,460 497.9,463.7 497.8,467.2 497.6,470.4 497.4,473.6 497.2,476.7 497,480 496.8,483.7 496.6,487.9 496.4,492 496.2,495.8 496.1,498.6 496,500"/>
<polyline class="d bl" points="495.8,264 495.9,264.4 496,265.3 496.2,266.4 496.3,267.6 496.5,268.9 496.6,270 496.7,271 496.8,272 496.8,273 496.8,274 496.8,275 496.8,276 496.7,277.1 496.5,278.4 496.3,279.6 496.1,280.7 495.9,281.6 495.8,282"/>
</g>
<g clip-path="url(#cd)">
<polyline class="d gr" points="627,51 627.1,51.1 627.3,51.4 627.6,51.8 627.9,52.2 628.2,52.6 628.5,53 628.9,53.5 629.2,54 629.6,54.5 630,55 630.5,55.5 631,56 632.1,56.6 633.5,57.2 635.1,57.7 636.5,58.2 637.6,58.7 638,59.3 637.6,59.9 636.6,60.5 635.2,61.1 633.6,61.7 632.1,62.4 631,63 630.4,63.5 629.8,64 629.2,64.4 628.7,64.9 628.3,65.5 628,66 627.8,66.4 627.7,66.9 627.6,67.3 627.6,67.8 627.5,68.3 627.5,69 627.3,71.5 627.2,75 627.1,79 627,83.1 627.2,86.9 627.5,90 627.9,91.5 628.4,92.8 629,94 629.5,95.1 629.9,96.2 630,97.3 629.8,98.3 629.3,99.2 628.7,100.1 628.1,101.1 627.7,102 627.5,103 627.7,104.3 628.3,105.6 629.1,107 629.9,108.4 630.5,109.7 630.7,111 630.5,112 630,112.9 629.3,113.8 628.6,114.7 628,115.7 627.5,117 626.8,120.2 626.3,124.4 626,129.1 625.9,133.7 626.2,137.8 627,141 627.7,142.4 628.5,143.6 629.4,144.6 630.5,145.5 631.7,146.3 633,147 635.7,147.9 639.4,148.5 643.4,148.9 647,149.2 649.7,149.5 650.7,150 649.7,150.6 647,151.1 643.4,151.7 639.4,152.4 635.7,153.1 633,154 631.8,154.5 630.7,155.1 629.7,155.7 628.8,156.3 628.1,157.1 627.5,158 627.1,159.5 627.2,161.3 627.4,163.2 627.9,165.4 628.3,167.7 628.5,170 628.7,173.8 628.8,178 628.9,182.6 629,187.1 628.9,191.3 628.8,195 628.6,197.1 628.4,199 628.1,200.8 627.9,202.6 627.7,204.3 627.5,206 627.4,207.6 627.2,209.1 627.1,210.7 627,212.2 627.2,213.6 627.5,215 628.2,216.3 629.4,217.5 630.7,218.6 631.9,219.7 632.7,220.7 633,221.7 632.6,222.4 631.8,222.9 630.7,223.4 629.5,224 628.4,224.8 627.5,226 625.8,233.5 625.1,245.6 625,260.1 625.6,274.6 626.4,287 627.5,295 627.9,296.3 628.4,297.3 629,298.2 629.5,298.9 629.9,299.7 630,300.5 629.8,301.5 629.4,302.7 628.8,303.8 628.2,304.8 627.7,305.6 627.5,306"/>
<polyline class="d gr" points="627,378 626.9,378.3 626.8,379 626.6,379.9 626.5,380.9 626.6,381.9 627,382.7 629.2,384.5 633,386.2 637.7,387.8 643,389.3 648.3,390.7 653,392 657.5,393 662.7,393.9 667.8,394.6 672.3,395.3 675.4,396 676.6,396.7 673.2,397.6 664.7,398.3 653.4,398.9 641.8,399.8 632.2,401.2 627,403.3 626.4,404.4 626.3,405.8 626.4,407.2 626.6,408.5 626.9,409.5 627,410"/>
<polyline class="d k" points="627,185 627,185.5 627.1,186.4 627.2,187.6 627.3,188.9 627.6,190.1 628,191 628.5,191.6 629,192.1 629.6,192.5 630.3,192.8 631.1,193.2 632,193.6 634.1,194.4 637,195.2 640.2,196 643,196.8 645.1,197.6 645.9,198.3 645.1,198.9 643,199.5 640.2,200 637.1,200.6 634.2,201.1 632,201.6 631.1,201.9 630.2,202.1 629.4,202.3 628.7,202.6 628.1,202.9 627.6,203.5 627,204.8 626.5,206.5 626.2,208.5 626.3,210.6 626.7,212.5 627.5,214 630.6,215.8 635.6,216.8 641.7,217.3 648.2,217.6 654.6,217.8 660,218.3 664,218.8 668.2,219.3 672.4,219.8 675.9,220.3 678.4,220.7 679.3,221.2 677.6,221.8 673.3,222.3 667.3,222.9 660.8,223.4 654.7,223.9 650,224.5 648,224.8 646.1,225 644.4,225.2 642.8,225.5 641.3,225.9 640,226.5 639,227.1 638.1,227.8 637.3,228.5 636.6,229.4 636,230.4 635.5,231.5 635,233.8 634.8,236.5 634.9,239.6 635.1,242.9 635.3,246.4 635.4,250 635.3,255.5 635.2,261.8 635.1,268.4 635,274.9 635.1,280.5 635.4,285 635.6,286.6 635.7,288 635.8,289.2 636.1,290.3 636.4,291.3 637,292.4 637.9,293.6 639.1,294.7 640.5,295.7 642,296.7 643.5,297.6 645,298.5 646.6,299.3 648.5,300.1 650.4,300.8 652.1,301.5 653.3,302.1 653.7,302.7 652.9,303.3 651,303.7 648.4,304 645.5,304.4 642.5,304.7 640,305 637.8,305.2 635.5,305.4 633.2,305.5 631,305.7 629.3,306.2 628,307 627.4,308.2 627.2,309.7 627.2,311.5 627.3,313.1 627.4,314.4 627.5,315"/>
<polyline class="d k" points="627,378 627,378.5 626.9,379.5 626.9,380.8 626.9,382.3 627.1,383.7 627.5,385 628.5,386.4 629.9,387.7 631.6,389.1 633.2,390.4 634.4,391.7 634.8,393 634.3,394.2 633.1,395.5 631.6,396.7 629.9,397.8 628.4,399 627.5,400.2 627.2,401.1 627,402.1 627,403.1 627,404 627,404.7 627,405"/>
<polyline class="d pu" points="628,60 628.2,60.4 628.6,61.3 629,62.4 629.5,63.6 629.9,64.9 630,66 629.9,66.9 629.6,67.8 629.2,68.6 628.7,69.5 628.3,70.6 628,72 627.4,79 627.1,89.4 627.1,101.5 627.2,114.1 627.6,125.8 628,135 628.3,138.9 628.7,142.3 629.2,145.4 629.7,148.4 630.1,151.5 630.4,155 630.5,160.1 630.4,165.8 630.2,171.7 630.1,177.3 630.2,182.2 630.6,186 630.9,187.2 631.1,188.3 631.4,189.2 631.8,190 632.3,190.8 633,191.5 634.4,192.5 636.1,193.2 638.2,193.9 640.4,194.5 642.7,195 645,195.5 648.4,196.1 652.6,196.6 656.9,197.1 660.8,197.5 663.5,197.9 664.6,198.3 663.6,198.7 660.8,199.1 657,199.4 652.7,199.8 648.5,200.2 645,200.6 642.6,200.9 640.1,201.2 637.8,201.6 635.6,201.9 633.6,202.4 632,203 631.2,203.4 630.5,203.8 629.9,204.3 629.4,204.8 628.9,205.4 628.5,206 628.2,206.9 628,207.8 627.9,208.9 627.9,210 627.9,211 627.8,212 627.7,212.7 627.5,213.4 627.3,214.1 627.2,214.7 627.3,215.4 627.5,216 628.7,217 630.7,217.9 633.2,218.7 635.5,219.6 637.2,220.4 637.9,221.2 637.2,222 635.6,222.6 633.3,223.3 630.9,224 628.8,224.9 627.5,226 627,227.4 626.9,229.2 627,231.1 627.2,232.9 627.4,234.3 627.5,235"/>
<polyline class="d pu" points="627,375 626.9,375.4 626.8,376.3 626.6,377.4 626.6,378.6 626.7,379.7 627.2,380.6 629.2,381.8 632.5,382.6 636.6,383 641.2,383.3 645.8,383.6 650,384 654.8,384.4 660.3,384.7 665.8,385 670.7,385.3 674.2,385.7 675.6,386.4 674.5,387.2 671.5,388.2 667.2,389.3 662.3,390.5 657.3,391.7 653,393 648.6,394.3 643.7,395.7 638.7,397.1 634.2,398.6 630.6,400.4 628.2,402.3 627.6,403.6 627.3,405.2 627.2,406.8 627.3,408.3 627.4,409.4 627.5,410"/>
<polyline class="d bl" points="627.5,262 627.4,262.6 627.3,263.8 627.2,265.3 627.3,267 627.6,268.5 628.4,269.7 632.8,271.5 640.1,272.2 649.4,272.2 659.7,271.9 670.2,271.5 680,271.5 691.6,271.5 704.8,271.2 718.3,270.8 730.4,270.8 739.9,271.6 745,273.5 745.6,274.4 746,275.4 746.1,276.5 746,277.6 745.6,278.6 745,279.5 739.9,281.4 730.5,282.2 718.3,282.2 704.8,281.8 691.6,281.5 680,281.5 670.1,281.6 659.5,281.3 648.9,281.1 639.6,281.2 632.3,282 628,283.7 627.4,284.7 627.1,286 627.1,287.3 627.3,288.6 627.4,289.5 627.5,290"/>
<polyline class="d bl" points="627,440 627,440.8 626.9,442.3 626.9,444.3 626.9,446.6 627.1,448.8 627.5,450.7 628.3,452.4 629.5,454 630.9,455.7 632.2,457.2 633.1,458.7 633.3,460 632.8,461 631.9,461.9 630.6,462.7 629.4,463.5 628.2,464.3 627.5,465.2 627.2,466.1 627,467 627,468.1 627,469 627,469.6 627,470"/>
<polyline class="d rd" points="627.5,264 627.4,264.5 627.2,265.6 627.1,267 627.1,268.5 627.3,269.9 628,271 631.6,272.6 637.7,273.4 645.4,273.5 653.9,273.4 662.3,273.3 670,273.5 678,273.9 687.1,274.4 696.2,274.8 704.2,275.3 709.9,275.7 712,276.2 709.9,276.6 704.2,277.1 696.2,277.5 687.1,278 678,278.5 670,279 662.3,279.4 653.9,279.5 645.4,279.7 637.7,280.2 631.7,281.1 628,282.9 627.3,284 627.1,285.5 627.1,287 627.2,288.4 627.4,289.5 627.5,290"/>
<polyline class="d rd" points="627,454 627.1,454.4 627.4,455.1 627.8,456 628.1,457 628.4,458.1 628.5,459 628.4,459.9 628.1,461 627.8,462 627.4,462.9 627.1,463.6 627,464"/>
</g>
<path class="d k" style="stroke-width:2" d="M442.4 113.1H469.8"/><text x="436.3" y="115.8" text-anchor="end" style="font-size:12.2px;fill:#222">dxy</text><path class="d rd" style="stroke-width:2" d="M442.4 127H469.8"/><text x="436.3" y="129.7" text-anchor="end" style="font-size:12.2px;fill:#222">dyz</text><path class="d bl" style="stroke-width:2" d="M442.4 140.6H469.8"/><text x="436.3" y="143.3" text-anchor="end" style="font-size:12.2px;fill:#222">dxz</text><path class="d gr" style="stroke-width:2" d="M442.4 154.5H469.8"/><text x="433.7" y="157.2" text-anchor="end" style="font-size:12.2px;fill:#222">dz<tspan dy="-4.5" style="font-size:7.6px">2</tspan></text><path class="d pu" style="stroke-width:2" d="M442.4 168.4H469.8"/><text x="435.7" y="171.1" text-anchor="end" style="font-size:12.2px;fill:#222">dx<tspan dy="-4.5" style="font-size:7.6px">2</tspan><tspan dy="4.5">-y</tspan><tspan dy="-4.5" style="font-size:7.6px">2</tspan></text>
<path class="d k" style="stroke-width:2" d="M573.3 113.1H600.8"/><text x="567.2" y="115.8" text-anchor="end" style="font-size:12.2px;fill:#222">dxy</text><path class="d rd" style="stroke-width:2" d="M573.3 127H600.8"/><text x="567.2" y="129.7" text-anchor="end" style="font-size:12.2px;fill:#222">dyz</text><path class="d bl" style="stroke-width:2" d="M573.3 140.6H600.8"/><text x="567.2" y="143.3" text-anchor="end" style="font-size:12.2px;fill:#222">dxz</text><path class="d gr" style="stroke-width:2" d="M573.3 154.5H600.8"/><text x="564.6" y="157.2" text-anchor="end" style="font-size:12.2px;fill:#222">dz<tspan dy="-4.5" style="font-size:7.6px">2</tspan></text><path class="d pu" style="stroke-width:2" d="M573.3 168.4H600.8"/><text x="566.6" y="171.1" text-anchor="end" style="font-size:12.2px;fill:#222">dx<tspan dy="-4.5" style="font-size:7.6px">2</tspan><tspan dy="4.5">-y</tspan><tspan dy="-4.5" style="font-size:7.6px">2</tspan></text>
<path class="d k" style="stroke-width:2" d="M704.4 113.1H731.5"/><text x="698.4" y="115.8" text-anchor="end" style="font-size:12.2px;fill:#222">dxy</text><path class="d rd" style="stroke-width:2" d="M704.4 127H731.5"/><text x="698.4" y="129.7" text-anchor="end" style="font-size:12.2px;fill:#222">dyz</text><path class="d bl" style="stroke-width:2" d="M704.4 140.6H731.5"/><text x="698.4" y="143.3" text-anchor="end" style="font-size:12.2px;fill:#222">dxz</text><path class="d gr" style="stroke-width:2" d="M704.4 154.5H731.5"/><text x="695.8" y="157.2" text-anchor="end" style="font-size:12.2px;fill:#222">dz<tspan dy="-4.5" style="font-size:7.6px">2</tspan></text><path class="d pu" style="stroke-width:2" d="M704.4 168.4H731.5"/><text x="697.8" y="171.1" text-anchor="end" style="font-size:12.2px;fill:#222">dx<tspan dy="-4.5" style="font-size:7.6px">2</tspan><tspan dy="4.5">-y</tspan><tspan dy="-4.5" style="font-size:7.6px">2</tspan></text>
<text x="70.8" y="88" text-anchor="end" style="font-size:24.5px">1.6</text>
<text x="70.8" y="145.9" text-anchor="end" style="font-size:24.5px">1.2</text>
<text x="70.8" y="203.9" text-anchor="end" style="font-size:24.5px">0.8</text>
<text x="70.8" y="261.8" text-anchor="end" style="font-size:24.5px">0.4</text>
<text x="70.8" y="319.8" text-anchor="end" style="font-size:24.5px">0</text>
<text x="70.8" y="377.8" text-anchor="end" style="font-size:24.5px">-0.4</text>
<text x="70.8" y="435.7" text-anchor="end" style="font-size:24.5px">-0.8</text>
<text x="70.8" y="493.7" text-anchor="end" style="font-size:24.5px">-1.2</text>
<text x="0" y="0" transform="translate(79.3,529) scale(0.95,1)" text-anchor="middle" style="font-family:'Liberation Sans',sans-serif;font-size:26.8px">&#915;</text>
<text x="344.4" y="527.7" text-anchor="middle" style="font-size:25px">Y</text>
<text x="368.6" y="527.7" text-anchor="middle" style="font-size:24.5px">0</text>
<text x="413" y="527.7" text-anchor="middle" style="font-size:24.5px">2</text>
<text x="458" y="527.7" text-anchor="middle" style="font-size:24.5px">4</text>
<text x="499" y="527.7" text-anchor="middle" style="font-size:24.5px">0</text>
<text x="555.3" y="527.7" text-anchor="middle" style="font-size:24.5px">1</text>
<text x="610.8" y="527.7" text-anchor="middle" style="font-size:24.5px">2</text>
<text x="631" y="527.7" text-anchor="middle" style="font-size:24.5px">0</text>
<text x="658" y="527.7" text-anchor="middle" style="font-size:24.5px">2</text>
<text x="686.2" y="527.7" text-anchor="middle" style="font-size:24.5px">4</text>
<text x="714.8" y="527.7" text-anchor="middle" style="font-size:24.5px">6</text>
<text x="742.5" y="527.7" text-anchor="middle" style="font-size:24.5px">8</text>
<text transform="translate(22.6,291) rotate(-90)" text-anchor="middle" style="font-size:25.6px">Energy (eV)</text>
<text x="73.1" y="23.8" text-anchor="middle" style="font-size:30px">(a)</text>
<text x="360.1" y="23.8" text-anchor="middle" style="font-size:30px">(b)</text>
<text x="488.9" y="23.8" text-anchor="middle" style="font-size:30px">(c)</text>
<text x="622.1" y="23.8" text-anchor="middle" style="font-size:30px">(d)</text>
<text x="135.5" y="39.3" style="font-size:28px;font-weight:bold">Fe - 25 - WS<tspan dy="5" style="font-size:18px">2</tspan></text>
<text x="408.5" y="39.2" style="font-size:28px;font-weight:bold">Fe</text>
<text x="533" y="39.2" style="font-size:28px;font-weight:bold">W<tspan dy="5" style="font-size:18px">N</tspan></text>
<text x="653.5" y="39.2" style="font-size:28px;font-weight:bold">W<tspan dy="5" style="font-size:18px">edge</tspan></text>
</svg></body></html>
